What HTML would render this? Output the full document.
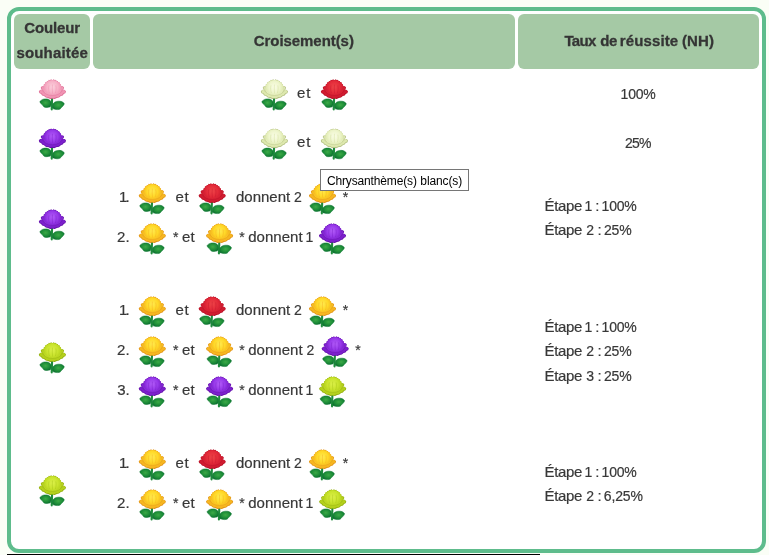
<!DOCTYPE html><html lang="fr"><head><meta charset="utf-8"><title>Chrysanthèmes</title><style>
html,body{margin:0;padding:0}body{width:769px;height:555px;overflow:hidden;position:relative;background:#fafef6;font-family:"Liberation Sans",sans-serif;color:#383838}
.tb{position:absolute;left:7px;top:7px;width:751px;height:538px;border:4px solid #5ebc8c;border-radius:12px;background:#fff}
.th{position:absolute;background:#a5c9a5;border-radius:6px}
.fl{position:absolute}
.t{position:absolute;white-space:pre;font-size:15px;line-height:20px;height:20px;-webkit-text-stroke:0.2px #383838}
.h{font-weight:bold;color:#353535;-webkit-text-stroke:0.3px #353535}
.tt{color:#000;-webkit-text-stroke:0}
.tip{position:absolute;left:320px;top:169px;width:147px;height:20px;border:1px solid #767676;background:#fff}
.bl{position:absolute;left:7px;top:554px;width:533px;height:1px;background:#000}
</style></head><body>
<div class="tb"></div>
<div class="th" style="left:14px;top:14px;width:76px;height:54.7px"></div>
<div class="th" style="left:93px;top:14px;width:422px;height:54.7px"></div>
<div class="th" style="left:518px;top:14px;width:241px;height:54.7px"></div>
<svg class="fl" style="left:36px;top:79px;" width="33" height="33" viewBox="0 0 33 33"><defs><radialGradient id="h1" cx="16.1" cy="8" r="9.2" gradientUnits="userSpaceOnUse"><stop offset="0" stop-color="#fbd1dd"/><stop offset="0.6" stop-color="#f7b3c8"/><stop offset="1" stop-color="#f094b3"/></radialGradient><radialGradient id="l1" cx="0.5" cy="0.45" r="0.6"><stop offset="0" stop-color="#3caa46"/><stop offset="0.6" stop-color="#1d8c38"/><stop offset="1" stop-color="#0c6c2e"/></radialGradient></defs><g transform="translate(0.3 0)"><g transform="translate(-0.1 0)"><path d="M15.9 18.5C15.8 23 15.6 27 15.5 30.4" fill="none" stroke="#1f8c3c" stroke-width="2.1" stroke-linecap="round"/><path d="M14.7 22.6C14.3 21.5 13.1 20.8 12.2 20.3C11.3 19.9 10.5 19.9 9.5 19.9C8.5 19.9 7.4 20.0 6.4 20.4C5.5 20.8 4.1 21.7 3.8 22.4C3.5 23.1 4.3 24.0 4.7 24.6C5.1 25.2 5.9 25.6 6.4 26.1C6.9 26.6 7.1 27.4 7.6 27.8C8.1 28.2 8.8 28.4 9.6 28.5C10.4 28.6 11.4 28.4 12.2 28.2C13.0 28.0 14.1 28.1 14.5 27.2C14.9 26.3 15.1 23.8 14.7 22.6Z" fill="url(#l1)" stroke="#0f7a34" stroke-width="0.5"/><path d="M16.6 25.2C17.0 24.2 17.9 23.5 18.8 23.0C19.7 22.5 20.9 22.3 22.0 22.2C23.1 22.1 24.5 22.2 25.5 22.6C26.5 23.0 27.8 23.9 28.0 24.6C28.2 25.3 27.4 26.2 27.0 26.8C26.6 27.4 26.0 27.8 25.5 28.3C25.0 28.8 24.7 29.5 24.0 29.9C23.3 30.3 22.4 30.6 21.5 30.6C20.6 30.7 19.5 30.4 18.6 30.2C17.8 30.0 16.7 30.0 16.4 29.2C16.1 28.4 16.2 26.2 16.6 25.2Z" fill="url(#l1)" stroke="#0f7a34" stroke-width="0.5"/></g><path d="M16.1 1.1C16.5 1.1 17.0 0.2 17.4 0.2C17.8 0.2 18.2 1.0 18.6 1.1C19.0 1.2 19.3 0.7 19.6 0.8C19.9 0.9 19.9 1.6 20.2 1.9C20.5 2.1 21.3 1.8 21.6 2.0C21.8 2.3 21.6 3.0 21.9 3.2C22.1 3.5 22.9 3.2 23.2 3.5C23.5 3.8 23.2 4.7 23.5 5.0C23.7 5.3 24.5 5.2 24.7 5.5C24.9 5.9 24.5 6.5 24.7 6.8C24.8 7.2 25.0 7.4 25.4 7.5C25.8 7.6 26.4 7.2 26.8 7.4C27.2 7.6 27.6 8.2 27.7 8.6C27.8 9.0 27.4 9.5 27.2 9.9C27.0 10.3 26.4 10.7 26.5 10.9C26.6 11.1 27.6 10.7 28.1 10.9C28.6 11.1 29.3 11.5 29.5 11.9C29.7 12.3 29.6 12.7 29.5 13.1C29.4 13.5 29.3 13.9 29.0 14.2C28.6 14.5 27.9 14.6 27.5 14.9C27.0 15.3 26.8 16.0 26.4 16.4C25.9 16.8 25.1 16.7 24.5 17.1C23.9 17.5 23.4 18.2 22.7 18.6C22.0 18.9 21.3 18.7 20.6 18.9C19.8 19.1 19.1 19.8 18.5 19.9C17.8 20.1 17.4 19.8 16.9 19.8C16.4 19.7 15.8 19.7 15.3 19.8C14.8 19.8 14.4 20.1 13.8 19.9C13.1 19.8 12.4 19.1 11.7 18.9C10.9 18.7 10.2 18.9 9.5 18.6C8.8 18.2 8.3 17.5 7.7 17.1C7.1 16.7 6.3 16.8 5.9 16.4C5.4 16.0 5.2 15.3 4.8 14.9C4.3 14.6 3.6 14.5 3.3 14.2C2.9 13.9 2.8 13.5 2.7 13.1C2.6 12.7 2.5 12.3 2.7 11.9C2.9 11.5 3.6 11.1 4.1 10.9C4.6 10.7 5.6 11.1 5.7 10.9C5.9 10.7 5.2 10.3 5.0 9.9C4.8 9.5 4.4 9.0 4.5 8.6C4.6 8.2 5.0 7.6 5.4 7.4C5.8 7.2 6.4 7.6 6.8 7.5C7.2 7.4 7.4 7.2 7.6 6.8C7.7 6.5 7.3 5.9 7.5 5.5C7.7 5.2 8.5 5.3 8.8 5.0C9.0 4.7 8.7 3.8 9.0 3.5C9.3 3.2 10.1 3.5 10.4 3.2C10.6 3.0 10.4 2.3 10.7 2.0C10.9 1.8 11.7 2.1 12.0 1.9C12.3 1.6 12.3 0.9 12.6 0.8C12.9 0.7 13.2 1.2 13.6 1.1C14.0 1.0 14.4 0.2 14.8 0.2C15.2 0.2 15.7 1.1 16.1 1.1Z" fill="#de6c94"/><path d="M16.1 2.0C16.5 2.0 16.9 1.0 17.3 1.0C17.7 1.0 18.0 1.9 18.4 2.0C18.7 2.1 19.1 1.5 19.3 1.6C19.5 1.7 19.5 2.4 19.8 2.6C20.1 2.8 20.8 2.5 21.1 2.8C21.3 3.0 21.1 3.6 21.3 3.8C21.6 4.1 22.3 3.9 22.6 4.1C22.8 4.4 22.5 5.2 22.7 5.5C23.0 5.8 23.8 5.7 23.9 5.9C24.1 6.2 23.7 6.8 23.9 7.1C24.0 7.4 24.2 7.6 24.6 7.7C24.9 7.8 25.6 7.4 26.0 7.6C26.4 7.8 26.8 8.3 26.9 8.7C26.9 9.1 26.6 9.6 26.4 9.9C26.1 10.3 25.5 10.7 25.7 10.8C25.8 11.0 26.8 10.7 27.3 10.8C27.8 11.0 28.4 11.4 28.7 11.8C28.9 12.1 28.8 12.5 28.7 12.9C28.6 13.3 28.5 13.7 28.1 13.9C27.8 14.2 27.1 14.3 26.7 14.6C26.3 14.9 26.1 15.6 25.6 15.9C25.2 16.3 24.4 16.2 23.9 16.6C23.3 16.9 22.8 17.6 22.2 17.9C21.6 18.1 20.8 17.9 20.2 18.1C19.5 18.3 18.8 19.0 18.3 19.1C17.7 19.2 17.3 18.9 16.8 18.9C16.3 18.9 15.9 18.9 15.4 18.9C14.9 18.9 14.5 19.2 13.9 19.1C13.4 19.0 12.7 18.3 12.0 18.1C11.4 17.9 10.6 18.1 10.0 17.9C9.4 17.6 8.9 16.9 8.3 16.6C7.8 16.2 7.0 16.3 6.6 15.9C6.1 15.6 5.9 14.9 5.5 14.6C5.1 14.3 4.4 14.2 4.1 13.9C3.7 13.7 3.6 13.3 3.5 12.9C3.4 12.5 3.3 12.1 3.5 11.8C3.8 11.4 4.4 11.0 4.9 10.8C5.4 10.7 6.4 11.0 6.5 10.8C6.7 10.7 6.1 10.3 5.8 9.9C5.6 9.6 5.3 9.1 5.3 8.7C5.4 8.3 5.8 7.8 6.2 7.6C6.6 7.4 7.3 7.8 7.6 7.7C8.0 7.6 8.2 7.4 8.3 7.1C8.5 6.8 8.1 6.2 8.3 5.9C8.4 5.7 9.2 5.8 9.5 5.5C9.7 5.2 9.4 4.4 9.6 4.1C9.9 3.9 10.6 4.1 10.9 3.8C11.1 3.6 10.9 3.0 11.1 2.8C11.4 2.5 12.1 2.8 12.4 2.6C12.7 2.4 12.7 1.7 12.9 1.6C13.1 1.5 13.5 2.1 13.8 2.0C14.2 1.9 14.5 1.0 14.9 1.0C15.3 1.0 15.7 2.0 16.1 2.0Z" fill="#f094b3"/><path d="M5.4 8.6C5.2 12.4 10 16.6 16.1 16.6C22.2 16.6 27 12.4 26.8 8.6C24.8 5 7.4 5 5.4 8.6Z" fill="#f7b3c8" opacity="0.55"/><ellipse cx="16.1" cy="8.3" rx="9.0" ry="7.3" fill="url(#h1)"/><path d="M5.6 10.9C7 14 11 16.4 16.1 16.5C21.2 16.4 25.2 14 26.6 10.9M6.7 7.5C6.1 9.6 6.6 11.6 8 13.3M25.5 7.5C26.1 9.6 25.6 11.6 24.2 13.3" fill="none" stroke="#de6c94" stroke-width="0.7" stroke-linecap="round" opacity="0.6"/><path d="M12.6 6.8C12.1 9 12.3 11.6 13 13.6M16.1 6C15.9 8.5 15.9 11.6 16.2 14.2M19.6 6.8C20.1 9 19.9 11.6 19.2 13.6" fill="none" stroke="#ee8cae" stroke-width="0.9" stroke-linecap="round" opacity="0.5"/></g></svg>
<svg class="fl" style="left:36px;top:128px;" width="33" height="33" viewBox="0 0 33 33"><defs><radialGradient id="h2" cx="16.1" cy="8" r="9.2" gradientUnits="userSpaceOnUse"><stop offset="0" stop-color="#b25cf8"/><stop offset="0.6" stop-color="#983aea"/><stop offset="1" stop-color="#7c20cc"/></radialGradient><radialGradient id="l2" cx="0.5" cy="0.45" r="0.6"><stop offset="0" stop-color="#3caa46"/><stop offset="0.6" stop-color="#1d8c38"/><stop offset="1" stop-color="#0c6c2e"/></radialGradient></defs><g transform="translate(0.3 0.2)"><g transform="translate(-0.1 0)"><path d="M15.9 18.5C15.8 23 15.6 27 15.5 30.4" fill="none" stroke="#1f8c3c" stroke-width="2.1" stroke-linecap="round"/><path d="M14.7 22.6C14.3 21.5 13.1 20.8 12.2 20.3C11.3 19.9 10.5 19.9 9.5 19.9C8.5 19.9 7.4 20.0 6.4 20.4C5.5 20.8 4.1 21.7 3.8 22.4C3.5 23.1 4.3 24.0 4.7 24.6C5.1 25.2 5.9 25.6 6.4 26.1C6.9 26.6 7.1 27.4 7.6 27.8C8.1 28.2 8.8 28.4 9.6 28.5C10.4 28.6 11.4 28.4 12.2 28.2C13.0 28.0 14.1 28.1 14.5 27.2C14.9 26.3 15.1 23.8 14.7 22.6Z" fill="url(#l2)" stroke="#0f7a34" stroke-width="0.5"/><path d="M16.6 25.2C17.0 24.2 17.9 23.5 18.8 23.0C19.7 22.5 20.9 22.3 22.0 22.2C23.1 22.1 24.5 22.2 25.5 22.6C26.5 23.0 27.8 23.9 28.0 24.6C28.2 25.3 27.4 26.2 27.0 26.8C26.6 27.4 26.0 27.8 25.5 28.3C25.0 28.8 24.7 29.5 24.0 29.9C23.3 30.3 22.4 30.6 21.5 30.6C20.6 30.7 19.5 30.4 18.6 30.2C17.8 30.0 16.7 30.0 16.4 29.2C16.1 28.4 16.2 26.2 16.6 25.2Z" fill="url(#l2)" stroke="#0f7a34" stroke-width="0.5"/></g><path d="M16.1 1.1C16.5 1.1 17.0 0.2 17.4 0.2C17.8 0.2 18.2 1.0 18.6 1.1C19.0 1.2 19.3 0.7 19.6 0.8C19.9 0.9 19.9 1.6 20.2 1.9C20.5 2.1 21.3 1.8 21.6 2.0C21.8 2.3 21.6 3.0 21.9 3.2C22.1 3.5 22.9 3.2 23.2 3.5C23.5 3.8 23.2 4.7 23.5 5.0C23.7 5.3 24.5 5.2 24.7 5.5C24.9 5.9 24.5 6.5 24.7 6.8C24.8 7.2 25.0 7.4 25.4 7.5C25.8 7.6 26.4 7.2 26.8 7.4C27.2 7.6 27.6 8.2 27.7 8.6C27.8 9.0 27.4 9.5 27.2 9.9C27.0 10.3 26.4 10.7 26.5 10.9C26.6 11.1 27.6 10.7 28.1 10.9C28.6 11.1 29.3 11.5 29.5 11.9C29.7 12.3 29.6 12.7 29.5 13.1C29.4 13.5 29.3 13.9 29.0 14.2C28.6 14.5 27.9 14.6 27.5 14.9C27.0 15.3 26.8 16.0 26.4 16.4C25.9 16.8 25.1 16.7 24.5 17.1C23.9 17.5 23.4 18.2 22.7 18.6C22.0 18.9 21.3 18.7 20.6 18.9C19.8 19.1 19.1 19.8 18.5 19.9C17.8 20.1 17.4 19.8 16.9 19.8C16.4 19.7 15.8 19.7 15.3 19.8C14.8 19.8 14.4 20.1 13.8 19.9C13.1 19.8 12.4 19.1 11.7 18.9C10.9 18.7 10.2 18.9 9.5 18.6C8.8 18.2 8.3 17.5 7.7 17.1C7.1 16.7 6.3 16.8 5.9 16.4C5.4 16.0 5.2 15.3 4.8 14.9C4.3 14.6 3.6 14.5 3.3 14.2C2.9 13.9 2.8 13.5 2.7 13.1C2.6 12.7 2.5 12.3 2.7 11.9C2.9 11.5 3.6 11.1 4.1 10.9C4.6 10.7 5.6 11.1 5.7 10.9C5.9 10.7 5.2 10.3 5.0 9.9C4.8 9.5 4.4 9.0 4.5 8.6C4.6 8.2 5.0 7.6 5.4 7.4C5.8 7.2 6.4 7.6 6.8 7.5C7.2 7.4 7.4 7.2 7.6 6.8C7.7 6.5 7.3 5.9 7.5 5.5C7.7 5.2 8.5 5.3 8.8 5.0C9.0 4.7 8.7 3.8 9.0 3.5C9.3 3.2 10.1 3.5 10.4 3.2C10.6 3.0 10.4 2.3 10.7 2.0C10.9 1.8 11.7 2.1 12.0 1.9C12.3 1.6 12.3 0.9 12.6 0.8C12.9 0.7 13.2 1.2 13.6 1.1C14.0 1.0 14.4 0.2 14.8 0.2C15.2 0.2 15.7 1.1 16.1 1.1Z" fill="#6410aa"/><path d="M16.1 2.0C16.5 2.0 16.9 1.0 17.3 1.0C17.7 1.0 18.0 1.9 18.4 2.0C18.7 2.1 19.1 1.5 19.3 1.6C19.5 1.7 19.5 2.4 19.8 2.6C20.1 2.8 20.8 2.5 21.1 2.8C21.3 3.0 21.1 3.6 21.3 3.8C21.6 4.1 22.3 3.9 22.6 4.1C22.8 4.4 22.5 5.2 22.7 5.5C23.0 5.8 23.8 5.7 23.9 5.9C24.1 6.2 23.7 6.8 23.9 7.1C24.0 7.4 24.2 7.6 24.6 7.7C24.9 7.8 25.6 7.4 26.0 7.6C26.4 7.8 26.8 8.3 26.9 8.7C26.9 9.1 26.6 9.6 26.4 9.9C26.1 10.3 25.5 10.7 25.7 10.8C25.8 11.0 26.8 10.7 27.3 10.8C27.8 11.0 28.4 11.4 28.7 11.8C28.9 12.1 28.8 12.5 28.7 12.9C28.6 13.3 28.5 13.7 28.1 13.9C27.8 14.2 27.1 14.3 26.7 14.6C26.3 14.9 26.1 15.6 25.6 15.9C25.2 16.3 24.4 16.2 23.9 16.6C23.3 16.9 22.8 17.6 22.2 17.9C21.6 18.1 20.8 17.9 20.2 18.1C19.5 18.3 18.8 19.0 18.3 19.1C17.7 19.2 17.3 18.9 16.8 18.9C16.3 18.9 15.9 18.9 15.4 18.9C14.9 18.9 14.5 19.2 13.9 19.1C13.4 19.0 12.7 18.3 12.0 18.1C11.4 17.9 10.6 18.1 10.0 17.9C9.4 17.6 8.9 16.9 8.3 16.6C7.8 16.2 7.0 16.3 6.6 15.9C6.1 15.6 5.9 14.9 5.5 14.6C5.1 14.3 4.4 14.2 4.1 13.9C3.7 13.7 3.6 13.3 3.5 12.9C3.4 12.5 3.3 12.1 3.5 11.8C3.8 11.4 4.4 11.0 4.9 10.8C5.4 10.7 6.4 11.0 6.5 10.8C6.7 10.7 6.1 10.3 5.8 9.9C5.6 9.6 5.3 9.1 5.3 8.7C5.4 8.3 5.8 7.8 6.2 7.6C6.6 7.4 7.3 7.8 7.6 7.7C8.0 7.6 8.2 7.4 8.3 7.1C8.5 6.8 8.1 6.2 8.3 5.9C8.4 5.7 9.2 5.8 9.5 5.5C9.7 5.2 9.4 4.4 9.6 4.1C9.9 3.9 10.6 4.1 10.9 3.8C11.1 3.6 10.9 3.0 11.1 2.8C11.4 2.5 12.1 2.8 12.4 2.6C12.7 2.4 12.7 1.7 12.9 1.6C13.1 1.5 13.5 2.1 13.8 2.0C14.2 1.9 14.5 1.0 14.9 1.0C15.3 1.0 15.7 2.0 16.1 2.0Z" fill="#7c20cc"/><path d="M5.4 8.6C5.2 12.4 10 16.6 16.1 16.6C22.2 16.6 27 12.4 26.8 8.6C24.8 5 7.4 5 5.4 8.6Z" fill="#983aea" opacity="0.55"/><ellipse cx="16.1" cy="8.3" rx="9.0" ry="7.3" fill="url(#h2)"/><path d="M5.6 10.9C7 14 11 16.4 16.1 16.5C21.2 16.4 25.2 14 26.6 10.9M6.7 7.5C6.1 9.6 6.6 11.6 8 13.3M25.5 7.5C26.1 9.6 25.6 11.6 24.2 13.3" fill="none" stroke="#6410aa" stroke-width="0.7" stroke-linecap="round" opacity="0.6"/><path d="M12.6 6.8C12.1 9 12.3 11.6 13 13.6M16.1 6C15.9 8.5 15.9 11.6 16.2 14.2M19.6 6.8C20.1 9 19.9 11.6 19.2 13.6" fill="none" stroke="#7a20c8" stroke-width="0.9" stroke-linecap="round" opacity="0.5"/></g></svg>
<svg class="fl" style="left:36px;top:209px;" width="33" height="33" viewBox="0 0 33 33"><defs><radialGradient id="h3" cx="16.1" cy="8" r="9.2" gradientUnits="userSpaceOnUse"><stop offset="0" stop-color="#b25cf8"/><stop offset="0.6" stop-color="#983aea"/><stop offset="1" stop-color="#7c20cc"/></radialGradient><radialGradient id="l3" cx="0.5" cy="0.45" r="0.6"><stop offset="0" stop-color="#3caa46"/><stop offset="0.6" stop-color="#1d8c38"/><stop offset="1" stop-color="#0c6c2e"/></radialGradient></defs><g transform="translate(0.3 0)"><g transform="translate(-0.1 0)"><path d="M15.9 18.5C15.8 23 15.6 27 15.5 30.4" fill="none" stroke="#1f8c3c" stroke-width="2.1" stroke-linecap="round"/><path d="M14.7 22.6C14.3 21.5 13.1 20.8 12.2 20.3C11.3 19.9 10.5 19.9 9.5 19.9C8.5 19.9 7.4 20.0 6.4 20.4C5.5 20.8 4.1 21.7 3.8 22.4C3.5 23.1 4.3 24.0 4.7 24.6C5.1 25.2 5.9 25.6 6.4 26.1C6.9 26.6 7.1 27.4 7.6 27.8C8.1 28.2 8.8 28.4 9.6 28.5C10.4 28.6 11.4 28.4 12.2 28.2C13.0 28.0 14.1 28.1 14.5 27.2C14.9 26.3 15.1 23.8 14.7 22.6Z" fill="url(#l3)" stroke="#0f7a34" stroke-width="0.5"/><path d="M16.6 25.2C17.0 24.2 17.9 23.5 18.8 23.0C19.7 22.5 20.9 22.3 22.0 22.2C23.1 22.1 24.5 22.2 25.5 22.6C26.5 23.0 27.8 23.9 28.0 24.6C28.2 25.3 27.4 26.2 27.0 26.8C26.6 27.4 26.0 27.8 25.5 28.3C25.0 28.8 24.7 29.5 24.0 29.9C23.3 30.3 22.4 30.6 21.5 30.6C20.6 30.7 19.5 30.4 18.6 30.2C17.8 30.0 16.7 30.0 16.4 29.2C16.1 28.4 16.2 26.2 16.6 25.2Z" fill="url(#l3)" stroke="#0f7a34" stroke-width="0.5"/></g><path d="M16.1 1.1C16.5 1.1 17.0 0.2 17.4 0.2C17.8 0.2 18.2 1.0 18.6 1.1C19.0 1.2 19.3 0.7 19.6 0.8C19.9 0.9 19.9 1.6 20.2 1.9C20.5 2.1 21.3 1.8 21.6 2.0C21.8 2.3 21.6 3.0 21.9 3.2C22.1 3.5 22.9 3.2 23.2 3.5C23.5 3.8 23.2 4.7 23.5 5.0C23.7 5.3 24.5 5.2 24.7 5.5C24.9 5.9 24.5 6.5 24.7 6.8C24.8 7.2 25.0 7.4 25.4 7.5C25.8 7.6 26.4 7.2 26.8 7.4C27.2 7.6 27.6 8.2 27.7 8.6C27.8 9.0 27.4 9.5 27.2 9.9C27.0 10.3 26.4 10.7 26.5 10.9C26.6 11.1 27.6 10.7 28.1 10.9C28.6 11.1 29.3 11.5 29.5 11.9C29.7 12.3 29.6 12.7 29.5 13.1C29.4 13.5 29.3 13.9 29.0 14.2C28.6 14.5 27.9 14.6 27.5 14.9C27.0 15.3 26.8 16.0 26.4 16.4C25.9 16.8 25.1 16.7 24.5 17.1C23.9 17.5 23.4 18.2 22.7 18.6C22.0 18.9 21.3 18.7 20.6 18.9C19.8 19.1 19.1 19.8 18.5 19.9C17.8 20.1 17.4 19.8 16.9 19.8C16.4 19.7 15.8 19.7 15.3 19.8C14.8 19.8 14.4 20.1 13.8 19.9C13.1 19.8 12.4 19.1 11.7 18.9C10.9 18.7 10.2 18.9 9.5 18.6C8.8 18.2 8.3 17.5 7.7 17.1C7.1 16.7 6.3 16.8 5.9 16.4C5.4 16.0 5.2 15.3 4.8 14.9C4.3 14.6 3.6 14.5 3.3 14.2C2.9 13.9 2.8 13.5 2.7 13.1C2.6 12.7 2.5 12.3 2.7 11.9C2.9 11.5 3.6 11.1 4.1 10.9C4.6 10.7 5.6 11.1 5.7 10.9C5.9 10.7 5.2 10.3 5.0 9.9C4.8 9.5 4.4 9.0 4.5 8.6C4.6 8.2 5.0 7.6 5.4 7.4C5.8 7.2 6.4 7.6 6.8 7.5C7.2 7.4 7.4 7.2 7.6 6.8C7.7 6.5 7.3 5.9 7.5 5.5C7.7 5.2 8.5 5.3 8.8 5.0C9.0 4.7 8.7 3.8 9.0 3.5C9.3 3.2 10.1 3.5 10.4 3.2C10.6 3.0 10.4 2.3 10.7 2.0C10.9 1.8 11.7 2.1 12.0 1.9C12.3 1.6 12.3 0.9 12.6 0.8C12.9 0.7 13.2 1.2 13.6 1.1C14.0 1.0 14.4 0.2 14.8 0.2C15.2 0.2 15.7 1.1 16.1 1.1Z" fill="#6410aa"/><path d="M16.1 2.0C16.5 2.0 16.9 1.0 17.3 1.0C17.7 1.0 18.0 1.9 18.4 2.0C18.7 2.1 19.1 1.5 19.3 1.6C19.5 1.7 19.5 2.4 19.8 2.6C20.1 2.8 20.8 2.5 21.1 2.8C21.3 3.0 21.1 3.6 21.3 3.8C21.6 4.1 22.3 3.9 22.6 4.1C22.8 4.4 22.5 5.2 22.7 5.5C23.0 5.8 23.8 5.7 23.9 5.9C24.1 6.2 23.7 6.8 23.9 7.1C24.0 7.4 24.2 7.6 24.6 7.7C24.9 7.8 25.6 7.4 26.0 7.6C26.4 7.8 26.8 8.3 26.9 8.7C26.9 9.1 26.6 9.6 26.4 9.9C26.1 10.3 25.5 10.7 25.7 10.8C25.8 11.0 26.8 10.7 27.3 10.8C27.8 11.0 28.4 11.4 28.7 11.8C28.9 12.1 28.8 12.5 28.7 12.9C28.6 13.3 28.5 13.7 28.1 13.9C27.8 14.2 27.1 14.3 26.7 14.6C26.3 14.9 26.1 15.6 25.6 15.9C25.2 16.3 24.4 16.2 23.9 16.6C23.3 16.9 22.8 17.6 22.2 17.9C21.6 18.1 20.8 17.9 20.2 18.1C19.5 18.3 18.8 19.0 18.3 19.1C17.7 19.2 17.3 18.9 16.8 18.9C16.3 18.9 15.9 18.9 15.4 18.9C14.9 18.9 14.5 19.2 13.9 19.1C13.4 19.0 12.7 18.3 12.0 18.1C11.4 17.9 10.6 18.1 10.0 17.9C9.4 17.6 8.9 16.9 8.3 16.6C7.8 16.2 7.0 16.3 6.6 15.9C6.1 15.6 5.9 14.9 5.5 14.6C5.1 14.3 4.4 14.2 4.1 13.9C3.7 13.7 3.6 13.3 3.5 12.9C3.4 12.5 3.3 12.1 3.5 11.8C3.8 11.4 4.4 11.0 4.9 10.8C5.4 10.7 6.4 11.0 6.5 10.8C6.7 10.7 6.1 10.3 5.8 9.9C5.6 9.6 5.3 9.1 5.3 8.7C5.4 8.3 5.8 7.8 6.2 7.6C6.6 7.4 7.3 7.8 7.6 7.7C8.0 7.6 8.2 7.4 8.3 7.1C8.5 6.8 8.1 6.2 8.3 5.9C8.4 5.7 9.2 5.8 9.5 5.5C9.7 5.2 9.4 4.4 9.6 4.1C9.9 3.9 10.6 4.1 10.9 3.8C11.1 3.6 10.9 3.0 11.1 2.8C11.4 2.5 12.1 2.8 12.4 2.6C12.7 2.4 12.7 1.7 12.9 1.6C13.1 1.5 13.5 2.1 13.8 2.0C14.2 1.9 14.5 1.0 14.9 1.0C15.3 1.0 15.7 2.0 16.1 2.0Z" fill="#7c20cc"/><path d="M5.4 8.6C5.2 12.4 10 16.6 16.1 16.6C22.2 16.6 27 12.4 26.8 8.6C24.8 5 7.4 5 5.4 8.6Z" fill="#983aea" opacity="0.55"/><ellipse cx="16.1" cy="8.3" rx="9.0" ry="7.3" fill="url(#h3)"/><path d="M5.6 10.9C7 14 11 16.4 16.1 16.5C21.2 16.4 25.2 14 26.6 10.9M6.7 7.5C6.1 9.6 6.6 11.6 8 13.3M25.5 7.5C26.1 9.6 25.6 11.6 24.2 13.3" fill="none" stroke="#6410aa" stroke-width="0.7" stroke-linecap="round" opacity="0.6"/><path d="M12.6 6.8C12.1 9 12.3 11.6 13 13.6M16.1 6C15.9 8.5 15.9 11.6 16.2 14.2M19.6 6.8C20.1 9 19.9 11.6 19.2 13.6" fill="none" stroke="#7a20c8" stroke-width="0.9" stroke-linecap="round" opacity="0.5"/></g></svg>
<svg class="fl" style="left:36px;top:342px;" width="33" height="33" viewBox="0 0 33 33"><defs><radialGradient id="h4" cx="16.1" cy="8" r="9.2" gradientUnits="userSpaceOnUse"><stop offset="0" stop-color="#dcf04a"/><stop offset="0.6" stop-color="#cae42e"/><stop offset="1" stop-color="#b4d01c"/></radialGradient><radialGradient id="l4" cx="0.5" cy="0.45" r="0.6"><stop offset="0" stop-color="#3caa46"/><stop offset="0.6" stop-color="#1d8c38"/><stop offset="1" stop-color="#0c6c2e"/></radialGradient></defs><g transform="translate(0.3 0)"><g transform="translate(-0.1 0)"><path d="M15.9 18.5C15.8 23 15.6 27 15.5 30.4" fill="none" stroke="#1f8c3c" stroke-width="2.1" stroke-linecap="round"/><path d="M14.7 22.6C14.3 21.5 13.1 20.8 12.2 20.3C11.3 19.9 10.5 19.9 9.5 19.9C8.5 19.9 7.4 20.0 6.4 20.4C5.5 20.8 4.1 21.7 3.8 22.4C3.5 23.1 4.3 24.0 4.7 24.6C5.1 25.2 5.9 25.6 6.4 26.1C6.9 26.6 7.1 27.4 7.6 27.8C8.1 28.2 8.8 28.4 9.6 28.5C10.4 28.6 11.4 28.4 12.2 28.2C13.0 28.0 14.1 28.1 14.5 27.2C14.9 26.3 15.1 23.8 14.7 22.6Z" fill="url(#l4)" stroke="#0f7a34" stroke-width="0.5"/><path d="M16.6 25.2C17.0 24.2 17.9 23.5 18.8 23.0C19.7 22.5 20.9 22.3 22.0 22.2C23.1 22.1 24.5 22.2 25.5 22.6C26.5 23.0 27.8 23.9 28.0 24.6C28.2 25.3 27.4 26.2 27.0 26.8C26.6 27.4 26.0 27.8 25.5 28.3C25.0 28.8 24.7 29.5 24.0 29.9C23.3 30.3 22.4 30.6 21.5 30.6C20.6 30.7 19.5 30.4 18.6 30.2C17.8 30.0 16.7 30.0 16.4 29.2C16.1 28.4 16.2 26.2 16.6 25.2Z" fill="url(#l4)" stroke="#0f7a34" stroke-width="0.5"/></g><path d="M16.1 1.1C16.5 1.1 17.0 0.2 17.4 0.2C17.8 0.2 18.2 1.0 18.6 1.1C19.0 1.2 19.3 0.7 19.6 0.8C19.9 0.9 19.9 1.6 20.2 1.9C20.5 2.1 21.3 1.8 21.6 2.0C21.8 2.3 21.6 3.0 21.9 3.2C22.1 3.5 22.9 3.2 23.2 3.5C23.5 3.8 23.2 4.7 23.5 5.0C23.7 5.3 24.5 5.2 24.7 5.5C24.9 5.9 24.5 6.5 24.7 6.8C24.8 7.2 25.0 7.4 25.4 7.5C25.8 7.6 26.4 7.2 26.8 7.4C27.2 7.6 27.6 8.2 27.7 8.6C27.8 9.0 27.4 9.5 27.2 9.9C27.0 10.3 26.4 10.7 26.5 10.9C26.6 11.1 27.6 10.7 28.1 10.9C28.6 11.1 29.3 11.5 29.5 11.9C29.7 12.3 29.6 12.7 29.5 13.1C29.4 13.5 29.3 13.9 29.0 14.2C28.6 14.5 27.9 14.6 27.5 14.9C27.0 15.3 26.8 16.0 26.4 16.4C25.9 16.8 25.1 16.7 24.5 17.1C23.9 17.5 23.4 18.2 22.7 18.6C22.0 18.9 21.3 18.7 20.6 18.9C19.8 19.1 19.1 19.8 18.5 19.9C17.8 20.1 17.4 19.8 16.9 19.8C16.4 19.7 15.8 19.7 15.3 19.8C14.8 19.8 14.4 20.1 13.8 19.9C13.1 19.8 12.4 19.1 11.7 18.9C10.9 18.7 10.2 18.9 9.5 18.6C8.8 18.2 8.3 17.5 7.7 17.1C7.1 16.7 6.3 16.8 5.9 16.4C5.4 16.0 5.2 15.3 4.8 14.9C4.3 14.6 3.6 14.5 3.3 14.2C2.9 13.9 2.8 13.5 2.7 13.1C2.6 12.7 2.5 12.3 2.7 11.9C2.9 11.5 3.6 11.1 4.1 10.9C4.6 10.7 5.6 11.1 5.7 10.9C5.9 10.7 5.2 10.3 5.0 9.9C4.8 9.5 4.4 9.0 4.5 8.6C4.6 8.2 5.0 7.6 5.4 7.4C5.8 7.2 6.4 7.6 6.8 7.5C7.2 7.4 7.4 7.2 7.6 6.8C7.7 6.5 7.3 5.9 7.5 5.5C7.7 5.2 8.5 5.3 8.8 5.0C9.0 4.7 8.7 3.8 9.0 3.5C9.3 3.2 10.1 3.5 10.4 3.2C10.6 3.0 10.4 2.3 10.7 2.0C10.9 1.8 11.7 2.1 12.0 1.9C12.3 1.6 12.3 0.9 12.6 0.8C12.9 0.7 13.2 1.2 13.6 1.1C14.0 1.0 14.4 0.2 14.8 0.2C15.2 0.2 15.7 1.1 16.1 1.1Z" fill="#93ae0e"/><path d="M16.1 2.0C16.5 2.0 16.9 1.0 17.3 1.0C17.7 1.0 18.0 1.9 18.4 2.0C18.7 2.1 19.1 1.5 19.3 1.6C19.5 1.7 19.5 2.4 19.8 2.6C20.1 2.8 20.8 2.5 21.1 2.8C21.3 3.0 21.1 3.6 21.3 3.8C21.6 4.1 22.3 3.9 22.6 4.1C22.8 4.4 22.5 5.2 22.7 5.5C23.0 5.8 23.8 5.7 23.9 5.9C24.1 6.2 23.7 6.8 23.9 7.1C24.0 7.4 24.2 7.6 24.6 7.7C24.9 7.8 25.6 7.4 26.0 7.6C26.4 7.8 26.8 8.3 26.9 8.7C26.9 9.1 26.6 9.6 26.4 9.9C26.1 10.3 25.5 10.7 25.7 10.8C25.8 11.0 26.8 10.7 27.3 10.8C27.8 11.0 28.4 11.4 28.7 11.8C28.9 12.1 28.8 12.5 28.7 12.9C28.6 13.3 28.5 13.7 28.1 13.9C27.8 14.2 27.1 14.3 26.7 14.6C26.3 14.9 26.1 15.6 25.6 15.9C25.2 16.3 24.4 16.2 23.9 16.6C23.3 16.9 22.8 17.6 22.2 17.9C21.6 18.1 20.8 17.9 20.2 18.1C19.5 18.3 18.8 19.0 18.3 19.1C17.7 19.2 17.3 18.9 16.8 18.9C16.3 18.9 15.9 18.9 15.4 18.9C14.9 18.9 14.5 19.2 13.9 19.1C13.4 19.0 12.7 18.3 12.0 18.1C11.4 17.9 10.6 18.1 10.0 17.9C9.4 17.6 8.9 16.9 8.3 16.6C7.8 16.2 7.0 16.3 6.6 15.9C6.1 15.6 5.9 14.9 5.5 14.6C5.1 14.3 4.4 14.2 4.1 13.9C3.7 13.7 3.6 13.3 3.5 12.9C3.4 12.5 3.3 12.1 3.5 11.8C3.8 11.4 4.4 11.0 4.9 10.8C5.4 10.7 6.4 11.0 6.5 10.8C6.7 10.7 6.1 10.3 5.8 9.9C5.6 9.6 5.3 9.1 5.3 8.7C5.4 8.3 5.8 7.8 6.2 7.6C6.6 7.4 7.3 7.8 7.6 7.7C8.0 7.6 8.2 7.4 8.3 7.1C8.5 6.8 8.1 6.2 8.3 5.9C8.4 5.7 9.2 5.8 9.5 5.5C9.7 5.2 9.4 4.4 9.6 4.1C9.9 3.9 10.6 4.1 10.9 3.8C11.1 3.6 10.9 3.0 11.1 2.8C11.4 2.5 12.1 2.8 12.4 2.6C12.7 2.4 12.7 1.7 12.9 1.6C13.1 1.5 13.5 2.1 13.8 2.0C14.2 1.9 14.5 1.0 14.9 1.0C15.3 1.0 15.7 2.0 16.1 2.0Z" fill="#b4d01c"/><path d="M5.4 8.6C5.2 12.4 10 16.6 16.1 16.6C22.2 16.6 27 12.4 26.8 8.6C24.8 5 7.4 5 5.4 8.6Z" fill="#cae42e" opacity="0.55"/><ellipse cx="16.1" cy="8.3" rx="9.0" ry="7.3" fill="url(#h4)"/><path d="M5.6 10.9C7 14 11 16.4 16.1 16.5C21.2 16.4 25.2 14 26.6 10.9M6.7 7.5C6.1 9.6 6.6 11.6 8 13.3M25.5 7.5C26.1 9.6 25.6 11.6 24.2 13.3" fill="none" stroke="#93ae0e" stroke-width="0.7" stroke-linecap="round" opacity="0.6"/><path d="M12.6 6.8C12.1 9 12.3 11.6 13 13.6M16.1 6C15.9 8.5 15.9 11.6 16.2 14.2M19.6 6.8C20.1 9 19.9 11.6 19.2 13.6" fill="none" stroke="#a6c416" stroke-width="0.9" stroke-linecap="round" opacity="0.5"/></g></svg>
<svg class="fl" style="left:36px;top:475px;" width="33" height="33" viewBox="0 0 33 33"><defs><radialGradient id="h5" cx="16.1" cy="8" r="9.2" gradientUnits="userSpaceOnUse"><stop offset="0" stop-color="#dcf04a"/><stop offset="0.6" stop-color="#cae42e"/><stop offset="1" stop-color="#b4d01c"/></radialGradient><radialGradient id="l5" cx="0.5" cy="0.45" r="0.6"><stop offset="0" stop-color="#3caa46"/><stop offset="0.6" stop-color="#1d8c38"/><stop offset="1" stop-color="#0c6c2e"/></radialGradient></defs><g transform="translate(0.3 0)"><g transform="translate(-0.1 0)"><path d="M15.9 18.5C15.8 23 15.6 27 15.5 30.4" fill="none" stroke="#1f8c3c" stroke-width="2.1" stroke-linecap="round"/><path d="M14.7 22.6C14.3 21.5 13.1 20.8 12.2 20.3C11.3 19.9 10.5 19.9 9.5 19.9C8.5 19.9 7.4 20.0 6.4 20.4C5.5 20.8 4.1 21.7 3.8 22.4C3.5 23.1 4.3 24.0 4.7 24.6C5.1 25.2 5.9 25.6 6.4 26.1C6.9 26.6 7.1 27.4 7.6 27.8C8.1 28.2 8.8 28.4 9.6 28.5C10.4 28.6 11.4 28.4 12.2 28.2C13.0 28.0 14.1 28.1 14.5 27.2C14.9 26.3 15.1 23.8 14.7 22.6Z" fill="url(#l5)" stroke="#0f7a34" stroke-width="0.5"/><path d="M16.6 25.2C17.0 24.2 17.9 23.5 18.8 23.0C19.7 22.5 20.9 22.3 22.0 22.2C23.1 22.1 24.5 22.2 25.5 22.6C26.5 23.0 27.8 23.9 28.0 24.6C28.2 25.3 27.4 26.2 27.0 26.8C26.6 27.4 26.0 27.8 25.5 28.3C25.0 28.8 24.7 29.5 24.0 29.9C23.3 30.3 22.4 30.6 21.5 30.6C20.6 30.7 19.5 30.4 18.6 30.2C17.8 30.0 16.7 30.0 16.4 29.2C16.1 28.4 16.2 26.2 16.6 25.2Z" fill="url(#l5)" stroke="#0f7a34" stroke-width="0.5"/></g><path d="M16.1 1.1C16.5 1.1 17.0 0.2 17.4 0.2C17.8 0.2 18.2 1.0 18.6 1.1C19.0 1.2 19.3 0.7 19.6 0.8C19.9 0.9 19.9 1.6 20.2 1.9C20.5 2.1 21.3 1.8 21.6 2.0C21.8 2.3 21.6 3.0 21.9 3.2C22.1 3.5 22.9 3.2 23.2 3.5C23.5 3.8 23.2 4.7 23.5 5.0C23.7 5.3 24.5 5.2 24.7 5.5C24.9 5.9 24.5 6.5 24.7 6.8C24.8 7.2 25.0 7.4 25.4 7.5C25.8 7.6 26.4 7.2 26.8 7.4C27.2 7.6 27.6 8.2 27.7 8.6C27.8 9.0 27.4 9.5 27.2 9.9C27.0 10.3 26.4 10.7 26.5 10.9C26.6 11.1 27.6 10.7 28.1 10.9C28.6 11.1 29.3 11.5 29.5 11.9C29.7 12.3 29.6 12.7 29.5 13.1C29.4 13.5 29.3 13.9 29.0 14.2C28.6 14.5 27.9 14.6 27.5 14.9C27.0 15.3 26.8 16.0 26.4 16.4C25.9 16.8 25.1 16.7 24.5 17.1C23.9 17.5 23.4 18.2 22.7 18.6C22.0 18.9 21.3 18.7 20.6 18.9C19.8 19.1 19.1 19.8 18.5 19.9C17.8 20.1 17.4 19.8 16.9 19.8C16.4 19.7 15.8 19.7 15.3 19.8C14.8 19.8 14.4 20.1 13.8 19.9C13.1 19.8 12.4 19.1 11.7 18.9C10.9 18.7 10.2 18.9 9.5 18.6C8.8 18.2 8.3 17.5 7.7 17.1C7.1 16.7 6.3 16.8 5.9 16.4C5.4 16.0 5.2 15.3 4.8 14.9C4.3 14.6 3.6 14.5 3.3 14.2C2.9 13.9 2.8 13.5 2.7 13.1C2.6 12.7 2.5 12.3 2.7 11.9C2.9 11.5 3.6 11.1 4.1 10.9C4.6 10.7 5.6 11.1 5.7 10.9C5.9 10.7 5.2 10.3 5.0 9.9C4.8 9.5 4.4 9.0 4.5 8.6C4.6 8.2 5.0 7.6 5.4 7.4C5.8 7.2 6.4 7.6 6.8 7.5C7.2 7.4 7.4 7.2 7.6 6.8C7.7 6.5 7.3 5.9 7.5 5.5C7.7 5.2 8.5 5.3 8.8 5.0C9.0 4.7 8.7 3.8 9.0 3.5C9.3 3.2 10.1 3.5 10.4 3.2C10.6 3.0 10.4 2.3 10.7 2.0C10.9 1.8 11.7 2.1 12.0 1.9C12.3 1.6 12.3 0.9 12.6 0.8C12.9 0.7 13.2 1.2 13.6 1.1C14.0 1.0 14.4 0.2 14.8 0.2C15.2 0.2 15.7 1.1 16.1 1.1Z" fill="#93ae0e"/><path d="M16.1 2.0C16.5 2.0 16.9 1.0 17.3 1.0C17.7 1.0 18.0 1.9 18.4 2.0C18.7 2.1 19.1 1.5 19.3 1.6C19.5 1.7 19.5 2.4 19.8 2.6C20.1 2.8 20.8 2.5 21.1 2.8C21.3 3.0 21.1 3.6 21.3 3.8C21.6 4.1 22.3 3.9 22.6 4.1C22.8 4.4 22.5 5.2 22.7 5.5C23.0 5.8 23.8 5.7 23.9 5.9C24.1 6.2 23.7 6.8 23.9 7.1C24.0 7.4 24.2 7.6 24.6 7.7C24.9 7.8 25.6 7.4 26.0 7.6C26.4 7.8 26.8 8.3 26.9 8.7C26.9 9.1 26.6 9.6 26.4 9.9C26.1 10.3 25.5 10.7 25.7 10.8C25.8 11.0 26.8 10.7 27.3 10.8C27.8 11.0 28.4 11.4 28.7 11.8C28.9 12.1 28.8 12.5 28.7 12.9C28.6 13.3 28.5 13.7 28.1 13.9C27.8 14.2 27.1 14.3 26.7 14.6C26.3 14.9 26.1 15.6 25.6 15.9C25.2 16.3 24.4 16.2 23.9 16.6C23.3 16.9 22.8 17.6 22.2 17.9C21.6 18.1 20.8 17.9 20.2 18.1C19.5 18.3 18.8 19.0 18.3 19.1C17.7 19.2 17.3 18.9 16.8 18.9C16.3 18.9 15.9 18.9 15.4 18.9C14.9 18.9 14.5 19.2 13.9 19.1C13.4 19.0 12.7 18.3 12.0 18.1C11.4 17.9 10.6 18.1 10.0 17.9C9.4 17.6 8.9 16.9 8.3 16.6C7.8 16.2 7.0 16.3 6.6 15.9C6.1 15.6 5.9 14.9 5.5 14.6C5.1 14.3 4.4 14.2 4.1 13.9C3.7 13.7 3.6 13.3 3.5 12.9C3.4 12.5 3.3 12.1 3.5 11.8C3.8 11.4 4.4 11.0 4.9 10.8C5.4 10.7 6.4 11.0 6.5 10.8C6.7 10.7 6.1 10.3 5.8 9.9C5.6 9.6 5.3 9.1 5.3 8.7C5.4 8.3 5.8 7.8 6.2 7.6C6.6 7.4 7.3 7.8 7.6 7.7C8.0 7.6 8.2 7.4 8.3 7.1C8.5 6.8 8.1 6.2 8.3 5.9C8.4 5.7 9.2 5.8 9.5 5.5C9.7 5.2 9.4 4.4 9.6 4.1C9.9 3.9 10.6 4.1 10.9 3.8C11.1 3.6 10.9 3.0 11.1 2.8C11.4 2.5 12.1 2.8 12.4 2.6C12.7 2.4 12.7 1.7 12.9 1.6C13.1 1.5 13.5 2.1 13.8 2.0C14.2 1.9 14.5 1.0 14.9 1.0C15.3 1.0 15.7 2.0 16.1 2.0Z" fill="#b4d01c"/><path d="M5.4 8.6C5.2 12.4 10 16.6 16.1 16.6C22.2 16.6 27 12.4 26.8 8.6C24.8 5 7.4 5 5.4 8.6Z" fill="#cae42e" opacity="0.55"/><ellipse cx="16.1" cy="8.3" rx="9.0" ry="7.3" fill="url(#h5)"/><path d="M5.6 10.9C7 14 11 16.4 16.1 16.5C21.2 16.4 25.2 14 26.6 10.9M6.7 7.5C6.1 9.6 6.6 11.6 8 13.3M25.5 7.5C26.1 9.6 25.6 11.6 24.2 13.3" fill="none" stroke="#93ae0e" stroke-width="0.7" stroke-linecap="round" opacity="0.6"/><path d="M12.6 6.8C12.1 9 12.3 11.6 13 13.6M16.1 6C15.9 8.5 15.9 11.6 16.2 14.2M19.6 6.8C20.1 9 19.9 11.6 19.2 13.6" fill="none" stroke="#a6c416" stroke-width="0.9" stroke-linecap="round" opacity="0.5"/></g></svg>
<svg class="fl" style="left:258px;top:79px;" width="33" height="33" viewBox="0 0 33 33"><defs><radialGradient id="h6" cx="16.1" cy="8" r="9.2" gradientUnits="userSpaceOnUse"><stop offset="0" stop-color="#fafde6"/><stop offset="0.6" stop-color="#eef5cc"/><stop offset="1" stop-color="#dde8ae"/></radialGradient><radialGradient id="l6" cx="0.5" cy="0.45" r="0.6"><stop offset="0" stop-color="#3caa46"/><stop offset="0.6" stop-color="#1d8c38"/><stop offset="1" stop-color="#0c6c2e"/></radialGradient></defs><g transform="translate(0.3 0)"><g transform="translate(-0.1 0)"><path d="M15.9 18.5C15.8 23 15.6 27 15.5 30.4" fill="none" stroke="#1f8c3c" stroke-width="2.1" stroke-linecap="round"/><path d="M14.7 22.6C14.3 21.5 13.1 20.8 12.2 20.3C11.3 19.9 10.5 19.9 9.5 19.9C8.5 19.9 7.4 20.0 6.4 20.4C5.5 20.8 4.1 21.7 3.8 22.4C3.5 23.1 4.3 24.0 4.7 24.6C5.1 25.2 5.9 25.6 6.4 26.1C6.9 26.6 7.1 27.4 7.6 27.8C8.1 28.2 8.8 28.4 9.6 28.5C10.4 28.6 11.4 28.4 12.2 28.2C13.0 28.0 14.1 28.1 14.5 27.2C14.9 26.3 15.1 23.8 14.7 22.6Z" fill="url(#l6)" stroke="#0f7a34" stroke-width="0.5"/><path d="M16.6 25.2C17.0 24.2 17.9 23.5 18.8 23.0C19.7 22.5 20.9 22.3 22.0 22.2C23.1 22.1 24.5 22.2 25.5 22.6C26.5 23.0 27.8 23.9 28.0 24.6C28.2 25.3 27.4 26.2 27.0 26.8C26.6 27.4 26.0 27.8 25.5 28.3C25.0 28.8 24.7 29.5 24.0 29.9C23.3 30.3 22.4 30.6 21.5 30.6C20.6 30.7 19.5 30.4 18.6 30.2C17.8 30.0 16.7 30.0 16.4 29.2C16.1 28.4 16.2 26.2 16.6 25.2Z" fill="url(#l6)" stroke="#0f7a34" stroke-width="0.5"/></g><path d="M16.1 1.1C16.5 1.1 17.0 0.2 17.4 0.2C17.8 0.2 18.2 1.0 18.6 1.1C19.0 1.2 19.3 0.7 19.6 0.8C19.9 0.9 19.9 1.6 20.2 1.9C20.5 2.1 21.3 1.8 21.6 2.0C21.8 2.3 21.6 3.0 21.9 3.2C22.1 3.5 22.9 3.2 23.2 3.5C23.5 3.8 23.2 4.7 23.5 5.0C23.7 5.3 24.5 5.2 24.7 5.5C24.9 5.9 24.5 6.5 24.7 6.8C24.8 7.2 25.0 7.4 25.4 7.5C25.8 7.6 26.4 7.2 26.8 7.4C27.2 7.6 27.6 8.2 27.7 8.6C27.8 9.0 27.4 9.5 27.2 9.9C27.0 10.3 26.4 10.7 26.5 10.9C26.6 11.1 27.6 10.7 28.1 10.9C28.6 11.1 29.3 11.5 29.5 11.9C29.7 12.3 29.6 12.7 29.5 13.1C29.4 13.5 29.3 13.9 29.0 14.2C28.6 14.5 27.9 14.6 27.5 14.9C27.0 15.3 26.8 16.0 26.4 16.4C25.9 16.8 25.1 16.7 24.5 17.1C23.9 17.5 23.4 18.2 22.7 18.6C22.0 18.9 21.3 18.7 20.6 18.9C19.8 19.1 19.1 19.8 18.5 19.9C17.8 20.1 17.4 19.8 16.9 19.8C16.4 19.7 15.8 19.7 15.3 19.8C14.8 19.8 14.4 20.1 13.8 19.9C13.1 19.8 12.4 19.1 11.7 18.9C10.9 18.7 10.2 18.9 9.5 18.6C8.8 18.2 8.3 17.5 7.7 17.1C7.1 16.7 6.3 16.8 5.9 16.4C5.4 16.0 5.2 15.3 4.8 14.9C4.3 14.6 3.6 14.5 3.3 14.2C2.9 13.9 2.8 13.5 2.7 13.1C2.6 12.7 2.5 12.3 2.7 11.9C2.9 11.5 3.6 11.1 4.1 10.9C4.6 10.7 5.6 11.1 5.7 10.9C5.9 10.7 5.2 10.3 5.0 9.9C4.8 9.5 4.4 9.0 4.5 8.6C4.6 8.2 5.0 7.6 5.4 7.4C5.8 7.2 6.4 7.6 6.8 7.5C7.2 7.4 7.4 7.2 7.6 6.8C7.7 6.5 7.3 5.9 7.5 5.5C7.7 5.2 8.5 5.3 8.8 5.0C9.0 4.7 8.7 3.8 9.0 3.5C9.3 3.2 10.1 3.5 10.4 3.2C10.6 3.0 10.4 2.3 10.7 2.0C10.9 1.8 11.7 2.1 12.0 1.9C12.3 1.6 12.3 0.9 12.6 0.8C12.9 0.7 13.2 1.2 13.6 1.1C14.0 1.0 14.4 0.2 14.8 0.2C15.2 0.2 15.7 1.1 16.1 1.1Z" fill="#b3bf80"/><path d="M16.1 2.0C16.5 2.0 16.9 1.0 17.3 1.0C17.7 1.0 18.0 1.9 18.4 2.0C18.7 2.1 19.1 1.5 19.3 1.6C19.5 1.7 19.5 2.4 19.8 2.6C20.1 2.8 20.8 2.5 21.1 2.8C21.3 3.0 21.1 3.6 21.3 3.8C21.6 4.1 22.3 3.9 22.6 4.1C22.8 4.4 22.5 5.2 22.7 5.5C23.0 5.8 23.8 5.7 23.9 5.9C24.1 6.2 23.7 6.8 23.9 7.1C24.0 7.4 24.2 7.6 24.6 7.7C24.9 7.8 25.6 7.4 26.0 7.6C26.4 7.8 26.8 8.3 26.9 8.7C26.9 9.1 26.6 9.6 26.4 9.9C26.1 10.3 25.5 10.7 25.7 10.8C25.8 11.0 26.8 10.7 27.3 10.8C27.8 11.0 28.4 11.4 28.7 11.8C28.9 12.1 28.8 12.5 28.7 12.9C28.6 13.3 28.5 13.7 28.1 13.9C27.8 14.2 27.1 14.3 26.7 14.6C26.3 14.9 26.1 15.6 25.6 15.9C25.2 16.3 24.4 16.2 23.9 16.6C23.3 16.9 22.8 17.6 22.2 17.9C21.6 18.1 20.8 17.9 20.2 18.1C19.5 18.3 18.8 19.0 18.3 19.1C17.7 19.2 17.3 18.9 16.8 18.9C16.3 18.9 15.9 18.9 15.4 18.9C14.9 18.9 14.5 19.2 13.9 19.1C13.4 19.0 12.7 18.3 12.0 18.1C11.4 17.9 10.6 18.1 10.0 17.9C9.4 17.6 8.9 16.9 8.3 16.6C7.8 16.2 7.0 16.3 6.6 15.9C6.1 15.6 5.9 14.9 5.5 14.6C5.1 14.3 4.4 14.2 4.1 13.9C3.7 13.7 3.6 13.3 3.5 12.9C3.4 12.5 3.3 12.1 3.5 11.8C3.8 11.4 4.4 11.0 4.9 10.8C5.4 10.7 6.4 11.0 6.5 10.8C6.7 10.7 6.1 10.3 5.8 9.9C5.6 9.6 5.3 9.1 5.3 8.7C5.4 8.3 5.8 7.8 6.2 7.6C6.6 7.4 7.3 7.8 7.6 7.7C8.0 7.6 8.2 7.4 8.3 7.1C8.5 6.8 8.1 6.2 8.3 5.9C8.4 5.7 9.2 5.8 9.5 5.5C9.7 5.2 9.4 4.4 9.6 4.1C9.9 3.9 10.6 4.1 10.9 3.8C11.1 3.6 10.9 3.0 11.1 2.8C11.4 2.5 12.1 2.8 12.4 2.6C12.7 2.4 12.7 1.7 12.9 1.6C13.1 1.5 13.5 2.1 13.8 2.0C14.2 1.9 14.5 1.0 14.9 1.0C15.3 1.0 15.7 2.0 16.1 2.0Z" fill="#dde8ae"/><path d="M5.4 8.6C5.2 12.4 10 16.6 16.1 16.6C22.2 16.6 27 12.4 26.8 8.6C24.8 5 7.4 5 5.4 8.6Z" fill="#eef5cc" opacity="0.55"/><ellipse cx="16.1" cy="8.3" rx="9.0" ry="7.3" fill="url(#h6)"/><path d="M5.6 10.9C7 14 11 16.4 16.1 16.5C21.2 16.4 25.2 14 26.6 10.9M6.7 7.5C6.1 9.6 6.6 11.6 8 13.3M25.5 7.5C26.1 9.6 25.6 11.6 24.2 13.3" fill="none" stroke="#b3bf80" stroke-width="0.7" stroke-linecap="round" opacity="0.6"/><path d="M12.6 6.8C12.1 9 12.3 11.6 13 13.6M16.1 6C15.9 8.5 15.9 11.6 16.2 14.2M19.6 6.8C20.1 9 19.9 11.6 19.2 13.6" fill="none" stroke="#cfdb9a" stroke-width="0.9" stroke-linecap="round" opacity="0.5"/></g></svg>
<svg class="fl" style="left:318px;top:79px;" width="33" height="33" viewBox="0 0 33 33"><defs><radialGradient id="h7" cx="16.1" cy="8" r="9.2" gradientUnits="userSpaceOnUse"><stop offset="0" stop-color="#ee4448"/><stop offset="0.6" stop-color="#e42c3a"/><stop offset="1" stop-color="#d01c30"/></radialGradient><radialGradient id="l7" cx="0.5" cy="0.45" r="0.6"><stop offset="0" stop-color="#3caa46"/><stop offset="0.6" stop-color="#1d8c38"/><stop offset="1" stop-color="#0c6c2e"/></radialGradient></defs><g transform="translate(0.3 0)"><g transform="translate(-0.1 0)"><path d="M15.9 18.5C15.8 23 15.6 27 15.5 30.4" fill="none" stroke="#1f8c3c" stroke-width="2.1" stroke-linecap="round"/><path d="M14.7 22.6C14.3 21.5 13.1 20.8 12.2 20.3C11.3 19.9 10.5 19.9 9.5 19.9C8.5 19.9 7.4 20.0 6.4 20.4C5.5 20.8 4.1 21.7 3.8 22.4C3.5 23.1 4.3 24.0 4.7 24.6C5.1 25.2 5.9 25.6 6.4 26.1C6.9 26.6 7.1 27.4 7.6 27.8C8.1 28.2 8.8 28.4 9.6 28.5C10.4 28.6 11.4 28.4 12.2 28.2C13.0 28.0 14.1 28.1 14.5 27.2C14.9 26.3 15.1 23.8 14.7 22.6Z" fill="url(#l7)" stroke="#0f7a34" stroke-width="0.5"/><path d="M16.6 25.2C17.0 24.2 17.9 23.5 18.8 23.0C19.7 22.5 20.9 22.3 22.0 22.2C23.1 22.1 24.5 22.2 25.5 22.6C26.5 23.0 27.8 23.9 28.0 24.6C28.2 25.3 27.4 26.2 27.0 26.8C26.6 27.4 26.0 27.8 25.5 28.3C25.0 28.8 24.7 29.5 24.0 29.9C23.3 30.3 22.4 30.6 21.5 30.6C20.6 30.7 19.5 30.4 18.6 30.2C17.8 30.0 16.7 30.0 16.4 29.2C16.1 28.4 16.2 26.2 16.6 25.2Z" fill="url(#l7)" stroke="#0f7a34" stroke-width="0.5"/></g><path d="M16.1 1.1C16.5 1.1 17.0 0.2 17.4 0.2C17.8 0.2 18.2 1.0 18.6 1.1C19.0 1.2 19.3 0.7 19.6 0.8C19.9 0.9 19.9 1.6 20.2 1.9C20.5 2.1 21.3 1.8 21.6 2.0C21.8 2.3 21.6 3.0 21.9 3.2C22.1 3.5 22.9 3.2 23.2 3.5C23.5 3.8 23.2 4.7 23.5 5.0C23.7 5.3 24.5 5.2 24.7 5.5C24.9 5.9 24.5 6.5 24.7 6.8C24.8 7.2 25.0 7.4 25.4 7.5C25.8 7.6 26.4 7.2 26.8 7.4C27.2 7.6 27.6 8.2 27.7 8.6C27.8 9.0 27.4 9.5 27.2 9.9C27.0 10.3 26.4 10.7 26.5 10.9C26.6 11.1 27.6 10.7 28.1 10.9C28.6 11.1 29.3 11.5 29.5 11.9C29.7 12.3 29.6 12.7 29.5 13.1C29.4 13.5 29.3 13.9 29.0 14.2C28.6 14.5 27.9 14.6 27.5 14.9C27.0 15.3 26.8 16.0 26.4 16.4C25.9 16.8 25.1 16.7 24.5 17.1C23.9 17.5 23.4 18.2 22.7 18.6C22.0 18.9 21.3 18.7 20.6 18.9C19.8 19.1 19.1 19.8 18.5 19.9C17.8 20.1 17.4 19.8 16.9 19.8C16.4 19.7 15.8 19.7 15.3 19.8C14.8 19.8 14.4 20.1 13.8 19.9C13.1 19.8 12.4 19.1 11.7 18.9C10.9 18.7 10.2 18.9 9.5 18.6C8.8 18.2 8.3 17.5 7.7 17.1C7.1 16.7 6.3 16.8 5.9 16.4C5.4 16.0 5.2 15.3 4.8 14.9C4.3 14.6 3.6 14.5 3.3 14.2C2.9 13.9 2.8 13.5 2.7 13.1C2.6 12.7 2.5 12.3 2.7 11.9C2.9 11.5 3.6 11.1 4.1 10.9C4.6 10.7 5.6 11.1 5.7 10.9C5.9 10.7 5.2 10.3 5.0 9.9C4.8 9.5 4.4 9.0 4.5 8.6C4.6 8.2 5.0 7.6 5.4 7.4C5.8 7.2 6.4 7.6 6.8 7.5C7.2 7.4 7.4 7.2 7.6 6.8C7.7 6.5 7.3 5.9 7.5 5.5C7.7 5.2 8.5 5.3 8.8 5.0C9.0 4.7 8.7 3.8 9.0 3.5C9.3 3.2 10.1 3.5 10.4 3.2C10.6 3.0 10.4 2.3 10.7 2.0C10.9 1.8 11.7 2.1 12.0 1.9C12.3 1.6 12.3 0.9 12.6 0.8C12.9 0.7 13.2 1.2 13.6 1.1C14.0 1.0 14.4 0.2 14.8 0.2C15.2 0.2 15.7 1.1 16.1 1.1Z" fill="#b80f26"/><path d="M16.1 2.0C16.5 2.0 16.9 1.0 17.3 1.0C17.7 1.0 18.0 1.9 18.4 2.0C18.7 2.1 19.1 1.5 19.3 1.6C19.5 1.7 19.5 2.4 19.8 2.6C20.1 2.8 20.8 2.5 21.1 2.8C21.3 3.0 21.1 3.6 21.3 3.8C21.6 4.1 22.3 3.9 22.6 4.1C22.8 4.4 22.5 5.2 22.7 5.5C23.0 5.8 23.8 5.7 23.9 5.9C24.1 6.2 23.7 6.8 23.9 7.1C24.0 7.4 24.2 7.6 24.6 7.7C24.9 7.8 25.6 7.4 26.0 7.6C26.4 7.8 26.8 8.3 26.9 8.7C26.9 9.1 26.6 9.6 26.4 9.9C26.1 10.3 25.5 10.7 25.7 10.8C25.8 11.0 26.8 10.7 27.3 10.8C27.8 11.0 28.4 11.4 28.7 11.8C28.9 12.1 28.8 12.5 28.7 12.9C28.6 13.3 28.5 13.7 28.1 13.9C27.8 14.2 27.1 14.3 26.7 14.6C26.3 14.9 26.1 15.6 25.6 15.9C25.2 16.3 24.4 16.2 23.9 16.6C23.3 16.9 22.8 17.6 22.2 17.9C21.6 18.1 20.8 17.9 20.2 18.1C19.5 18.3 18.8 19.0 18.3 19.1C17.7 19.2 17.3 18.9 16.8 18.9C16.3 18.9 15.9 18.9 15.4 18.9C14.9 18.9 14.5 19.2 13.9 19.1C13.4 19.0 12.7 18.3 12.0 18.1C11.4 17.9 10.6 18.1 10.0 17.9C9.4 17.6 8.9 16.9 8.3 16.6C7.8 16.2 7.0 16.3 6.6 15.9C6.1 15.6 5.9 14.9 5.5 14.6C5.1 14.3 4.4 14.2 4.1 13.9C3.7 13.7 3.6 13.3 3.5 12.9C3.4 12.5 3.3 12.1 3.5 11.8C3.8 11.4 4.4 11.0 4.9 10.8C5.4 10.7 6.4 11.0 6.5 10.8C6.7 10.7 6.1 10.3 5.8 9.9C5.6 9.6 5.3 9.1 5.3 8.7C5.4 8.3 5.8 7.8 6.2 7.6C6.6 7.4 7.3 7.8 7.6 7.7C8.0 7.6 8.2 7.4 8.3 7.1C8.5 6.8 8.1 6.2 8.3 5.9C8.4 5.7 9.2 5.8 9.5 5.5C9.7 5.2 9.4 4.4 9.6 4.1C9.9 3.9 10.6 4.1 10.9 3.8C11.1 3.6 10.9 3.0 11.1 2.8C11.4 2.5 12.1 2.8 12.4 2.6C12.7 2.4 12.7 1.7 12.9 1.6C13.1 1.5 13.5 2.1 13.8 2.0C14.2 1.9 14.5 1.0 14.9 1.0C15.3 1.0 15.7 2.0 16.1 2.0Z" fill="#d01c30"/><path d="M5.4 8.6C5.2 12.4 10 16.6 16.1 16.6C22.2 16.6 27 12.4 26.8 8.6C24.8 5 7.4 5 5.4 8.6Z" fill="#e42c3a" opacity="0.55"/><ellipse cx="16.1" cy="8.3" rx="9.0" ry="7.3" fill="url(#h7)"/><path d="M5.6 10.9C7 14 11 16.4 16.1 16.5C21.2 16.4 25.2 14 26.6 10.9M6.7 7.5C6.1 9.6 6.6 11.6 8 13.3M25.5 7.5C26.1 9.6 25.6 11.6 24.2 13.3" fill="none" stroke="#b80f26" stroke-width="0.7" stroke-linecap="round" opacity="0.6"/><path d="M12.6 6.8C12.1 9 12.3 11.6 13 13.6M16.1 6C15.9 8.5 15.9 11.6 16.2 14.2M19.6 6.8C20.1 9 19.9 11.6 19.2 13.6" fill="none" stroke="#c6162c" stroke-width="0.9" stroke-linecap="round" opacity="0.5"/></g></svg>
<svg class="fl" style="left:258px;top:128px;" width="33" height="33" viewBox="0 0 33 33"><defs><radialGradient id="h8" cx="16.1" cy="8" r="9.2" gradientUnits="userSpaceOnUse"><stop offset="0" stop-color="#fafde6"/><stop offset="0.6" stop-color="#eef5cc"/><stop offset="1" stop-color="#dde8ae"/></radialGradient><radialGradient id="l8" cx="0.5" cy="0.45" r="0.6"><stop offset="0" stop-color="#3caa46"/><stop offset="0.6" stop-color="#1d8c38"/><stop offset="1" stop-color="#0c6c2e"/></radialGradient></defs><g transform="translate(0.3 0.2)"><g transform="translate(-0.1 0)"><path d="M15.9 18.5C15.8 23 15.6 27 15.5 30.4" fill="none" stroke="#1f8c3c" stroke-width="2.1" stroke-linecap="round"/><path d="M14.7 22.6C14.3 21.5 13.1 20.8 12.2 20.3C11.3 19.9 10.5 19.9 9.5 19.9C8.5 19.9 7.4 20.0 6.4 20.4C5.5 20.8 4.1 21.7 3.8 22.4C3.5 23.1 4.3 24.0 4.7 24.6C5.1 25.2 5.9 25.6 6.4 26.1C6.9 26.6 7.1 27.4 7.6 27.8C8.1 28.2 8.8 28.4 9.6 28.5C10.4 28.6 11.4 28.4 12.2 28.2C13.0 28.0 14.1 28.1 14.5 27.2C14.9 26.3 15.1 23.8 14.7 22.6Z" fill="url(#l8)" stroke="#0f7a34" stroke-width="0.5"/><path d="M16.6 25.2C17.0 24.2 17.9 23.5 18.8 23.0C19.7 22.5 20.9 22.3 22.0 22.2C23.1 22.1 24.5 22.2 25.5 22.6C26.5 23.0 27.8 23.9 28.0 24.6C28.2 25.3 27.4 26.2 27.0 26.8C26.6 27.4 26.0 27.8 25.5 28.3C25.0 28.8 24.7 29.5 24.0 29.9C23.3 30.3 22.4 30.6 21.5 30.6C20.6 30.7 19.5 30.4 18.6 30.2C17.8 30.0 16.7 30.0 16.4 29.2C16.1 28.4 16.2 26.2 16.6 25.2Z" fill="url(#l8)" stroke="#0f7a34" stroke-width="0.5"/></g><path d="M16.1 1.1C16.5 1.1 17.0 0.2 17.4 0.2C17.8 0.2 18.2 1.0 18.6 1.1C19.0 1.2 19.3 0.7 19.6 0.8C19.9 0.9 19.9 1.6 20.2 1.9C20.5 2.1 21.3 1.8 21.6 2.0C21.8 2.3 21.6 3.0 21.9 3.2C22.1 3.5 22.9 3.2 23.2 3.5C23.5 3.8 23.2 4.7 23.5 5.0C23.7 5.3 24.5 5.2 24.7 5.5C24.9 5.9 24.5 6.5 24.7 6.8C24.8 7.2 25.0 7.4 25.4 7.5C25.8 7.6 26.4 7.2 26.8 7.4C27.2 7.6 27.6 8.2 27.7 8.6C27.8 9.0 27.4 9.5 27.2 9.9C27.0 10.3 26.4 10.7 26.5 10.9C26.6 11.1 27.6 10.7 28.1 10.9C28.6 11.1 29.3 11.5 29.5 11.9C29.7 12.3 29.6 12.7 29.5 13.1C29.4 13.5 29.3 13.9 29.0 14.2C28.6 14.5 27.9 14.6 27.5 14.9C27.0 15.3 26.8 16.0 26.4 16.4C25.9 16.8 25.1 16.7 24.5 17.1C23.9 17.5 23.4 18.2 22.7 18.6C22.0 18.9 21.3 18.7 20.6 18.9C19.8 19.1 19.1 19.8 18.5 19.9C17.8 20.1 17.4 19.8 16.9 19.8C16.4 19.7 15.8 19.7 15.3 19.8C14.8 19.8 14.4 20.1 13.8 19.9C13.1 19.8 12.4 19.1 11.7 18.9C10.9 18.7 10.2 18.9 9.5 18.6C8.8 18.2 8.3 17.5 7.7 17.1C7.1 16.7 6.3 16.8 5.9 16.4C5.4 16.0 5.2 15.3 4.8 14.9C4.3 14.6 3.6 14.5 3.3 14.2C2.9 13.9 2.8 13.5 2.7 13.1C2.6 12.7 2.5 12.3 2.7 11.9C2.9 11.5 3.6 11.1 4.1 10.9C4.6 10.7 5.6 11.1 5.7 10.9C5.9 10.7 5.2 10.3 5.0 9.9C4.8 9.5 4.4 9.0 4.5 8.6C4.6 8.2 5.0 7.6 5.4 7.4C5.8 7.2 6.4 7.6 6.8 7.5C7.2 7.4 7.4 7.2 7.6 6.8C7.7 6.5 7.3 5.9 7.5 5.5C7.7 5.2 8.5 5.3 8.8 5.0C9.0 4.7 8.7 3.8 9.0 3.5C9.3 3.2 10.1 3.5 10.4 3.2C10.6 3.0 10.4 2.3 10.7 2.0C10.9 1.8 11.7 2.1 12.0 1.9C12.3 1.6 12.3 0.9 12.6 0.8C12.9 0.7 13.2 1.2 13.6 1.1C14.0 1.0 14.4 0.2 14.8 0.2C15.2 0.2 15.7 1.1 16.1 1.1Z" fill="#b3bf80"/><path d="M16.1 2.0C16.5 2.0 16.9 1.0 17.3 1.0C17.7 1.0 18.0 1.9 18.4 2.0C18.7 2.1 19.1 1.5 19.3 1.6C19.5 1.7 19.5 2.4 19.8 2.6C20.1 2.8 20.8 2.5 21.1 2.8C21.3 3.0 21.1 3.6 21.3 3.8C21.6 4.1 22.3 3.9 22.6 4.1C22.8 4.4 22.5 5.2 22.7 5.5C23.0 5.8 23.8 5.7 23.9 5.9C24.1 6.2 23.7 6.8 23.9 7.1C24.0 7.4 24.2 7.6 24.6 7.7C24.9 7.8 25.6 7.4 26.0 7.6C26.4 7.8 26.8 8.3 26.9 8.7C26.9 9.1 26.6 9.6 26.4 9.9C26.1 10.3 25.5 10.7 25.7 10.8C25.8 11.0 26.8 10.7 27.3 10.8C27.8 11.0 28.4 11.4 28.7 11.8C28.9 12.1 28.8 12.5 28.7 12.9C28.6 13.3 28.5 13.7 28.1 13.9C27.8 14.2 27.1 14.3 26.7 14.6C26.3 14.9 26.1 15.6 25.6 15.9C25.2 16.3 24.4 16.2 23.9 16.6C23.3 16.9 22.8 17.6 22.2 17.9C21.6 18.1 20.8 17.9 20.2 18.1C19.5 18.3 18.8 19.0 18.3 19.1C17.7 19.2 17.3 18.9 16.8 18.9C16.3 18.9 15.9 18.9 15.4 18.9C14.9 18.9 14.5 19.2 13.9 19.1C13.4 19.0 12.7 18.3 12.0 18.1C11.4 17.9 10.6 18.1 10.0 17.9C9.4 17.6 8.9 16.9 8.3 16.6C7.8 16.2 7.0 16.3 6.6 15.9C6.1 15.6 5.9 14.9 5.5 14.6C5.1 14.3 4.4 14.2 4.1 13.9C3.7 13.7 3.6 13.3 3.5 12.9C3.4 12.5 3.3 12.1 3.5 11.8C3.8 11.4 4.4 11.0 4.9 10.8C5.4 10.7 6.4 11.0 6.5 10.8C6.7 10.7 6.1 10.3 5.8 9.9C5.6 9.6 5.3 9.1 5.3 8.7C5.4 8.3 5.8 7.8 6.2 7.6C6.6 7.4 7.3 7.8 7.6 7.7C8.0 7.6 8.2 7.4 8.3 7.1C8.5 6.8 8.1 6.2 8.3 5.9C8.4 5.7 9.2 5.8 9.5 5.5C9.7 5.2 9.4 4.4 9.6 4.1C9.9 3.9 10.6 4.1 10.9 3.8C11.1 3.6 10.9 3.0 11.1 2.8C11.4 2.5 12.1 2.8 12.4 2.6C12.7 2.4 12.7 1.7 12.9 1.6C13.1 1.5 13.5 2.1 13.8 2.0C14.2 1.9 14.5 1.0 14.9 1.0C15.3 1.0 15.7 2.0 16.1 2.0Z" fill="#dde8ae"/><path d="M5.4 8.6C5.2 12.4 10 16.6 16.1 16.6C22.2 16.6 27 12.4 26.8 8.6C24.8 5 7.4 5 5.4 8.6Z" fill="#eef5cc" opacity="0.55"/><ellipse cx="16.1" cy="8.3" rx="9.0" ry="7.3" fill="url(#h8)"/><path d="M5.6 10.9C7 14 11 16.4 16.1 16.5C21.2 16.4 25.2 14 26.6 10.9M6.7 7.5C6.1 9.6 6.6 11.6 8 13.3M25.5 7.5C26.1 9.6 25.6 11.6 24.2 13.3" fill="none" stroke="#b3bf80" stroke-width="0.7" stroke-linecap="round" opacity="0.6"/><path d="M12.6 6.8C12.1 9 12.3 11.6 13 13.6M16.1 6C15.9 8.5 15.9 11.6 16.2 14.2M19.6 6.8C20.1 9 19.9 11.6 19.2 13.6" fill="none" stroke="#cfdb9a" stroke-width="0.9" stroke-linecap="round" opacity="0.5"/></g></svg>
<svg class="fl" style="left:318px;top:128px;" width="33" height="33" viewBox="0 0 33 33"><defs><radialGradient id="h9" cx="16.1" cy="8" r="9.2" gradientUnits="userSpaceOnUse"><stop offset="0" stop-color="#fafde6"/><stop offset="0.6" stop-color="#eef5cc"/><stop offset="1" stop-color="#dde8ae"/></radialGradient><radialGradient id="l9" cx="0.5" cy="0.45" r="0.6"><stop offset="0" stop-color="#3caa46"/><stop offset="0.6" stop-color="#1d8c38"/><stop offset="1" stop-color="#0c6c2e"/></radialGradient></defs><g transform="translate(0.3 0.2)"><g transform="translate(-0.1 0)"><path d="M15.9 18.5C15.8 23 15.6 27 15.5 30.4" fill="none" stroke="#1f8c3c" stroke-width="2.1" stroke-linecap="round"/><path d="M14.7 22.6C14.3 21.5 13.1 20.8 12.2 20.3C11.3 19.9 10.5 19.9 9.5 19.9C8.5 19.9 7.4 20.0 6.4 20.4C5.5 20.8 4.1 21.7 3.8 22.4C3.5 23.1 4.3 24.0 4.7 24.6C5.1 25.2 5.9 25.6 6.4 26.1C6.9 26.6 7.1 27.4 7.6 27.8C8.1 28.2 8.8 28.4 9.6 28.5C10.4 28.6 11.4 28.4 12.2 28.2C13.0 28.0 14.1 28.1 14.5 27.2C14.9 26.3 15.1 23.8 14.7 22.6Z" fill="url(#l9)" stroke="#0f7a34" stroke-width="0.5"/><path d="M16.6 25.2C17.0 24.2 17.9 23.5 18.8 23.0C19.7 22.5 20.9 22.3 22.0 22.2C23.1 22.1 24.5 22.2 25.5 22.6C26.5 23.0 27.8 23.9 28.0 24.6C28.2 25.3 27.4 26.2 27.0 26.8C26.6 27.4 26.0 27.8 25.5 28.3C25.0 28.8 24.7 29.5 24.0 29.9C23.3 30.3 22.4 30.6 21.5 30.6C20.6 30.7 19.5 30.4 18.6 30.2C17.8 30.0 16.7 30.0 16.4 29.2C16.1 28.4 16.2 26.2 16.6 25.2Z" fill="url(#l9)" stroke="#0f7a34" stroke-width="0.5"/></g><path d="M16.1 1.1C16.5 1.1 17.0 0.2 17.4 0.2C17.8 0.2 18.2 1.0 18.6 1.1C19.0 1.2 19.3 0.7 19.6 0.8C19.9 0.9 19.9 1.6 20.2 1.9C20.5 2.1 21.3 1.8 21.6 2.0C21.8 2.3 21.6 3.0 21.9 3.2C22.1 3.5 22.9 3.2 23.2 3.5C23.5 3.8 23.2 4.7 23.5 5.0C23.7 5.3 24.5 5.2 24.7 5.5C24.9 5.9 24.5 6.5 24.7 6.8C24.8 7.2 25.0 7.4 25.4 7.5C25.8 7.6 26.4 7.2 26.8 7.4C27.2 7.6 27.6 8.2 27.7 8.6C27.8 9.0 27.4 9.5 27.2 9.9C27.0 10.3 26.4 10.7 26.5 10.9C26.6 11.1 27.6 10.7 28.1 10.9C28.6 11.1 29.3 11.5 29.5 11.9C29.7 12.3 29.6 12.7 29.5 13.1C29.4 13.5 29.3 13.9 29.0 14.2C28.6 14.5 27.9 14.6 27.5 14.9C27.0 15.3 26.8 16.0 26.4 16.4C25.9 16.8 25.1 16.7 24.5 17.1C23.9 17.5 23.4 18.2 22.7 18.6C22.0 18.9 21.3 18.7 20.6 18.9C19.8 19.1 19.1 19.8 18.5 19.9C17.8 20.1 17.4 19.8 16.9 19.8C16.4 19.7 15.8 19.7 15.3 19.8C14.8 19.8 14.4 20.1 13.8 19.9C13.1 19.8 12.4 19.1 11.7 18.9C10.9 18.7 10.2 18.9 9.5 18.6C8.8 18.2 8.3 17.5 7.7 17.1C7.1 16.7 6.3 16.8 5.9 16.4C5.4 16.0 5.2 15.3 4.8 14.9C4.3 14.6 3.6 14.5 3.3 14.2C2.9 13.9 2.8 13.5 2.7 13.1C2.6 12.7 2.5 12.3 2.7 11.9C2.9 11.5 3.6 11.1 4.1 10.9C4.6 10.7 5.6 11.1 5.7 10.9C5.9 10.7 5.2 10.3 5.0 9.9C4.8 9.5 4.4 9.0 4.5 8.6C4.6 8.2 5.0 7.6 5.4 7.4C5.8 7.2 6.4 7.6 6.8 7.5C7.2 7.4 7.4 7.2 7.6 6.8C7.7 6.5 7.3 5.9 7.5 5.5C7.7 5.2 8.5 5.3 8.8 5.0C9.0 4.7 8.7 3.8 9.0 3.5C9.3 3.2 10.1 3.5 10.4 3.2C10.6 3.0 10.4 2.3 10.7 2.0C10.9 1.8 11.7 2.1 12.0 1.9C12.3 1.6 12.3 0.9 12.6 0.8C12.9 0.7 13.2 1.2 13.6 1.1C14.0 1.0 14.4 0.2 14.8 0.2C15.2 0.2 15.7 1.1 16.1 1.1Z" fill="#b3bf80"/><path d="M16.1 2.0C16.5 2.0 16.9 1.0 17.3 1.0C17.7 1.0 18.0 1.9 18.4 2.0C18.7 2.1 19.1 1.5 19.3 1.6C19.5 1.7 19.5 2.4 19.8 2.6C20.1 2.8 20.8 2.5 21.1 2.8C21.3 3.0 21.1 3.6 21.3 3.8C21.6 4.1 22.3 3.9 22.6 4.1C22.8 4.4 22.5 5.2 22.7 5.5C23.0 5.8 23.8 5.7 23.9 5.9C24.1 6.2 23.7 6.8 23.9 7.1C24.0 7.4 24.2 7.6 24.6 7.7C24.9 7.8 25.6 7.4 26.0 7.6C26.4 7.8 26.8 8.3 26.9 8.7C26.9 9.1 26.6 9.6 26.4 9.9C26.1 10.3 25.5 10.7 25.7 10.8C25.8 11.0 26.8 10.7 27.3 10.8C27.8 11.0 28.4 11.4 28.7 11.8C28.9 12.1 28.8 12.5 28.7 12.9C28.6 13.3 28.5 13.7 28.1 13.9C27.8 14.2 27.1 14.3 26.7 14.6C26.3 14.9 26.1 15.6 25.6 15.9C25.2 16.3 24.4 16.2 23.9 16.6C23.3 16.9 22.8 17.6 22.2 17.9C21.6 18.1 20.8 17.9 20.2 18.1C19.5 18.3 18.8 19.0 18.3 19.1C17.7 19.2 17.3 18.9 16.8 18.9C16.3 18.9 15.9 18.9 15.4 18.9C14.9 18.9 14.5 19.2 13.9 19.1C13.4 19.0 12.7 18.3 12.0 18.1C11.4 17.9 10.6 18.1 10.0 17.9C9.4 17.6 8.9 16.9 8.3 16.6C7.8 16.2 7.0 16.3 6.6 15.9C6.1 15.6 5.9 14.9 5.5 14.6C5.1 14.3 4.4 14.2 4.1 13.9C3.7 13.7 3.6 13.3 3.5 12.9C3.4 12.5 3.3 12.1 3.5 11.8C3.8 11.4 4.4 11.0 4.9 10.8C5.4 10.7 6.4 11.0 6.5 10.8C6.7 10.7 6.1 10.3 5.8 9.9C5.6 9.6 5.3 9.1 5.3 8.7C5.4 8.3 5.8 7.8 6.2 7.6C6.6 7.4 7.3 7.8 7.6 7.7C8.0 7.6 8.2 7.4 8.3 7.1C8.5 6.8 8.1 6.2 8.3 5.9C8.4 5.7 9.2 5.8 9.5 5.5C9.7 5.2 9.4 4.4 9.6 4.1C9.9 3.9 10.6 4.1 10.9 3.8C11.1 3.6 10.9 3.0 11.1 2.8C11.4 2.5 12.1 2.8 12.4 2.6C12.7 2.4 12.7 1.7 12.9 1.6C13.1 1.5 13.5 2.1 13.8 2.0C14.2 1.9 14.5 1.0 14.9 1.0C15.3 1.0 15.7 2.0 16.1 2.0Z" fill="#dde8ae"/><path d="M5.4 8.6C5.2 12.4 10 16.6 16.1 16.6C22.2 16.6 27 12.4 26.8 8.6C24.8 5 7.4 5 5.4 8.6Z" fill="#eef5cc" opacity="0.55"/><ellipse cx="16.1" cy="8.3" rx="9.0" ry="7.3" fill="url(#h9)"/><path d="M5.6 10.9C7 14 11 16.4 16.1 16.5C21.2 16.4 25.2 14 26.6 10.9M6.7 7.5C6.1 9.6 6.6 11.6 8 13.3M25.5 7.5C26.1 9.6 25.6 11.6 24.2 13.3" fill="none" stroke="#b3bf80" stroke-width="0.7" stroke-linecap="round" opacity="0.6"/><path d="M12.6 6.8C12.1 9 12.3 11.6 13 13.6M16.1 6C15.9 8.5 15.9 11.6 16.2 14.2M19.6 6.8C20.1 9 19.9 11.6 19.2 13.6" fill="none" stroke="#cfdb9a" stroke-width="0.9" stroke-linecap="round" opacity="0.5"/></g></svg>
<svg class="fl" style="left:136px;top:183px;" width="33" height="33" viewBox="0 0 33 33"><defs><radialGradient id="h10" cx="16.1" cy="8" r="9.2" gradientUnits="userSpaceOnUse"><stop offset="0" stop-color="#ffea50"/><stop offset="0.6" stop-color="#ffd928"/><stop offset="1" stop-color="#f6b620"/></radialGradient><radialGradient id="l10" cx="0.5" cy="0.45" r="0.6"><stop offset="0" stop-color="#3caa46"/><stop offset="0.6" stop-color="#1d8c38"/><stop offset="1" stop-color="#0c6c2e"/></radialGradient></defs><g transform="translate(0.2 0)"><g transform="translate(-0.1 0)"><path d="M15.9 18.5C15.8 23 15.6 27 15.5 30.4" fill="none" stroke="#1f8c3c" stroke-width="2.1" stroke-linecap="round"/><path d="M14.7 22.6C14.3 21.5 13.1 20.8 12.2 20.3C11.3 19.9 10.5 19.9 9.5 19.9C8.5 19.9 7.4 20.0 6.4 20.4C5.5 20.8 4.1 21.7 3.8 22.4C3.5 23.1 4.3 24.0 4.7 24.6C5.1 25.2 5.9 25.6 6.4 26.1C6.9 26.6 7.1 27.4 7.6 27.8C8.1 28.2 8.8 28.4 9.6 28.5C10.4 28.6 11.4 28.4 12.2 28.2C13.0 28.0 14.1 28.1 14.5 27.2C14.9 26.3 15.1 23.8 14.7 22.6Z" fill="url(#l10)" stroke="#0f7a34" stroke-width="0.5"/><path d="M16.6 25.2C17.0 24.2 17.9 23.5 18.8 23.0C19.7 22.5 20.9 22.3 22.0 22.2C23.1 22.1 24.5 22.2 25.5 22.6C26.5 23.0 27.8 23.9 28.0 24.6C28.2 25.3 27.4 26.2 27.0 26.8C26.6 27.4 26.0 27.8 25.5 28.3C25.0 28.8 24.7 29.5 24.0 29.9C23.3 30.3 22.4 30.6 21.5 30.6C20.6 30.7 19.5 30.4 18.6 30.2C17.8 30.0 16.7 30.0 16.4 29.2C16.1 28.4 16.2 26.2 16.6 25.2Z" fill="url(#l10)" stroke="#0f7a34" stroke-width="0.5"/></g><path d="M16.1 1.1C16.5 1.1 17.0 0.2 17.4 0.2C17.8 0.2 18.2 1.0 18.6 1.1C19.0 1.2 19.3 0.7 19.6 0.8C19.9 0.9 19.9 1.6 20.2 1.9C20.5 2.1 21.3 1.8 21.6 2.0C21.8 2.3 21.6 3.0 21.9 3.2C22.1 3.5 22.9 3.2 23.2 3.5C23.5 3.8 23.2 4.7 23.5 5.0C23.7 5.3 24.5 5.2 24.7 5.5C24.9 5.9 24.5 6.5 24.7 6.8C24.8 7.2 25.0 7.4 25.4 7.5C25.8 7.6 26.4 7.2 26.8 7.4C27.2 7.6 27.6 8.2 27.7 8.6C27.8 9.0 27.4 9.5 27.2 9.9C27.0 10.3 26.4 10.7 26.5 10.9C26.6 11.1 27.6 10.7 28.1 10.9C28.6 11.1 29.3 11.5 29.5 11.9C29.7 12.3 29.6 12.7 29.5 13.1C29.4 13.5 29.3 13.9 29.0 14.2C28.6 14.5 27.9 14.6 27.5 14.9C27.0 15.3 26.8 16.0 26.4 16.4C25.9 16.8 25.1 16.7 24.5 17.1C23.9 17.5 23.4 18.2 22.7 18.6C22.0 18.9 21.3 18.7 20.6 18.9C19.8 19.1 19.1 19.8 18.5 19.9C17.8 20.1 17.4 19.8 16.9 19.8C16.4 19.7 15.8 19.7 15.3 19.8C14.8 19.8 14.4 20.1 13.8 19.9C13.1 19.8 12.4 19.1 11.7 18.9C10.9 18.7 10.2 18.9 9.5 18.6C8.8 18.2 8.3 17.5 7.7 17.1C7.1 16.7 6.3 16.8 5.9 16.4C5.4 16.0 5.2 15.3 4.8 14.9C4.3 14.6 3.6 14.5 3.3 14.2C2.9 13.9 2.8 13.5 2.7 13.1C2.6 12.7 2.5 12.3 2.7 11.9C2.9 11.5 3.6 11.1 4.1 10.9C4.6 10.7 5.6 11.1 5.7 10.9C5.9 10.7 5.2 10.3 5.0 9.9C4.8 9.5 4.4 9.0 4.5 8.6C4.6 8.2 5.0 7.6 5.4 7.4C5.8 7.2 6.4 7.6 6.8 7.5C7.2 7.4 7.4 7.2 7.6 6.8C7.7 6.5 7.3 5.9 7.5 5.5C7.7 5.2 8.5 5.3 8.8 5.0C9.0 4.7 8.7 3.8 9.0 3.5C9.3 3.2 10.1 3.5 10.4 3.2C10.6 3.0 10.4 2.3 10.7 2.0C10.9 1.8 11.7 2.1 12.0 1.9C12.3 1.6 12.3 0.9 12.6 0.8C12.9 0.7 13.2 1.2 13.6 1.1C14.0 1.0 14.4 0.2 14.8 0.2C15.2 0.2 15.7 1.1 16.1 1.1Z" fill="#e29418"/><path d="M16.1 2.0C16.5 2.0 16.9 1.0 17.3 1.0C17.7 1.0 18.0 1.9 18.4 2.0C18.7 2.1 19.1 1.5 19.3 1.6C19.5 1.7 19.5 2.4 19.8 2.6C20.1 2.8 20.8 2.5 21.1 2.8C21.3 3.0 21.1 3.6 21.3 3.8C21.6 4.1 22.3 3.9 22.6 4.1C22.8 4.4 22.5 5.2 22.7 5.5C23.0 5.8 23.8 5.7 23.9 5.9C24.1 6.2 23.7 6.8 23.9 7.1C24.0 7.4 24.2 7.6 24.6 7.7C24.9 7.8 25.6 7.4 26.0 7.6C26.4 7.8 26.8 8.3 26.9 8.7C26.9 9.1 26.6 9.6 26.4 9.9C26.1 10.3 25.5 10.7 25.7 10.8C25.8 11.0 26.8 10.7 27.3 10.8C27.8 11.0 28.4 11.4 28.7 11.8C28.9 12.1 28.8 12.5 28.7 12.9C28.6 13.3 28.5 13.7 28.1 13.9C27.8 14.2 27.1 14.3 26.7 14.6C26.3 14.9 26.1 15.6 25.6 15.9C25.2 16.3 24.4 16.2 23.9 16.6C23.3 16.9 22.8 17.6 22.2 17.9C21.6 18.1 20.8 17.9 20.2 18.1C19.5 18.3 18.8 19.0 18.3 19.1C17.7 19.2 17.3 18.9 16.8 18.9C16.3 18.9 15.9 18.9 15.4 18.9C14.9 18.9 14.5 19.2 13.9 19.1C13.4 19.0 12.7 18.3 12.0 18.1C11.4 17.9 10.6 18.1 10.0 17.9C9.4 17.6 8.9 16.9 8.3 16.6C7.8 16.2 7.0 16.3 6.6 15.9C6.1 15.6 5.9 14.9 5.5 14.6C5.1 14.3 4.4 14.2 4.1 13.9C3.7 13.7 3.6 13.3 3.5 12.9C3.4 12.5 3.3 12.1 3.5 11.8C3.8 11.4 4.4 11.0 4.9 10.8C5.4 10.7 6.4 11.0 6.5 10.8C6.7 10.7 6.1 10.3 5.8 9.9C5.6 9.6 5.3 9.1 5.3 8.7C5.4 8.3 5.8 7.8 6.2 7.6C6.6 7.4 7.3 7.8 7.6 7.7C8.0 7.6 8.2 7.4 8.3 7.1C8.5 6.8 8.1 6.2 8.3 5.9C8.4 5.7 9.2 5.8 9.5 5.5C9.7 5.2 9.4 4.4 9.6 4.1C9.9 3.9 10.6 4.1 10.9 3.8C11.1 3.6 10.9 3.0 11.1 2.8C11.4 2.5 12.1 2.8 12.4 2.6C12.7 2.4 12.7 1.7 12.9 1.6C13.1 1.5 13.5 2.1 13.8 2.0C14.2 1.9 14.5 1.0 14.9 1.0C15.3 1.0 15.7 2.0 16.1 2.0Z" fill="#f6b620"/><path d="M5.4 8.6C5.2 12.4 10 16.6 16.1 16.6C22.2 16.6 27 12.4 26.8 8.6C24.8 5 7.4 5 5.4 8.6Z" fill="#ffd928" opacity="0.55"/><ellipse cx="16.1" cy="8.3" rx="9.0" ry="7.3" fill="url(#h10)"/><path d="M5.6 10.9C7 14 11 16.4 16.1 16.5C21.2 16.4 25.2 14 26.6 10.9M6.7 7.5C6.1 9.6 6.6 11.6 8 13.3M25.5 7.5C26.1 9.6 25.6 11.6 24.2 13.3" fill="none" stroke="#e29418" stroke-width="0.7" stroke-linecap="round" opacity="0.6"/><path d="M12.6 6.8C12.1 9 12.3 11.6 13 13.6M16.1 6C15.9 8.5 15.9 11.6 16.2 14.2M19.6 6.8C20.1 9 19.9 11.6 19.2 13.6" fill="none" stroke="#f4b01e" stroke-width="0.9" stroke-linecap="round" opacity="0.5"/></g></svg>
<svg class="fl" style="left:196px;top:183px;" width="33" height="33" viewBox="0 0 33 33"><defs><radialGradient id="h11" cx="16.1" cy="8" r="9.2" gradientUnits="userSpaceOnUse"><stop offset="0" stop-color="#ee4448"/><stop offset="0.6" stop-color="#e42c3a"/><stop offset="1" stop-color="#d01c30"/></radialGradient><radialGradient id="l11" cx="0.5" cy="0.45" r="0.6"><stop offset="0" stop-color="#3caa46"/><stop offset="0.6" stop-color="#1d8c38"/><stop offset="1" stop-color="#0c6c2e"/></radialGradient></defs><g transform="translate(0.1 0)"><g transform="translate(-0.1 0)"><path d="M15.9 18.5C15.8 23 15.6 27 15.5 30.4" fill="none" stroke="#1f8c3c" stroke-width="2.1" stroke-linecap="round"/><path d="M14.7 22.6C14.3 21.5 13.1 20.8 12.2 20.3C11.3 19.9 10.5 19.9 9.5 19.9C8.5 19.9 7.4 20.0 6.4 20.4C5.5 20.8 4.1 21.7 3.8 22.4C3.5 23.1 4.3 24.0 4.7 24.6C5.1 25.2 5.9 25.6 6.4 26.1C6.9 26.6 7.1 27.4 7.6 27.8C8.1 28.2 8.8 28.4 9.6 28.5C10.4 28.6 11.4 28.4 12.2 28.2C13.0 28.0 14.1 28.1 14.5 27.2C14.9 26.3 15.1 23.8 14.7 22.6Z" fill="url(#l11)" stroke="#0f7a34" stroke-width="0.5"/><path d="M16.6 25.2C17.0 24.2 17.9 23.5 18.8 23.0C19.7 22.5 20.9 22.3 22.0 22.2C23.1 22.1 24.5 22.2 25.5 22.6C26.5 23.0 27.8 23.9 28.0 24.6C28.2 25.3 27.4 26.2 27.0 26.8C26.6 27.4 26.0 27.8 25.5 28.3C25.0 28.8 24.7 29.5 24.0 29.9C23.3 30.3 22.4 30.6 21.5 30.6C20.6 30.7 19.5 30.4 18.6 30.2C17.8 30.0 16.7 30.0 16.4 29.2C16.1 28.4 16.2 26.2 16.6 25.2Z" fill="url(#l11)" stroke="#0f7a34" stroke-width="0.5"/></g><path d="M16.1 1.1C16.5 1.1 17.0 0.2 17.4 0.2C17.8 0.2 18.2 1.0 18.6 1.1C19.0 1.2 19.3 0.7 19.6 0.8C19.9 0.9 19.9 1.6 20.2 1.9C20.5 2.1 21.3 1.8 21.6 2.0C21.8 2.3 21.6 3.0 21.9 3.2C22.1 3.5 22.9 3.2 23.2 3.5C23.5 3.8 23.2 4.7 23.5 5.0C23.7 5.3 24.5 5.2 24.7 5.5C24.9 5.9 24.5 6.5 24.7 6.8C24.8 7.2 25.0 7.4 25.4 7.5C25.8 7.6 26.4 7.2 26.8 7.4C27.2 7.6 27.6 8.2 27.7 8.6C27.8 9.0 27.4 9.5 27.2 9.9C27.0 10.3 26.4 10.7 26.5 10.9C26.6 11.1 27.6 10.7 28.1 10.9C28.6 11.1 29.3 11.5 29.5 11.9C29.7 12.3 29.6 12.7 29.5 13.1C29.4 13.5 29.3 13.9 29.0 14.2C28.6 14.5 27.9 14.6 27.5 14.9C27.0 15.3 26.8 16.0 26.4 16.4C25.9 16.8 25.1 16.7 24.5 17.1C23.9 17.5 23.4 18.2 22.7 18.6C22.0 18.9 21.3 18.7 20.6 18.9C19.8 19.1 19.1 19.8 18.5 19.9C17.8 20.1 17.4 19.8 16.9 19.8C16.4 19.7 15.8 19.7 15.3 19.8C14.8 19.8 14.4 20.1 13.8 19.9C13.1 19.8 12.4 19.1 11.7 18.9C10.9 18.7 10.2 18.9 9.5 18.6C8.8 18.2 8.3 17.5 7.7 17.1C7.1 16.7 6.3 16.8 5.9 16.4C5.4 16.0 5.2 15.3 4.8 14.9C4.3 14.6 3.6 14.5 3.3 14.2C2.9 13.9 2.8 13.5 2.7 13.1C2.6 12.7 2.5 12.3 2.7 11.9C2.9 11.5 3.6 11.1 4.1 10.9C4.6 10.7 5.6 11.1 5.7 10.9C5.9 10.7 5.2 10.3 5.0 9.9C4.8 9.5 4.4 9.0 4.5 8.6C4.6 8.2 5.0 7.6 5.4 7.4C5.8 7.2 6.4 7.6 6.8 7.5C7.2 7.4 7.4 7.2 7.6 6.8C7.7 6.5 7.3 5.9 7.5 5.5C7.7 5.2 8.5 5.3 8.8 5.0C9.0 4.7 8.7 3.8 9.0 3.5C9.3 3.2 10.1 3.5 10.4 3.2C10.6 3.0 10.4 2.3 10.7 2.0C10.9 1.8 11.7 2.1 12.0 1.9C12.3 1.6 12.3 0.9 12.6 0.8C12.9 0.7 13.2 1.2 13.6 1.1C14.0 1.0 14.4 0.2 14.8 0.2C15.2 0.2 15.7 1.1 16.1 1.1Z" fill="#b80f26"/><path d="M16.1 2.0C16.5 2.0 16.9 1.0 17.3 1.0C17.7 1.0 18.0 1.9 18.4 2.0C18.7 2.1 19.1 1.5 19.3 1.6C19.5 1.7 19.5 2.4 19.8 2.6C20.1 2.8 20.8 2.5 21.1 2.8C21.3 3.0 21.1 3.6 21.3 3.8C21.6 4.1 22.3 3.9 22.6 4.1C22.8 4.4 22.5 5.2 22.7 5.5C23.0 5.8 23.8 5.7 23.9 5.9C24.1 6.2 23.7 6.8 23.9 7.1C24.0 7.4 24.2 7.6 24.6 7.7C24.9 7.8 25.6 7.4 26.0 7.6C26.4 7.8 26.8 8.3 26.9 8.7C26.9 9.1 26.6 9.6 26.4 9.9C26.1 10.3 25.5 10.7 25.7 10.8C25.8 11.0 26.8 10.7 27.3 10.8C27.8 11.0 28.4 11.4 28.7 11.8C28.9 12.1 28.8 12.5 28.7 12.9C28.6 13.3 28.5 13.7 28.1 13.9C27.8 14.2 27.1 14.3 26.7 14.6C26.3 14.9 26.1 15.6 25.6 15.9C25.2 16.3 24.4 16.2 23.9 16.6C23.3 16.9 22.8 17.6 22.2 17.9C21.6 18.1 20.8 17.9 20.2 18.1C19.5 18.3 18.8 19.0 18.3 19.1C17.7 19.2 17.3 18.9 16.8 18.9C16.3 18.9 15.9 18.9 15.4 18.9C14.9 18.9 14.5 19.2 13.9 19.1C13.4 19.0 12.7 18.3 12.0 18.1C11.4 17.9 10.6 18.1 10.0 17.9C9.4 17.6 8.9 16.9 8.3 16.6C7.8 16.2 7.0 16.3 6.6 15.9C6.1 15.6 5.9 14.9 5.5 14.6C5.1 14.3 4.4 14.2 4.1 13.9C3.7 13.7 3.6 13.3 3.5 12.9C3.4 12.5 3.3 12.1 3.5 11.8C3.8 11.4 4.4 11.0 4.9 10.8C5.4 10.7 6.4 11.0 6.5 10.8C6.7 10.7 6.1 10.3 5.8 9.9C5.6 9.6 5.3 9.1 5.3 8.7C5.4 8.3 5.8 7.8 6.2 7.6C6.6 7.4 7.3 7.8 7.6 7.7C8.0 7.6 8.2 7.4 8.3 7.1C8.5 6.8 8.1 6.2 8.3 5.9C8.4 5.7 9.2 5.8 9.5 5.5C9.7 5.2 9.4 4.4 9.6 4.1C9.9 3.9 10.6 4.1 10.9 3.8C11.1 3.6 10.9 3.0 11.1 2.8C11.4 2.5 12.1 2.8 12.4 2.6C12.7 2.4 12.7 1.7 12.9 1.6C13.1 1.5 13.5 2.1 13.8 2.0C14.2 1.9 14.5 1.0 14.9 1.0C15.3 1.0 15.7 2.0 16.1 2.0Z" fill="#d01c30"/><path d="M5.4 8.6C5.2 12.4 10 16.6 16.1 16.6C22.2 16.6 27 12.4 26.8 8.6C24.8 5 7.4 5 5.4 8.6Z" fill="#e42c3a" opacity="0.55"/><ellipse cx="16.1" cy="8.3" rx="9.0" ry="7.3" fill="url(#h11)"/><path d="M5.6 10.9C7 14 11 16.4 16.1 16.5C21.2 16.4 25.2 14 26.6 10.9M6.7 7.5C6.1 9.6 6.6 11.6 8 13.3M25.5 7.5C26.1 9.6 25.6 11.6 24.2 13.3" fill="none" stroke="#b80f26" stroke-width="0.7" stroke-linecap="round" opacity="0.6"/><path d="M12.6 6.8C12.1 9 12.3 11.6 13 13.6M16.1 6C15.9 8.5 15.9 11.6 16.2 14.2M19.6 6.8C20.1 9 19.9 11.6 19.2 13.6" fill="none" stroke="#c6162c" stroke-width="0.9" stroke-linecap="round" opacity="0.5"/></g></svg>
<svg class="fl" style="left:306px;top:183px;" width="33" height="33" viewBox="0 0 33 33"><defs><radialGradient id="h12" cx="16.1" cy="8" r="9.2" gradientUnits="userSpaceOnUse"><stop offset="0" stop-color="#ffea50"/><stop offset="0.6" stop-color="#ffd928"/><stop offset="1" stop-color="#f6b620"/></radialGradient><radialGradient id="l12" cx="0.5" cy="0.45" r="0.6"><stop offset="0" stop-color="#3caa46"/><stop offset="0.6" stop-color="#1d8c38"/><stop offset="1" stop-color="#0c6c2e"/></radialGradient></defs><g transform="translate(0.4 0)"><g transform="translate(-0.1 0)"><path d="M15.9 18.5C15.8 23 15.6 27 15.5 30.4" fill="none" stroke="#1f8c3c" stroke-width="2.1" stroke-linecap="round"/><path d="M14.7 22.6C14.3 21.5 13.1 20.8 12.2 20.3C11.3 19.9 10.5 19.9 9.5 19.9C8.5 19.9 7.4 20.0 6.4 20.4C5.5 20.8 4.1 21.7 3.8 22.4C3.5 23.1 4.3 24.0 4.7 24.6C5.1 25.2 5.9 25.6 6.4 26.1C6.9 26.6 7.1 27.4 7.6 27.8C8.1 28.2 8.8 28.4 9.6 28.5C10.4 28.6 11.4 28.4 12.2 28.2C13.0 28.0 14.1 28.1 14.5 27.2C14.9 26.3 15.1 23.8 14.7 22.6Z" fill="url(#l12)" stroke="#0f7a34" stroke-width="0.5"/><path d="M16.6 25.2C17.0 24.2 17.9 23.5 18.8 23.0C19.7 22.5 20.9 22.3 22.0 22.2C23.1 22.1 24.5 22.2 25.5 22.6C26.5 23.0 27.8 23.9 28.0 24.6C28.2 25.3 27.4 26.2 27.0 26.8C26.6 27.4 26.0 27.8 25.5 28.3C25.0 28.8 24.7 29.5 24.0 29.9C23.3 30.3 22.4 30.6 21.5 30.6C20.6 30.7 19.5 30.4 18.6 30.2C17.8 30.0 16.7 30.0 16.4 29.2C16.1 28.4 16.2 26.2 16.6 25.2Z" fill="url(#l12)" stroke="#0f7a34" stroke-width="0.5"/></g><path d="M16.1 1.1C16.5 1.1 17.0 0.2 17.4 0.2C17.8 0.2 18.2 1.0 18.6 1.1C19.0 1.2 19.3 0.7 19.6 0.8C19.9 0.9 19.9 1.6 20.2 1.9C20.5 2.1 21.3 1.8 21.6 2.0C21.8 2.3 21.6 3.0 21.9 3.2C22.1 3.5 22.9 3.2 23.2 3.5C23.5 3.8 23.2 4.7 23.5 5.0C23.7 5.3 24.5 5.2 24.7 5.5C24.9 5.9 24.5 6.5 24.7 6.8C24.8 7.2 25.0 7.4 25.4 7.5C25.8 7.6 26.4 7.2 26.8 7.4C27.2 7.6 27.6 8.2 27.7 8.6C27.8 9.0 27.4 9.5 27.2 9.9C27.0 10.3 26.4 10.7 26.5 10.9C26.6 11.1 27.6 10.7 28.1 10.9C28.6 11.1 29.3 11.5 29.5 11.9C29.7 12.3 29.6 12.7 29.5 13.1C29.4 13.5 29.3 13.9 29.0 14.2C28.6 14.5 27.9 14.6 27.5 14.9C27.0 15.3 26.8 16.0 26.4 16.4C25.9 16.8 25.1 16.7 24.5 17.1C23.9 17.5 23.4 18.2 22.7 18.6C22.0 18.9 21.3 18.7 20.6 18.9C19.8 19.1 19.1 19.8 18.5 19.9C17.8 20.1 17.4 19.8 16.9 19.8C16.4 19.7 15.8 19.7 15.3 19.8C14.8 19.8 14.4 20.1 13.8 19.9C13.1 19.8 12.4 19.1 11.7 18.9C10.9 18.7 10.2 18.9 9.5 18.6C8.8 18.2 8.3 17.5 7.7 17.1C7.1 16.7 6.3 16.8 5.9 16.4C5.4 16.0 5.2 15.3 4.8 14.9C4.3 14.6 3.6 14.5 3.3 14.2C2.9 13.9 2.8 13.5 2.7 13.1C2.6 12.7 2.5 12.3 2.7 11.9C2.9 11.5 3.6 11.1 4.1 10.9C4.6 10.7 5.6 11.1 5.7 10.9C5.9 10.7 5.2 10.3 5.0 9.9C4.8 9.5 4.4 9.0 4.5 8.6C4.6 8.2 5.0 7.6 5.4 7.4C5.8 7.2 6.4 7.6 6.8 7.5C7.2 7.4 7.4 7.2 7.6 6.8C7.7 6.5 7.3 5.9 7.5 5.5C7.7 5.2 8.5 5.3 8.8 5.0C9.0 4.7 8.7 3.8 9.0 3.5C9.3 3.2 10.1 3.5 10.4 3.2C10.6 3.0 10.4 2.3 10.7 2.0C10.9 1.8 11.7 2.1 12.0 1.9C12.3 1.6 12.3 0.9 12.6 0.8C12.9 0.7 13.2 1.2 13.6 1.1C14.0 1.0 14.4 0.2 14.8 0.2C15.2 0.2 15.7 1.1 16.1 1.1Z" fill="#e29418"/><path d="M16.1 2.0C16.5 2.0 16.9 1.0 17.3 1.0C17.7 1.0 18.0 1.9 18.4 2.0C18.7 2.1 19.1 1.5 19.3 1.6C19.5 1.7 19.5 2.4 19.8 2.6C20.1 2.8 20.8 2.5 21.1 2.8C21.3 3.0 21.1 3.6 21.3 3.8C21.6 4.1 22.3 3.9 22.6 4.1C22.8 4.4 22.5 5.2 22.7 5.5C23.0 5.8 23.8 5.7 23.9 5.9C24.1 6.2 23.7 6.8 23.9 7.1C24.0 7.4 24.2 7.6 24.6 7.7C24.9 7.8 25.6 7.4 26.0 7.6C26.4 7.8 26.8 8.3 26.9 8.7C26.9 9.1 26.6 9.6 26.4 9.9C26.1 10.3 25.5 10.7 25.7 10.8C25.8 11.0 26.8 10.7 27.3 10.8C27.8 11.0 28.4 11.4 28.7 11.8C28.9 12.1 28.8 12.5 28.7 12.9C28.6 13.3 28.5 13.7 28.1 13.9C27.8 14.2 27.1 14.3 26.7 14.6C26.3 14.9 26.1 15.6 25.6 15.9C25.2 16.3 24.4 16.2 23.9 16.6C23.3 16.9 22.8 17.6 22.2 17.9C21.6 18.1 20.8 17.9 20.2 18.1C19.5 18.3 18.8 19.0 18.3 19.1C17.7 19.2 17.3 18.9 16.8 18.9C16.3 18.9 15.9 18.9 15.4 18.9C14.9 18.9 14.5 19.2 13.9 19.1C13.4 19.0 12.7 18.3 12.0 18.1C11.4 17.9 10.6 18.1 10.0 17.9C9.4 17.6 8.9 16.9 8.3 16.6C7.8 16.2 7.0 16.3 6.6 15.9C6.1 15.6 5.9 14.9 5.5 14.6C5.1 14.3 4.4 14.2 4.1 13.9C3.7 13.7 3.6 13.3 3.5 12.9C3.4 12.5 3.3 12.1 3.5 11.8C3.8 11.4 4.4 11.0 4.9 10.8C5.4 10.7 6.4 11.0 6.5 10.8C6.7 10.7 6.1 10.3 5.8 9.9C5.6 9.6 5.3 9.1 5.3 8.7C5.4 8.3 5.8 7.8 6.2 7.6C6.6 7.4 7.3 7.8 7.6 7.7C8.0 7.6 8.2 7.4 8.3 7.1C8.5 6.8 8.1 6.2 8.3 5.9C8.4 5.7 9.2 5.8 9.5 5.5C9.7 5.2 9.4 4.4 9.6 4.1C9.9 3.9 10.6 4.1 10.9 3.8C11.1 3.6 10.9 3.0 11.1 2.8C11.4 2.5 12.1 2.8 12.4 2.6C12.7 2.4 12.7 1.7 12.9 1.6C13.1 1.5 13.5 2.1 13.8 2.0C14.2 1.9 14.5 1.0 14.9 1.0C15.3 1.0 15.7 2.0 16.1 2.0Z" fill="#f6b620"/><path d="M5.4 8.6C5.2 12.4 10 16.6 16.1 16.6C22.2 16.6 27 12.4 26.8 8.6C24.8 5 7.4 5 5.4 8.6Z" fill="#ffd928" opacity="0.55"/><ellipse cx="16.1" cy="8.3" rx="9.0" ry="7.3" fill="url(#h12)"/><path d="M5.6 10.9C7 14 11 16.4 16.1 16.5C21.2 16.4 25.2 14 26.6 10.9M6.7 7.5C6.1 9.6 6.6 11.6 8 13.3M25.5 7.5C26.1 9.6 25.6 11.6 24.2 13.3" fill="none" stroke="#e29418" stroke-width="0.7" stroke-linecap="round" opacity="0.6"/><path d="M12.6 6.8C12.1 9 12.3 11.6 13 13.6M16.1 6C15.9 8.5 15.9 11.6 16.2 14.2M19.6 6.8C20.1 9 19.9 11.6 19.2 13.6" fill="none" stroke="#f4b01e" stroke-width="0.9" stroke-linecap="round" opacity="0.5"/></g></svg>
<svg class="fl" style="left:136px;top:223px;" width="33" height="33" viewBox="0 0 33 33"><defs><radialGradient id="h13" cx="16.1" cy="8" r="9.2" gradientUnits="userSpaceOnUse"><stop offset="0" stop-color="#ffea50"/><stop offset="0.6" stop-color="#ffd928"/><stop offset="1" stop-color="#f6b620"/></radialGradient><radialGradient id="l13" cx="0.5" cy="0.45" r="0.6"><stop offset="0" stop-color="#3caa46"/><stop offset="0.6" stop-color="#1d8c38"/><stop offset="1" stop-color="#0c6c2e"/></radialGradient></defs><g transform="translate(0.2 0)"><g transform="translate(-0.1 0)"><path d="M15.9 18.5C15.8 23 15.6 27 15.5 30.4" fill="none" stroke="#1f8c3c" stroke-width="2.1" stroke-linecap="round"/><path d="M14.7 22.6C14.3 21.5 13.1 20.8 12.2 20.3C11.3 19.9 10.5 19.9 9.5 19.9C8.5 19.9 7.4 20.0 6.4 20.4C5.5 20.8 4.1 21.7 3.8 22.4C3.5 23.1 4.3 24.0 4.7 24.6C5.1 25.2 5.9 25.6 6.4 26.1C6.9 26.6 7.1 27.4 7.6 27.8C8.1 28.2 8.8 28.4 9.6 28.5C10.4 28.6 11.4 28.4 12.2 28.2C13.0 28.0 14.1 28.1 14.5 27.2C14.9 26.3 15.1 23.8 14.7 22.6Z" fill="url(#l13)" stroke="#0f7a34" stroke-width="0.5"/><path d="M16.6 25.2C17.0 24.2 17.9 23.5 18.8 23.0C19.7 22.5 20.9 22.3 22.0 22.2C23.1 22.1 24.5 22.2 25.5 22.6C26.5 23.0 27.8 23.9 28.0 24.6C28.2 25.3 27.4 26.2 27.0 26.8C26.6 27.4 26.0 27.8 25.5 28.3C25.0 28.8 24.7 29.5 24.0 29.9C23.3 30.3 22.4 30.6 21.5 30.6C20.6 30.7 19.5 30.4 18.6 30.2C17.8 30.0 16.7 30.0 16.4 29.2C16.1 28.4 16.2 26.2 16.6 25.2Z" fill="url(#l13)" stroke="#0f7a34" stroke-width="0.5"/></g><path d="M16.1 1.1C16.5 1.1 17.0 0.2 17.4 0.2C17.8 0.2 18.2 1.0 18.6 1.1C19.0 1.2 19.3 0.7 19.6 0.8C19.9 0.9 19.9 1.6 20.2 1.9C20.5 2.1 21.3 1.8 21.6 2.0C21.8 2.3 21.6 3.0 21.9 3.2C22.1 3.5 22.9 3.2 23.2 3.5C23.5 3.8 23.2 4.7 23.5 5.0C23.7 5.3 24.5 5.2 24.7 5.5C24.9 5.9 24.5 6.5 24.7 6.8C24.8 7.2 25.0 7.4 25.4 7.5C25.8 7.6 26.4 7.2 26.8 7.4C27.2 7.6 27.6 8.2 27.7 8.6C27.8 9.0 27.4 9.5 27.2 9.9C27.0 10.3 26.4 10.7 26.5 10.9C26.6 11.1 27.6 10.7 28.1 10.9C28.6 11.1 29.3 11.5 29.5 11.9C29.7 12.3 29.6 12.7 29.5 13.1C29.4 13.5 29.3 13.9 29.0 14.2C28.6 14.5 27.9 14.6 27.5 14.9C27.0 15.3 26.8 16.0 26.4 16.4C25.9 16.8 25.1 16.7 24.5 17.1C23.9 17.5 23.4 18.2 22.7 18.6C22.0 18.9 21.3 18.7 20.6 18.9C19.8 19.1 19.1 19.8 18.5 19.9C17.8 20.1 17.4 19.8 16.9 19.8C16.4 19.7 15.8 19.7 15.3 19.8C14.8 19.8 14.4 20.1 13.8 19.9C13.1 19.8 12.4 19.1 11.7 18.9C10.9 18.7 10.2 18.9 9.5 18.6C8.8 18.2 8.3 17.5 7.7 17.1C7.1 16.7 6.3 16.8 5.9 16.4C5.4 16.0 5.2 15.3 4.8 14.9C4.3 14.6 3.6 14.5 3.3 14.2C2.9 13.9 2.8 13.5 2.7 13.1C2.6 12.7 2.5 12.3 2.7 11.9C2.9 11.5 3.6 11.1 4.1 10.9C4.6 10.7 5.6 11.1 5.7 10.9C5.9 10.7 5.2 10.3 5.0 9.9C4.8 9.5 4.4 9.0 4.5 8.6C4.6 8.2 5.0 7.6 5.4 7.4C5.8 7.2 6.4 7.6 6.8 7.5C7.2 7.4 7.4 7.2 7.6 6.8C7.7 6.5 7.3 5.9 7.5 5.5C7.7 5.2 8.5 5.3 8.8 5.0C9.0 4.7 8.7 3.8 9.0 3.5C9.3 3.2 10.1 3.5 10.4 3.2C10.6 3.0 10.4 2.3 10.7 2.0C10.9 1.8 11.7 2.1 12.0 1.9C12.3 1.6 12.3 0.9 12.6 0.8C12.9 0.7 13.2 1.2 13.6 1.1C14.0 1.0 14.4 0.2 14.8 0.2C15.2 0.2 15.7 1.1 16.1 1.1Z" fill="#e29418"/><path d="M16.1 2.0C16.5 2.0 16.9 1.0 17.3 1.0C17.7 1.0 18.0 1.9 18.4 2.0C18.7 2.1 19.1 1.5 19.3 1.6C19.5 1.7 19.5 2.4 19.8 2.6C20.1 2.8 20.8 2.5 21.1 2.8C21.3 3.0 21.1 3.6 21.3 3.8C21.6 4.1 22.3 3.9 22.6 4.1C22.8 4.4 22.5 5.2 22.7 5.5C23.0 5.8 23.8 5.7 23.9 5.9C24.1 6.2 23.7 6.8 23.9 7.1C24.0 7.4 24.2 7.6 24.6 7.7C24.9 7.8 25.6 7.4 26.0 7.6C26.4 7.8 26.8 8.3 26.9 8.7C26.9 9.1 26.6 9.6 26.4 9.9C26.1 10.3 25.5 10.7 25.7 10.8C25.8 11.0 26.8 10.7 27.3 10.8C27.8 11.0 28.4 11.4 28.7 11.8C28.9 12.1 28.8 12.5 28.7 12.9C28.6 13.3 28.5 13.7 28.1 13.9C27.8 14.2 27.1 14.3 26.7 14.6C26.3 14.9 26.1 15.6 25.6 15.9C25.2 16.3 24.4 16.2 23.9 16.6C23.3 16.9 22.8 17.6 22.2 17.9C21.6 18.1 20.8 17.9 20.2 18.1C19.5 18.3 18.8 19.0 18.3 19.1C17.7 19.2 17.3 18.9 16.8 18.9C16.3 18.9 15.9 18.9 15.4 18.9C14.9 18.9 14.5 19.2 13.9 19.1C13.4 19.0 12.7 18.3 12.0 18.1C11.4 17.9 10.6 18.1 10.0 17.9C9.4 17.6 8.9 16.9 8.3 16.6C7.8 16.2 7.0 16.3 6.6 15.9C6.1 15.6 5.9 14.9 5.5 14.6C5.1 14.3 4.4 14.2 4.1 13.9C3.7 13.7 3.6 13.3 3.5 12.9C3.4 12.5 3.3 12.1 3.5 11.8C3.8 11.4 4.4 11.0 4.9 10.8C5.4 10.7 6.4 11.0 6.5 10.8C6.7 10.7 6.1 10.3 5.8 9.9C5.6 9.6 5.3 9.1 5.3 8.7C5.4 8.3 5.8 7.8 6.2 7.6C6.6 7.4 7.3 7.8 7.6 7.7C8.0 7.6 8.2 7.4 8.3 7.1C8.5 6.8 8.1 6.2 8.3 5.9C8.4 5.7 9.2 5.8 9.5 5.5C9.7 5.2 9.4 4.4 9.6 4.1C9.9 3.9 10.6 4.1 10.9 3.8C11.1 3.6 10.9 3.0 11.1 2.8C11.4 2.5 12.1 2.8 12.4 2.6C12.7 2.4 12.7 1.7 12.9 1.6C13.1 1.5 13.5 2.1 13.8 2.0C14.2 1.9 14.5 1.0 14.9 1.0C15.3 1.0 15.7 2.0 16.1 2.0Z" fill="#f6b620"/><path d="M5.4 8.6C5.2 12.4 10 16.6 16.1 16.6C22.2 16.6 27 12.4 26.8 8.6C24.8 5 7.4 5 5.4 8.6Z" fill="#ffd928" opacity="0.55"/><ellipse cx="16.1" cy="8.3" rx="9.0" ry="7.3" fill="url(#h13)"/><path d="M5.6 10.9C7 14 11 16.4 16.1 16.5C21.2 16.4 25.2 14 26.6 10.9M6.7 7.5C6.1 9.6 6.6 11.6 8 13.3M25.5 7.5C26.1 9.6 25.6 11.6 24.2 13.3" fill="none" stroke="#e29418" stroke-width="0.7" stroke-linecap="round" opacity="0.6"/><path d="M12.6 6.8C12.1 9 12.3 11.6 13 13.6M16.1 6C15.9 8.5 15.9 11.6 16.2 14.2M19.6 6.8C20.1 9 19.9 11.6 19.2 13.6" fill="none" stroke="#f4b01e" stroke-width="0.9" stroke-linecap="round" opacity="0.5"/></g></svg>
<svg class="fl" style="left:203px;top:223px;" width="33" height="33" viewBox="0 0 33 33"><defs><radialGradient id="h14" cx="16.1" cy="8" r="9.2" gradientUnits="userSpaceOnUse"><stop offset="0" stop-color="#ffea50"/><stop offset="0.6" stop-color="#ffd928"/><stop offset="1" stop-color="#f6b620"/></radialGradient><radialGradient id="l14" cx="0.5" cy="0.45" r="0.6"><stop offset="0" stop-color="#3caa46"/><stop offset="0.6" stop-color="#1d8c38"/><stop offset="1" stop-color="#0c6c2e"/></radialGradient></defs><g transform="translate(0.5 0)"><g transform="translate(-0.1 0)"><path d="M15.9 18.5C15.8 23 15.6 27 15.5 30.4" fill="none" stroke="#1f8c3c" stroke-width="2.1" stroke-linecap="round"/><path d="M14.7 22.6C14.3 21.5 13.1 20.8 12.2 20.3C11.3 19.9 10.5 19.9 9.5 19.9C8.5 19.9 7.4 20.0 6.4 20.4C5.5 20.8 4.1 21.7 3.8 22.4C3.5 23.1 4.3 24.0 4.7 24.6C5.1 25.2 5.9 25.6 6.4 26.1C6.9 26.6 7.1 27.4 7.6 27.8C8.1 28.2 8.8 28.4 9.6 28.5C10.4 28.6 11.4 28.4 12.2 28.2C13.0 28.0 14.1 28.1 14.5 27.2C14.9 26.3 15.1 23.8 14.7 22.6Z" fill="url(#l14)" stroke="#0f7a34" stroke-width="0.5"/><path d="M16.6 25.2C17.0 24.2 17.9 23.5 18.8 23.0C19.7 22.5 20.9 22.3 22.0 22.2C23.1 22.1 24.5 22.2 25.5 22.6C26.5 23.0 27.8 23.9 28.0 24.6C28.2 25.3 27.4 26.2 27.0 26.8C26.6 27.4 26.0 27.8 25.5 28.3C25.0 28.8 24.7 29.5 24.0 29.9C23.3 30.3 22.4 30.6 21.5 30.6C20.6 30.7 19.5 30.4 18.6 30.2C17.8 30.0 16.7 30.0 16.4 29.2C16.1 28.4 16.2 26.2 16.6 25.2Z" fill="url(#l14)" stroke="#0f7a34" stroke-width="0.5"/></g><path d="M16.1 1.1C16.5 1.1 17.0 0.2 17.4 0.2C17.8 0.2 18.2 1.0 18.6 1.1C19.0 1.2 19.3 0.7 19.6 0.8C19.9 0.9 19.9 1.6 20.2 1.9C20.5 2.1 21.3 1.8 21.6 2.0C21.8 2.3 21.6 3.0 21.9 3.2C22.1 3.5 22.9 3.2 23.2 3.5C23.5 3.8 23.2 4.7 23.5 5.0C23.7 5.3 24.5 5.2 24.7 5.5C24.9 5.9 24.5 6.5 24.7 6.8C24.8 7.2 25.0 7.4 25.4 7.5C25.8 7.6 26.4 7.2 26.8 7.4C27.2 7.6 27.6 8.2 27.7 8.6C27.8 9.0 27.4 9.5 27.2 9.9C27.0 10.3 26.4 10.7 26.5 10.9C26.6 11.1 27.6 10.7 28.1 10.9C28.6 11.1 29.3 11.5 29.5 11.9C29.7 12.3 29.6 12.7 29.5 13.1C29.4 13.5 29.3 13.9 29.0 14.2C28.6 14.5 27.9 14.6 27.5 14.9C27.0 15.3 26.8 16.0 26.4 16.4C25.9 16.8 25.1 16.7 24.5 17.1C23.9 17.5 23.4 18.2 22.7 18.6C22.0 18.9 21.3 18.7 20.6 18.9C19.8 19.1 19.1 19.8 18.5 19.9C17.8 20.1 17.4 19.8 16.9 19.8C16.4 19.7 15.8 19.7 15.3 19.8C14.8 19.8 14.4 20.1 13.8 19.9C13.1 19.8 12.4 19.1 11.7 18.9C10.9 18.7 10.2 18.9 9.5 18.6C8.8 18.2 8.3 17.5 7.7 17.1C7.1 16.7 6.3 16.8 5.9 16.4C5.4 16.0 5.2 15.3 4.8 14.9C4.3 14.6 3.6 14.5 3.3 14.2C2.9 13.9 2.8 13.5 2.7 13.1C2.6 12.7 2.5 12.3 2.7 11.9C2.9 11.5 3.6 11.1 4.1 10.9C4.6 10.7 5.6 11.1 5.7 10.9C5.9 10.7 5.2 10.3 5.0 9.9C4.8 9.5 4.4 9.0 4.5 8.6C4.6 8.2 5.0 7.6 5.4 7.4C5.8 7.2 6.4 7.6 6.8 7.5C7.2 7.4 7.4 7.2 7.6 6.8C7.7 6.5 7.3 5.9 7.5 5.5C7.7 5.2 8.5 5.3 8.8 5.0C9.0 4.7 8.7 3.8 9.0 3.5C9.3 3.2 10.1 3.5 10.4 3.2C10.6 3.0 10.4 2.3 10.7 2.0C10.9 1.8 11.7 2.1 12.0 1.9C12.3 1.6 12.3 0.9 12.6 0.8C12.9 0.7 13.2 1.2 13.6 1.1C14.0 1.0 14.4 0.2 14.8 0.2C15.2 0.2 15.7 1.1 16.1 1.1Z" fill="#e29418"/><path d="M16.1 2.0C16.5 2.0 16.9 1.0 17.3 1.0C17.7 1.0 18.0 1.9 18.4 2.0C18.7 2.1 19.1 1.5 19.3 1.6C19.5 1.7 19.5 2.4 19.8 2.6C20.1 2.8 20.8 2.5 21.1 2.8C21.3 3.0 21.1 3.6 21.3 3.8C21.6 4.1 22.3 3.9 22.6 4.1C22.8 4.4 22.5 5.2 22.7 5.5C23.0 5.8 23.8 5.7 23.9 5.9C24.1 6.2 23.7 6.8 23.9 7.1C24.0 7.4 24.2 7.6 24.6 7.7C24.9 7.8 25.6 7.4 26.0 7.6C26.4 7.8 26.8 8.3 26.9 8.7C26.9 9.1 26.6 9.6 26.4 9.9C26.1 10.3 25.5 10.7 25.7 10.8C25.8 11.0 26.8 10.7 27.3 10.8C27.8 11.0 28.4 11.4 28.7 11.8C28.9 12.1 28.8 12.5 28.7 12.9C28.6 13.3 28.5 13.7 28.1 13.9C27.8 14.2 27.1 14.3 26.7 14.6C26.3 14.9 26.1 15.6 25.6 15.9C25.2 16.3 24.4 16.2 23.9 16.6C23.3 16.9 22.8 17.6 22.2 17.9C21.6 18.1 20.8 17.9 20.2 18.1C19.5 18.3 18.8 19.0 18.3 19.1C17.7 19.2 17.3 18.9 16.8 18.9C16.3 18.9 15.9 18.9 15.4 18.9C14.9 18.9 14.5 19.2 13.9 19.1C13.4 19.0 12.7 18.3 12.0 18.1C11.4 17.9 10.6 18.1 10.0 17.9C9.4 17.6 8.9 16.9 8.3 16.6C7.8 16.2 7.0 16.3 6.6 15.9C6.1 15.6 5.9 14.9 5.5 14.6C5.1 14.3 4.4 14.2 4.1 13.9C3.7 13.7 3.6 13.3 3.5 12.9C3.4 12.5 3.3 12.1 3.5 11.8C3.8 11.4 4.4 11.0 4.9 10.8C5.4 10.7 6.4 11.0 6.5 10.8C6.7 10.7 6.1 10.3 5.8 9.9C5.6 9.6 5.3 9.1 5.3 8.7C5.4 8.3 5.8 7.8 6.2 7.6C6.6 7.4 7.3 7.8 7.6 7.7C8.0 7.6 8.2 7.4 8.3 7.1C8.5 6.8 8.1 6.2 8.3 5.9C8.4 5.7 9.2 5.8 9.5 5.5C9.7 5.2 9.4 4.4 9.6 4.1C9.9 3.9 10.6 4.1 10.9 3.8C11.1 3.6 10.9 3.0 11.1 2.8C11.4 2.5 12.1 2.8 12.4 2.6C12.7 2.4 12.7 1.7 12.9 1.6C13.1 1.5 13.5 2.1 13.8 2.0C14.2 1.9 14.5 1.0 14.9 1.0C15.3 1.0 15.7 2.0 16.1 2.0Z" fill="#f6b620"/><path d="M5.4 8.6C5.2 12.4 10 16.6 16.1 16.6C22.2 16.6 27 12.4 26.8 8.6C24.8 5 7.4 5 5.4 8.6Z" fill="#ffd928" opacity="0.55"/><ellipse cx="16.1" cy="8.3" rx="9.0" ry="7.3" fill="url(#h14)"/><path d="M5.6 10.9C7 14 11 16.4 16.1 16.5C21.2 16.4 25.2 14 26.6 10.9M6.7 7.5C6.1 9.6 6.6 11.6 8 13.3M25.5 7.5C26.1 9.6 25.6 11.6 24.2 13.3" fill="none" stroke="#e29418" stroke-width="0.7" stroke-linecap="round" opacity="0.6"/><path d="M12.6 6.8C12.1 9 12.3 11.6 13 13.6M16.1 6C15.9 8.5 15.9 11.6 16.2 14.2M19.6 6.8C20.1 9 19.9 11.6 19.2 13.6" fill="none" stroke="#f4b01e" stroke-width="0.9" stroke-linecap="round" opacity="0.5"/></g></svg>
<svg class="fl" style="left:316px;top:223px;" width="33" height="33" viewBox="0 0 33 33"><defs><radialGradient id="h15" cx="16.1" cy="8" r="9.2" gradientUnits="userSpaceOnUse"><stop offset="0" stop-color="#b25cf8"/><stop offset="0.6" stop-color="#983aea"/><stop offset="1" stop-color="#7c20cc"/></radialGradient><radialGradient id="l15" cx="0.5" cy="0.45" r="0.6"><stop offset="0" stop-color="#3caa46"/><stop offset="0.6" stop-color="#1d8c38"/><stop offset="1" stop-color="#0c6c2e"/></radialGradient></defs><g transform="translate(0.4 0)"><g transform="translate(-0.1 0)"><path d="M15.9 18.5C15.8 23 15.6 27 15.5 30.4" fill="none" stroke="#1f8c3c" stroke-width="2.1" stroke-linecap="round"/><path d="M14.7 22.6C14.3 21.5 13.1 20.8 12.2 20.3C11.3 19.9 10.5 19.9 9.5 19.9C8.5 19.9 7.4 20.0 6.4 20.4C5.5 20.8 4.1 21.7 3.8 22.4C3.5 23.1 4.3 24.0 4.7 24.6C5.1 25.2 5.9 25.6 6.4 26.1C6.9 26.6 7.1 27.4 7.6 27.8C8.1 28.2 8.8 28.4 9.6 28.5C10.4 28.6 11.4 28.4 12.2 28.2C13.0 28.0 14.1 28.1 14.5 27.2C14.9 26.3 15.1 23.8 14.7 22.6Z" fill="url(#l15)" stroke="#0f7a34" stroke-width="0.5"/><path d="M16.6 25.2C17.0 24.2 17.9 23.5 18.8 23.0C19.7 22.5 20.9 22.3 22.0 22.2C23.1 22.1 24.5 22.2 25.5 22.6C26.5 23.0 27.8 23.9 28.0 24.6C28.2 25.3 27.4 26.2 27.0 26.8C26.6 27.4 26.0 27.8 25.5 28.3C25.0 28.8 24.7 29.5 24.0 29.9C23.3 30.3 22.4 30.6 21.5 30.6C20.6 30.7 19.5 30.4 18.6 30.2C17.8 30.0 16.7 30.0 16.4 29.2C16.1 28.4 16.2 26.2 16.6 25.2Z" fill="url(#l15)" stroke="#0f7a34" stroke-width="0.5"/></g><path d="M16.1 1.1C16.5 1.1 17.0 0.2 17.4 0.2C17.8 0.2 18.2 1.0 18.6 1.1C19.0 1.2 19.3 0.7 19.6 0.8C19.9 0.9 19.9 1.6 20.2 1.9C20.5 2.1 21.3 1.8 21.6 2.0C21.8 2.3 21.6 3.0 21.9 3.2C22.1 3.5 22.9 3.2 23.2 3.5C23.5 3.8 23.2 4.7 23.5 5.0C23.7 5.3 24.5 5.2 24.7 5.5C24.9 5.9 24.5 6.5 24.7 6.8C24.8 7.2 25.0 7.4 25.4 7.5C25.8 7.6 26.4 7.2 26.8 7.4C27.2 7.6 27.6 8.2 27.7 8.6C27.8 9.0 27.4 9.5 27.2 9.9C27.0 10.3 26.4 10.7 26.5 10.9C26.6 11.1 27.6 10.7 28.1 10.9C28.6 11.1 29.3 11.5 29.5 11.9C29.7 12.3 29.6 12.7 29.5 13.1C29.4 13.5 29.3 13.9 29.0 14.2C28.6 14.5 27.9 14.6 27.5 14.9C27.0 15.3 26.8 16.0 26.4 16.4C25.9 16.8 25.1 16.7 24.5 17.1C23.9 17.5 23.4 18.2 22.7 18.6C22.0 18.9 21.3 18.7 20.6 18.9C19.8 19.1 19.1 19.8 18.5 19.9C17.8 20.1 17.4 19.8 16.9 19.8C16.4 19.7 15.8 19.7 15.3 19.8C14.8 19.8 14.4 20.1 13.8 19.9C13.1 19.8 12.4 19.1 11.7 18.9C10.9 18.7 10.2 18.9 9.5 18.6C8.8 18.2 8.3 17.5 7.7 17.1C7.1 16.7 6.3 16.8 5.9 16.4C5.4 16.0 5.2 15.3 4.8 14.9C4.3 14.6 3.6 14.5 3.3 14.2C2.9 13.9 2.8 13.5 2.7 13.1C2.6 12.7 2.5 12.3 2.7 11.9C2.9 11.5 3.6 11.1 4.1 10.9C4.6 10.7 5.6 11.1 5.7 10.9C5.9 10.7 5.2 10.3 5.0 9.9C4.8 9.5 4.4 9.0 4.5 8.6C4.6 8.2 5.0 7.6 5.4 7.4C5.8 7.2 6.4 7.6 6.8 7.5C7.2 7.4 7.4 7.2 7.6 6.8C7.7 6.5 7.3 5.9 7.5 5.5C7.7 5.2 8.5 5.3 8.8 5.0C9.0 4.7 8.7 3.8 9.0 3.5C9.3 3.2 10.1 3.5 10.4 3.2C10.6 3.0 10.4 2.3 10.7 2.0C10.9 1.8 11.7 2.1 12.0 1.9C12.3 1.6 12.3 0.9 12.6 0.8C12.9 0.7 13.2 1.2 13.6 1.1C14.0 1.0 14.4 0.2 14.8 0.2C15.2 0.2 15.7 1.1 16.1 1.1Z" fill="#6410aa"/><path d="M16.1 2.0C16.5 2.0 16.9 1.0 17.3 1.0C17.7 1.0 18.0 1.9 18.4 2.0C18.7 2.1 19.1 1.5 19.3 1.6C19.5 1.7 19.5 2.4 19.8 2.6C20.1 2.8 20.8 2.5 21.1 2.8C21.3 3.0 21.1 3.6 21.3 3.8C21.6 4.1 22.3 3.9 22.6 4.1C22.8 4.4 22.5 5.2 22.7 5.5C23.0 5.8 23.8 5.7 23.9 5.9C24.1 6.2 23.7 6.8 23.9 7.1C24.0 7.4 24.2 7.6 24.6 7.7C24.9 7.8 25.6 7.4 26.0 7.6C26.4 7.8 26.8 8.3 26.9 8.7C26.9 9.1 26.6 9.6 26.4 9.9C26.1 10.3 25.5 10.7 25.7 10.8C25.8 11.0 26.8 10.7 27.3 10.8C27.8 11.0 28.4 11.4 28.7 11.8C28.9 12.1 28.8 12.5 28.7 12.9C28.6 13.3 28.5 13.7 28.1 13.9C27.8 14.2 27.1 14.3 26.7 14.6C26.3 14.9 26.1 15.6 25.6 15.9C25.2 16.3 24.4 16.2 23.9 16.6C23.3 16.9 22.8 17.6 22.2 17.9C21.6 18.1 20.8 17.9 20.2 18.1C19.5 18.3 18.8 19.0 18.3 19.1C17.7 19.2 17.3 18.9 16.8 18.9C16.3 18.9 15.9 18.9 15.4 18.9C14.9 18.9 14.5 19.2 13.9 19.1C13.4 19.0 12.7 18.3 12.0 18.1C11.4 17.9 10.6 18.1 10.0 17.9C9.4 17.6 8.9 16.9 8.3 16.6C7.8 16.2 7.0 16.3 6.6 15.9C6.1 15.6 5.9 14.9 5.5 14.6C5.1 14.3 4.4 14.2 4.1 13.9C3.7 13.7 3.6 13.3 3.5 12.9C3.4 12.5 3.3 12.1 3.5 11.8C3.8 11.4 4.4 11.0 4.9 10.8C5.4 10.7 6.4 11.0 6.5 10.8C6.7 10.7 6.1 10.3 5.8 9.9C5.6 9.6 5.3 9.1 5.3 8.7C5.4 8.3 5.8 7.8 6.2 7.6C6.6 7.4 7.3 7.8 7.6 7.7C8.0 7.6 8.2 7.4 8.3 7.1C8.5 6.8 8.1 6.2 8.3 5.9C8.4 5.7 9.2 5.8 9.5 5.5C9.7 5.2 9.4 4.4 9.6 4.1C9.9 3.9 10.6 4.1 10.9 3.8C11.1 3.6 10.9 3.0 11.1 2.8C11.4 2.5 12.1 2.8 12.4 2.6C12.7 2.4 12.7 1.7 12.9 1.6C13.1 1.5 13.5 2.1 13.8 2.0C14.2 1.9 14.5 1.0 14.9 1.0C15.3 1.0 15.7 2.0 16.1 2.0Z" fill="#7c20cc"/><path d="M5.4 8.6C5.2 12.4 10 16.6 16.1 16.6C22.2 16.6 27 12.4 26.8 8.6C24.8 5 7.4 5 5.4 8.6Z" fill="#983aea" opacity="0.55"/><ellipse cx="16.1" cy="8.3" rx="9.0" ry="7.3" fill="url(#h15)"/><path d="M5.6 10.9C7 14 11 16.4 16.1 16.5C21.2 16.4 25.2 14 26.6 10.9M6.7 7.5C6.1 9.6 6.6 11.6 8 13.3M25.5 7.5C26.1 9.6 25.6 11.6 24.2 13.3" fill="none" stroke="#6410aa" stroke-width="0.7" stroke-linecap="round" opacity="0.6"/><path d="M12.6 6.8C12.1 9 12.3 11.6 13 13.6M16.1 6C15.9 8.5 15.9 11.6 16.2 14.2M19.6 6.8C20.1 9 19.9 11.6 19.2 13.6" fill="none" stroke="#7a20c8" stroke-width="0.9" stroke-linecap="round" opacity="0.5"/></g></svg>
<svg class="fl" style="left:136px;top:296px;" width="33" height="33" viewBox="0 0 33 33"><defs><radialGradient id="h16" cx="16.1" cy="8" r="9.2" gradientUnits="userSpaceOnUse"><stop offset="0" stop-color="#ffea50"/><stop offset="0.6" stop-color="#ffd928"/><stop offset="1" stop-color="#f6b620"/></radialGradient><radialGradient id="l16" cx="0.5" cy="0.45" r="0.6"><stop offset="0" stop-color="#3caa46"/><stop offset="0.6" stop-color="#1d8c38"/><stop offset="1" stop-color="#0c6c2e"/></radialGradient></defs><g transform="translate(0.2 0)"><g transform="translate(-0.1 0)"><path d="M15.9 18.5C15.8 23 15.6 27 15.5 30.4" fill="none" stroke="#1f8c3c" stroke-width="2.1" stroke-linecap="round"/><path d="M14.7 22.6C14.3 21.5 13.1 20.8 12.2 20.3C11.3 19.9 10.5 19.9 9.5 19.9C8.5 19.9 7.4 20.0 6.4 20.4C5.5 20.8 4.1 21.7 3.8 22.4C3.5 23.1 4.3 24.0 4.7 24.6C5.1 25.2 5.9 25.6 6.4 26.1C6.9 26.6 7.1 27.4 7.6 27.8C8.1 28.2 8.8 28.4 9.6 28.5C10.4 28.6 11.4 28.4 12.2 28.2C13.0 28.0 14.1 28.1 14.5 27.2C14.9 26.3 15.1 23.8 14.7 22.6Z" fill="url(#l16)" stroke="#0f7a34" stroke-width="0.5"/><path d="M16.6 25.2C17.0 24.2 17.9 23.5 18.8 23.0C19.7 22.5 20.9 22.3 22.0 22.2C23.1 22.1 24.5 22.2 25.5 22.6C26.5 23.0 27.8 23.9 28.0 24.6C28.2 25.3 27.4 26.2 27.0 26.8C26.6 27.4 26.0 27.8 25.5 28.3C25.0 28.8 24.7 29.5 24.0 29.9C23.3 30.3 22.4 30.6 21.5 30.6C20.6 30.7 19.5 30.4 18.6 30.2C17.8 30.0 16.7 30.0 16.4 29.2C16.1 28.4 16.2 26.2 16.6 25.2Z" fill="url(#l16)" stroke="#0f7a34" stroke-width="0.5"/></g><path d="M16.1 1.1C16.5 1.1 17.0 0.2 17.4 0.2C17.8 0.2 18.2 1.0 18.6 1.1C19.0 1.2 19.3 0.7 19.6 0.8C19.9 0.9 19.9 1.6 20.2 1.9C20.5 2.1 21.3 1.8 21.6 2.0C21.8 2.3 21.6 3.0 21.9 3.2C22.1 3.5 22.9 3.2 23.2 3.5C23.5 3.8 23.2 4.7 23.5 5.0C23.7 5.3 24.5 5.2 24.7 5.5C24.9 5.9 24.5 6.5 24.7 6.8C24.8 7.2 25.0 7.4 25.4 7.5C25.8 7.6 26.4 7.2 26.8 7.4C27.2 7.6 27.6 8.2 27.7 8.6C27.8 9.0 27.4 9.5 27.2 9.9C27.0 10.3 26.4 10.7 26.5 10.9C26.6 11.1 27.6 10.7 28.1 10.9C28.6 11.1 29.3 11.5 29.5 11.9C29.7 12.3 29.6 12.7 29.5 13.1C29.4 13.5 29.3 13.9 29.0 14.2C28.6 14.5 27.9 14.6 27.5 14.9C27.0 15.3 26.8 16.0 26.4 16.4C25.9 16.8 25.1 16.7 24.5 17.1C23.9 17.5 23.4 18.2 22.7 18.6C22.0 18.9 21.3 18.7 20.6 18.9C19.8 19.1 19.1 19.8 18.5 19.9C17.8 20.1 17.4 19.8 16.9 19.8C16.4 19.7 15.8 19.7 15.3 19.8C14.8 19.8 14.4 20.1 13.8 19.9C13.1 19.8 12.4 19.1 11.7 18.9C10.9 18.7 10.2 18.9 9.5 18.6C8.8 18.2 8.3 17.5 7.7 17.1C7.1 16.7 6.3 16.8 5.9 16.4C5.4 16.0 5.2 15.3 4.8 14.9C4.3 14.6 3.6 14.5 3.3 14.2C2.9 13.9 2.8 13.5 2.7 13.1C2.6 12.7 2.5 12.3 2.7 11.9C2.9 11.5 3.6 11.1 4.1 10.9C4.6 10.7 5.6 11.1 5.7 10.9C5.9 10.7 5.2 10.3 5.0 9.9C4.8 9.5 4.4 9.0 4.5 8.6C4.6 8.2 5.0 7.6 5.4 7.4C5.8 7.2 6.4 7.6 6.8 7.5C7.2 7.4 7.4 7.2 7.6 6.8C7.7 6.5 7.3 5.9 7.5 5.5C7.7 5.2 8.5 5.3 8.8 5.0C9.0 4.7 8.7 3.8 9.0 3.5C9.3 3.2 10.1 3.5 10.4 3.2C10.6 3.0 10.4 2.3 10.7 2.0C10.9 1.8 11.7 2.1 12.0 1.9C12.3 1.6 12.3 0.9 12.6 0.8C12.9 0.7 13.2 1.2 13.6 1.1C14.0 1.0 14.4 0.2 14.8 0.2C15.2 0.2 15.7 1.1 16.1 1.1Z" fill="#e29418"/><path d="M16.1 2.0C16.5 2.0 16.9 1.0 17.3 1.0C17.7 1.0 18.0 1.9 18.4 2.0C18.7 2.1 19.1 1.5 19.3 1.6C19.5 1.7 19.5 2.4 19.8 2.6C20.1 2.8 20.8 2.5 21.1 2.8C21.3 3.0 21.1 3.6 21.3 3.8C21.6 4.1 22.3 3.9 22.6 4.1C22.8 4.4 22.5 5.2 22.7 5.5C23.0 5.8 23.8 5.7 23.9 5.9C24.1 6.2 23.7 6.8 23.9 7.1C24.0 7.4 24.2 7.6 24.6 7.7C24.9 7.8 25.6 7.4 26.0 7.6C26.4 7.8 26.8 8.3 26.9 8.7C26.9 9.1 26.6 9.6 26.4 9.9C26.1 10.3 25.5 10.7 25.7 10.8C25.8 11.0 26.8 10.7 27.3 10.8C27.8 11.0 28.4 11.4 28.7 11.8C28.9 12.1 28.8 12.5 28.7 12.9C28.6 13.3 28.5 13.7 28.1 13.9C27.8 14.2 27.1 14.3 26.7 14.6C26.3 14.9 26.1 15.6 25.6 15.9C25.2 16.3 24.4 16.2 23.9 16.6C23.3 16.9 22.8 17.6 22.2 17.9C21.6 18.1 20.8 17.9 20.2 18.1C19.5 18.3 18.8 19.0 18.3 19.1C17.7 19.2 17.3 18.9 16.8 18.9C16.3 18.9 15.9 18.9 15.4 18.9C14.9 18.9 14.5 19.2 13.9 19.1C13.4 19.0 12.7 18.3 12.0 18.1C11.4 17.9 10.6 18.1 10.0 17.9C9.4 17.6 8.9 16.9 8.3 16.6C7.8 16.2 7.0 16.3 6.6 15.9C6.1 15.6 5.9 14.9 5.5 14.6C5.1 14.3 4.4 14.2 4.1 13.9C3.7 13.7 3.6 13.3 3.5 12.9C3.4 12.5 3.3 12.1 3.5 11.8C3.8 11.4 4.4 11.0 4.9 10.8C5.4 10.7 6.4 11.0 6.5 10.8C6.7 10.7 6.1 10.3 5.8 9.9C5.6 9.6 5.3 9.1 5.3 8.7C5.4 8.3 5.8 7.8 6.2 7.6C6.6 7.4 7.3 7.8 7.6 7.7C8.0 7.6 8.2 7.4 8.3 7.1C8.5 6.8 8.1 6.2 8.3 5.9C8.4 5.7 9.2 5.8 9.5 5.5C9.7 5.2 9.4 4.4 9.6 4.1C9.9 3.9 10.6 4.1 10.9 3.8C11.1 3.6 10.9 3.0 11.1 2.8C11.4 2.5 12.1 2.8 12.4 2.6C12.7 2.4 12.7 1.7 12.9 1.6C13.1 1.5 13.5 2.1 13.8 2.0C14.2 1.9 14.5 1.0 14.9 1.0C15.3 1.0 15.7 2.0 16.1 2.0Z" fill="#f6b620"/><path d="M5.4 8.6C5.2 12.4 10 16.6 16.1 16.6C22.2 16.6 27 12.4 26.8 8.6C24.8 5 7.4 5 5.4 8.6Z" fill="#ffd928" opacity="0.55"/><ellipse cx="16.1" cy="8.3" rx="9.0" ry="7.3" fill="url(#h16)"/><path d="M5.6 10.9C7 14 11 16.4 16.1 16.5C21.2 16.4 25.2 14 26.6 10.9M6.7 7.5C6.1 9.6 6.6 11.6 8 13.3M25.5 7.5C26.1 9.6 25.6 11.6 24.2 13.3" fill="none" stroke="#e29418" stroke-width="0.7" stroke-linecap="round" opacity="0.6"/><path d="M12.6 6.8C12.1 9 12.3 11.6 13 13.6M16.1 6C15.9 8.5 15.9 11.6 16.2 14.2M19.6 6.8C20.1 9 19.9 11.6 19.2 13.6" fill="none" stroke="#f4b01e" stroke-width="0.9" stroke-linecap="round" opacity="0.5"/></g></svg>
<svg class="fl" style="left:196px;top:296px;" width="33" height="33" viewBox="0 0 33 33"><defs><radialGradient id="h17" cx="16.1" cy="8" r="9.2" gradientUnits="userSpaceOnUse"><stop offset="0" stop-color="#ee4448"/><stop offset="0.6" stop-color="#e42c3a"/><stop offset="1" stop-color="#d01c30"/></radialGradient><radialGradient id="l17" cx="0.5" cy="0.45" r="0.6"><stop offset="0" stop-color="#3caa46"/><stop offset="0.6" stop-color="#1d8c38"/><stop offset="1" stop-color="#0c6c2e"/></radialGradient></defs><g transform="translate(0.1 0)"><g transform="translate(-0.1 0)"><path d="M15.9 18.5C15.8 23 15.6 27 15.5 30.4" fill="none" stroke="#1f8c3c" stroke-width="2.1" stroke-linecap="round"/><path d="M14.7 22.6C14.3 21.5 13.1 20.8 12.2 20.3C11.3 19.9 10.5 19.9 9.5 19.9C8.5 19.9 7.4 20.0 6.4 20.4C5.5 20.8 4.1 21.7 3.8 22.4C3.5 23.1 4.3 24.0 4.7 24.6C5.1 25.2 5.9 25.6 6.4 26.1C6.9 26.6 7.1 27.4 7.6 27.8C8.1 28.2 8.8 28.4 9.6 28.5C10.4 28.6 11.4 28.4 12.2 28.2C13.0 28.0 14.1 28.1 14.5 27.2C14.9 26.3 15.1 23.8 14.7 22.6Z" fill="url(#l17)" stroke="#0f7a34" stroke-width="0.5"/><path d="M16.6 25.2C17.0 24.2 17.9 23.5 18.8 23.0C19.7 22.5 20.9 22.3 22.0 22.2C23.1 22.1 24.5 22.2 25.5 22.6C26.5 23.0 27.8 23.9 28.0 24.6C28.2 25.3 27.4 26.2 27.0 26.8C26.6 27.4 26.0 27.8 25.5 28.3C25.0 28.8 24.7 29.5 24.0 29.9C23.3 30.3 22.4 30.6 21.5 30.6C20.6 30.7 19.5 30.4 18.6 30.2C17.8 30.0 16.7 30.0 16.4 29.2C16.1 28.4 16.2 26.2 16.6 25.2Z" fill="url(#l17)" stroke="#0f7a34" stroke-width="0.5"/></g><path d="M16.1 1.1C16.5 1.1 17.0 0.2 17.4 0.2C17.8 0.2 18.2 1.0 18.6 1.1C19.0 1.2 19.3 0.7 19.6 0.8C19.9 0.9 19.9 1.6 20.2 1.9C20.5 2.1 21.3 1.8 21.6 2.0C21.8 2.3 21.6 3.0 21.9 3.2C22.1 3.5 22.9 3.2 23.2 3.5C23.5 3.8 23.2 4.7 23.5 5.0C23.7 5.3 24.5 5.2 24.7 5.5C24.9 5.9 24.5 6.5 24.7 6.8C24.8 7.2 25.0 7.4 25.4 7.5C25.8 7.6 26.4 7.2 26.8 7.4C27.2 7.6 27.6 8.2 27.7 8.6C27.8 9.0 27.4 9.5 27.2 9.9C27.0 10.3 26.4 10.7 26.5 10.9C26.6 11.1 27.6 10.7 28.1 10.9C28.6 11.1 29.3 11.5 29.5 11.9C29.7 12.3 29.6 12.7 29.5 13.1C29.4 13.5 29.3 13.9 29.0 14.2C28.6 14.5 27.9 14.6 27.5 14.9C27.0 15.3 26.8 16.0 26.4 16.4C25.9 16.8 25.1 16.7 24.5 17.1C23.9 17.5 23.4 18.2 22.7 18.6C22.0 18.9 21.3 18.7 20.6 18.9C19.8 19.1 19.1 19.8 18.5 19.9C17.8 20.1 17.4 19.8 16.9 19.8C16.4 19.7 15.8 19.7 15.3 19.8C14.8 19.8 14.4 20.1 13.8 19.9C13.1 19.8 12.4 19.1 11.7 18.9C10.9 18.7 10.2 18.9 9.5 18.6C8.8 18.2 8.3 17.5 7.7 17.1C7.1 16.7 6.3 16.8 5.9 16.4C5.4 16.0 5.2 15.3 4.8 14.9C4.3 14.6 3.6 14.5 3.3 14.2C2.9 13.9 2.8 13.5 2.7 13.1C2.6 12.7 2.5 12.3 2.7 11.9C2.9 11.5 3.6 11.1 4.1 10.9C4.6 10.7 5.6 11.1 5.7 10.9C5.9 10.7 5.2 10.3 5.0 9.9C4.8 9.5 4.4 9.0 4.5 8.6C4.6 8.2 5.0 7.6 5.4 7.4C5.8 7.2 6.4 7.6 6.8 7.5C7.2 7.4 7.4 7.2 7.6 6.8C7.7 6.5 7.3 5.9 7.5 5.5C7.7 5.2 8.5 5.3 8.8 5.0C9.0 4.7 8.7 3.8 9.0 3.5C9.3 3.2 10.1 3.5 10.4 3.2C10.6 3.0 10.4 2.3 10.7 2.0C10.9 1.8 11.7 2.1 12.0 1.9C12.3 1.6 12.3 0.9 12.6 0.8C12.9 0.7 13.2 1.2 13.6 1.1C14.0 1.0 14.4 0.2 14.8 0.2C15.2 0.2 15.7 1.1 16.1 1.1Z" fill="#b80f26"/><path d="M16.1 2.0C16.5 2.0 16.9 1.0 17.3 1.0C17.7 1.0 18.0 1.9 18.4 2.0C18.7 2.1 19.1 1.5 19.3 1.6C19.5 1.7 19.5 2.4 19.8 2.6C20.1 2.8 20.8 2.5 21.1 2.8C21.3 3.0 21.1 3.6 21.3 3.8C21.6 4.1 22.3 3.9 22.6 4.1C22.8 4.4 22.5 5.2 22.7 5.5C23.0 5.8 23.8 5.7 23.9 5.9C24.1 6.2 23.7 6.8 23.9 7.1C24.0 7.4 24.2 7.6 24.6 7.7C24.9 7.8 25.6 7.4 26.0 7.6C26.4 7.8 26.8 8.3 26.9 8.7C26.9 9.1 26.6 9.6 26.4 9.9C26.1 10.3 25.5 10.7 25.7 10.8C25.8 11.0 26.8 10.7 27.3 10.8C27.8 11.0 28.4 11.4 28.7 11.8C28.9 12.1 28.8 12.5 28.7 12.9C28.6 13.3 28.5 13.7 28.1 13.9C27.8 14.2 27.1 14.3 26.7 14.6C26.3 14.9 26.1 15.6 25.6 15.9C25.2 16.3 24.4 16.2 23.9 16.6C23.3 16.9 22.8 17.6 22.2 17.9C21.6 18.1 20.8 17.9 20.2 18.1C19.5 18.3 18.8 19.0 18.3 19.1C17.7 19.2 17.3 18.9 16.8 18.9C16.3 18.9 15.9 18.9 15.4 18.9C14.9 18.9 14.5 19.2 13.9 19.1C13.4 19.0 12.7 18.3 12.0 18.1C11.4 17.9 10.6 18.1 10.0 17.9C9.4 17.6 8.9 16.9 8.3 16.6C7.8 16.2 7.0 16.3 6.6 15.9C6.1 15.6 5.9 14.9 5.5 14.6C5.1 14.3 4.4 14.2 4.1 13.9C3.7 13.7 3.6 13.3 3.5 12.9C3.4 12.5 3.3 12.1 3.5 11.8C3.8 11.4 4.4 11.0 4.9 10.8C5.4 10.7 6.4 11.0 6.5 10.8C6.7 10.7 6.1 10.3 5.8 9.9C5.6 9.6 5.3 9.1 5.3 8.7C5.4 8.3 5.8 7.8 6.2 7.6C6.6 7.4 7.3 7.8 7.6 7.7C8.0 7.6 8.2 7.4 8.3 7.1C8.5 6.8 8.1 6.2 8.3 5.9C8.4 5.7 9.2 5.8 9.5 5.5C9.7 5.2 9.4 4.4 9.6 4.1C9.9 3.9 10.6 4.1 10.9 3.8C11.1 3.6 10.9 3.0 11.1 2.8C11.4 2.5 12.1 2.8 12.4 2.6C12.7 2.4 12.7 1.7 12.9 1.6C13.1 1.5 13.5 2.1 13.8 2.0C14.2 1.9 14.5 1.0 14.9 1.0C15.3 1.0 15.7 2.0 16.1 2.0Z" fill="#d01c30"/><path d="M5.4 8.6C5.2 12.4 10 16.6 16.1 16.6C22.2 16.6 27 12.4 26.8 8.6C24.8 5 7.4 5 5.4 8.6Z" fill="#e42c3a" opacity="0.55"/><ellipse cx="16.1" cy="8.3" rx="9.0" ry="7.3" fill="url(#h17)"/><path d="M5.6 10.9C7 14 11 16.4 16.1 16.5C21.2 16.4 25.2 14 26.6 10.9M6.7 7.5C6.1 9.6 6.6 11.6 8 13.3M25.5 7.5C26.1 9.6 25.6 11.6 24.2 13.3" fill="none" stroke="#b80f26" stroke-width="0.7" stroke-linecap="round" opacity="0.6"/><path d="M12.6 6.8C12.1 9 12.3 11.6 13 13.6M16.1 6C15.9 8.5 15.9 11.6 16.2 14.2M19.6 6.8C20.1 9 19.9 11.6 19.2 13.6" fill="none" stroke="#c6162c" stroke-width="0.9" stroke-linecap="round" opacity="0.5"/></g></svg>
<svg class="fl" style="left:306px;top:296px;" width="33" height="33" viewBox="0 0 33 33"><defs><radialGradient id="h18" cx="16.1" cy="8" r="9.2" gradientUnits="userSpaceOnUse"><stop offset="0" stop-color="#ffea50"/><stop offset="0.6" stop-color="#ffd928"/><stop offset="1" stop-color="#f6b620"/></radialGradient><radialGradient id="l18" cx="0.5" cy="0.45" r="0.6"><stop offset="0" stop-color="#3caa46"/><stop offset="0.6" stop-color="#1d8c38"/><stop offset="1" stop-color="#0c6c2e"/></radialGradient></defs><g transform="translate(0.4 0)"><g transform="translate(-0.1 0)"><path d="M15.9 18.5C15.8 23 15.6 27 15.5 30.4" fill="none" stroke="#1f8c3c" stroke-width="2.1" stroke-linecap="round"/><path d="M14.7 22.6C14.3 21.5 13.1 20.8 12.2 20.3C11.3 19.9 10.5 19.9 9.5 19.9C8.5 19.9 7.4 20.0 6.4 20.4C5.5 20.8 4.1 21.7 3.8 22.4C3.5 23.1 4.3 24.0 4.7 24.6C5.1 25.2 5.9 25.6 6.4 26.1C6.9 26.6 7.1 27.4 7.6 27.8C8.1 28.2 8.8 28.4 9.6 28.5C10.4 28.6 11.4 28.4 12.2 28.2C13.0 28.0 14.1 28.1 14.5 27.2C14.9 26.3 15.1 23.8 14.7 22.6Z" fill="url(#l18)" stroke="#0f7a34" stroke-width="0.5"/><path d="M16.6 25.2C17.0 24.2 17.9 23.5 18.8 23.0C19.7 22.5 20.9 22.3 22.0 22.2C23.1 22.1 24.5 22.2 25.5 22.6C26.5 23.0 27.8 23.9 28.0 24.6C28.2 25.3 27.4 26.2 27.0 26.8C26.6 27.4 26.0 27.8 25.5 28.3C25.0 28.8 24.7 29.5 24.0 29.9C23.3 30.3 22.4 30.6 21.5 30.6C20.6 30.7 19.5 30.4 18.6 30.2C17.8 30.0 16.7 30.0 16.4 29.2C16.1 28.4 16.2 26.2 16.6 25.2Z" fill="url(#l18)" stroke="#0f7a34" stroke-width="0.5"/></g><path d="M16.1 1.1C16.5 1.1 17.0 0.2 17.4 0.2C17.8 0.2 18.2 1.0 18.6 1.1C19.0 1.2 19.3 0.7 19.6 0.8C19.9 0.9 19.9 1.6 20.2 1.9C20.5 2.1 21.3 1.8 21.6 2.0C21.8 2.3 21.6 3.0 21.9 3.2C22.1 3.5 22.9 3.2 23.2 3.5C23.5 3.8 23.2 4.7 23.5 5.0C23.7 5.3 24.5 5.2 24.7 5.5C24.9 5.9 24.5 6.5 24.7 6.8C24.8 7.2 25.0 7.4 25.4 7.5C25.8 7.6 26.4 7.2 26.8 7.4C27.2 7.6 27.6 8.2 27.7 8.6C27.8 9.0 27.4 9.5 27.2 9.9C27.0 10.3 26.4 10.7 26.5 10.9C26.6 11.1 27.6 10.7 28.1 10.9C28.6 11.1 29.3 11.5 29.5 11.9C29.7 12.3 29.6 12.7 29.5 13.1C29.4 13.5 29.3 13.9 29.0 14.2C28.6 14.5 27.9 14.6 27.5 14.9C27.0 15.3 26.8 16.0 26.4 16.4C25.9 16.8 25.1 16.7 24.5 17.1C23.9 17.5 23.4 18.2 22.7 18.6C22.0 18.9 21.3 18.7 20.6 18.9C19.8 19.1 19.1 19.8 18.5 19.9C17.8 20.1 17.4 19.8 16.9 19.8C16.4 19.7 15.8 19.7 15.3 19.8C14.8 19.8 14.4 20.1 13.8 19.9C13.1 19.8 12.4 19.1 11.7 18.9C10.9 18.7 10.2 18.9 9.5 18.6C8.8 18.2 8.3 17.5 7.7 17.1C7.1 16.7 6.3 16.8 5.9 16.4C5.4 16.0 5.2 15.3 4.8 14.9C4.3 14.6 3.6 14.5 3.3 14.2C2.9 13.9 2.8 13.5 2.7 13.1C2.6 12.7 2.5 12.3 2.7 11.9C2.9 11.5 3.6 11.1 4.1 10.9C4.6 10.7 5.6 11.1 5.7 10.9C5.9 10.7 5.2 10.3 5.0 9.9C4.8 9.5 4.4 9.0 4.5 8.6C4.6 8.2 5.0 7.6 5.4 7.4C5.8 7.2 6.4 7.6 6.8 7.5C7.2 7.4 7.4 7.2 7.6 6.8C7.7 6.5 7.3 5.9 7.5 5.5C7.7 5.2 8.5 5.3 8.8 5.0C9.0 4.7 8.7 3.8 9.0 3.5C9.3 3.2 10.1 3.5 10.4 3.2C10.6 3.0 10.4 2.3 10.7 2.0C10.9 1.8 11.7 2.1 12.0 1.9C12.3 1.6 12.3 0.9 12.6 0.8C12.9 0.7 13.2 1.2 13.6 1.1C14.0 1.0 14.4 0.2 14.8 0.2C15.2 0.2 15.7 1.1 16.1 1.1Z" fill="#e29418"/><path d="M16.1 2.0C16.5 2.0 16.9 1.0 17.3 1.0C17.7 1.0 18.0 1.9 18.4 2.0C18.7 2.1 19.1 1.5 19.3 1.6C19.5 1.7 19.5 2.4 19.8 2.6C20.1 2.8 20.8 2.5 21.1 2.8C21.3 3.0 21.1 3.6 21.3 3.8C21.6 4.1 22.3 3.9 22.6 4.1C22.8 4.4 22.5 5.2 22.7 5.5C23.0 5.8 23.8 5.7 23.9 5.9C24.1 6.2 23.7 6.8 23.9 7.1C24.0 7.4 24.2 7.6 24.6 7.7C24.9 7.8 25.6 7.4 26.0 7.6C26.4 7.8 26.8 8.3 26.9 8.7C26.9 9.1 26.6 9.6 26.4 9.9C26.1 10.3 25.5 10.7 25.7 10.8C25.8 11.0 26.8 10.7 27.3 10.8C27.8 11.0 28.4 11.4 28.7 11.8C28.9 12.1 28.8 12.5 28.7 12.9C28.6 13.3 28.5 13.7 28.1 13.9C27.8 14.2 27.1 14.3 26.7 14.6C26.3 14.9 26.1 15.6 25.6 15.9C25.2 16.3 24.4 16.2 23.9 16.6C23.3 16.9 22.8 17.6 22.2 17.9C21.6 18.1 20.8 17.9 20.2 18.1C19.5 18.3 18.8 19.0 18.3 19.1C17.7 19.2 17.3 18.9 16.8 18.9C16.3 18.9 15.9 18.9 15.4 18.9C14.9 18.9 14.5 19.2 13.9 19.1C13.4 19.0 12.7 18.3 12.0 18.1C11.4 17.9 10.6 18.1 10.0 17.9C9.4 17.6 8.9 16.9 8.3 16.6C7.8 16.2 7.0 16.3 6.6 15.9C6.1 15.6 5.9 14.9 5.5 14.6C5.1 14.3 4.4 14.2 4.1 13.9C3.7 13.7 3.6 13.3 3.5 12.9C3.4 12.5 3.3 12.1 3.5 11.8C3.8 11.4 4.4 11.0 4.9 10.8C5.4 10.7 6.4 11.0 6.5 10.8C6.7 10.7 6.1 10.3 5.8 9.9C5.6 9.6 5.3 9.1 5.3 8.7C5.4 8.3 5.8 7.8 6.2 7.6C6.6 7.4 7.3 7.8 7.6 7.7C8.0 7.6 8.2 7.4 8.3 7.1C8.5 6.8 8.1 6.2 8.3 5.9C8.4 5.7 9.2 5.8 9.5 5.5C9.7 5.2 9.4 4.4 9.6 4.1C9.9 3.9 10.6 4.1 10.9 3.8C11.1 3.6 10.9 3.0 11.1 2.8C11.4 2.5 12.1 2.8 12.4 2.6C12.7 2.4 12.7 1.7 12.9 1.6C13.1 1.5 13.5 2.1 13.8 2.0C14.2 1.9 14.5 1.0 14.9 1.0C15.3 1.0 15.7 2.0 16.1 2.0Z" fill="#f6b620"/><path d="M5.4 8.6C5.2 12.4 10 16.6 16.1 16.6C22.2 16.6 27 12.4 26.8 8.6C24.8 5 7.4 5 5.4 8.6Z" fill="#ffd928" opacity="0.55"/><ellipse cx="16.1" cy="8.3" rx="9.0" ry="7.3" fill="url(#h18)"/><path d="M5.6 10.9C7 14 11 16.4 16.1 16.5C21.2 16.4 25.2 14 26.6 10.9M6.7 7.5C6.1 9.6 6.6 11.6 8 13.3M25.5 7.5C26.1 9.6 25.6 11.6 24.2 13.3" fill="none" stroke="#e29418" stroke-width="0.7" stroke-linecap="round" opacity="0.6"/><path d="M12.6 6.8C12.1 9 12.3 11.6 13 13.6M16.1 6C15.9 8.5 15.9 11.6 16.2 14.2M19.6 6.8C20.1 9 19.9 11.6 19.2 13.6" fill="none" stroke="#f4b01e" stroke-width="0.9" stroke-linecap="round" opacity="0.5"/></g></svg>
<svg class="fl" style="left:136px;top:336px;" width="33" height="33" viewBox="0 0 33 33"><defs><radialGradient id="h19" cx="16.1" cy="8" r="9.2" gradientUnits="userSpaceOnUse"><stop offset="0" stop-color="#ffea50"/><stop offset="0.6" stop-color="#ffd928"/><stop offset="1" stop-color="#f6b620"/></radialGradient><radialGradient id="l19" cx="0.5" cy="0.45" r="0.6"><stop offset="0" stop-color="#3caa46"/><stop offset="0.6" stop-color="#1d8c38"/><stop offset="1" stop-color="#0c6c2e"/></radialGradient></defs><g transform="translate(0.2 0)"><g transform="translate(-0.1 0)"><path d="M15.9 18.5C15.8 23 15.6 27 15.5 30.4" fill="none" stroke="#1f8c3c" stroke-width="2.1" stroke-linecap="round"/><path d="M14.7 22.6C14.3 21.5 13.1 20.8 12.2 20.3C11.3 19.9 10.5 19.9 9.5 19.9C8.5 19.9 7.4 20.0 6.4 20.4C5.5 20.8 4.1 21.7 3.8 22.4C3.5 23.1 4.3 24.0 4.7 24.6C5.1 25.2 5.9 25.6 6.4 26.1C6.9 26.6 7.1 27.4 7.6 27.8C8.1 28.2 8.8 28.4 9.6 28.5C10.4 28.6 11.4 28.4 12.2 28.2C13.0 28.0 14.1 28.1 14.5 27.2C14.9 26.3 15.1 23.8 14.7 22.6Z" fill="url(#l19)" stroke="#0f7a34" stroke-width="0.5"/><path d="M16.6 25.2C17.0 24.2 17.9 23.5 18.8 23.0C19.7 22.5 20.9 22.3 22.0 22.2C23.1 22.1 24.5 22.2 25.5 22.6C26.5 23.0 27.8 23.9 28.0 24.6C28.2 25.3 27.4 26.2 27.0 26.8C26.6 27.4 26.0 27.8 25.5 28.3C25.0 28.8 24.7 29.5 24.0 29.9C23.3 30.3 22.4 30.6 21.5 30.6C20.6 30.7 19.5 30.4 18.6 30.2C17.8 30.0 16.7 30.0 16.4 29.2C16.1 28.4 16.2 26.2 16.6 25.2Z" fill="url(#l19)" stroke="#0f7a34" stroke-width="0.5"/></g><path d="M16.1 1.1C16.5 1.1 17.0 0.2 17.4 0.2C17.8 0.2 18.2 1.0 18.6 1.1C19.0 1.2 19.3 0.7 19.6 0.8C19.9 0.9 19.9 1.6 20.2 1.9C20.5 2.1 21.3 1.8 21.6 2.0C21.8 2.3 21.6 3.0 21.9 3.2C22.1 3.5 22.9 3.2 23.2 3.5C23.5 3.8 23.2 4.7 23.5 5.0C23.7 5.3 24.5 5.2 24.7 5.5C24.9 5.9 24.5 6.5 24.7 6.8C24.8 7.2 25.0 7.4 25.4 7.5C25.8 7.6 26.4 7.2 26.8 7.4C27.2 7.6 27.6 8.2 27.7 8.6C27.8 9.0 27.4 9.5 27.2 9.9C27.0 10.3 26.4 10.7 26.5 10.9C26.6 11.1 27.6 10.7 28.1 10.9C28.6 11.1 29.3 11.5 29.5 11.9C29.7 12.3 29.6 12.7 29.5 13.1C29.4 13.5 29.3 13.9 29.0 14.2C28.6 14.5 27.9 14.6 27.5 14.9C27.0 15.3 26.8 16.0 26.4 16.4C25.9 16.8 25.1 16.7 24.5 17.1C23.9 17.5 23.4 18.2 22.7 18.6C22.0 18.9 21.3 18.7 20.6 18.9C19.8 19.1 19.1 19.8 18.5 19.9C17.8 20.1 17.4 19.8 16.9 19.8C16.4 19.7 15.8 19.7 15.3 19.8C14.8 19.8 14.4 20.1 13.8 19.9C13.1 19.8 12.4 19.1 11.7 18.9C10.9 18.7 10.2 18.9 9.5 18.6C8.8 18.2 8.3 17.5 7.7 17.1C7.1 16.7 6.3 16.8 5.9 16.4C5.4 16.0 5.2 15.3 4.8 14.9C4.3 14.6 3.6 14.5 3.3 14.2C2.9 13.9 2.8 13.5 2.7 13.1C2.6 12.7 2.5 12.3 2.7 11.9C2.9 11.5 3.6 11.1 4.1 10.9C4.6 10.7 5.6 11.1 5.7 10.9C5.9 10.7 5.2 10.3 5.0 9.9C4.8 9.5 4.4 9.0 4.5 8.6C4.6 8.2 5.0 7.6 5.4 7.4C5.8 7.2 6.4 7.6 6.8 7.5C7.2 7.4 7.4 7.2 7.6 6.8C7.7 6.5 7.3 5.9 7.5 5.5C7.7 5.2 8.5 5.3 8.8 5.0C9.0 4.7 8.7 3.8 9.0 3.5C9.3 3.2 10.1 3.5 10.4 3.2C10.6 3.0 10.4 2.3 10.7 2.0C10.9 1.8 11.7 2.1 12.0 1.9C12.3 1.6 12.3 0.9 12.6 0.8C12.9 0.7 13.2 1.2 13.6 1.1C14.0 1.0 14.4 0.2 14.8 0.2C15.2 0.2 15.7 1.1 16.1 1.1Z" fill="#e29418"/><path d="M16.1 2.0C16.5 2.0 16.9 1.0 17.3 1.0C17.7 1.0 18.0 1.9 18.4 2.0C18.7 2.1 19.1 1.5 19.3 1.6C19.5 1.7 19.5 2.4 19.8 2.6C20.1 2.8 20.8 2.5 21.1 2.8C21.3 3.0 21.1 3.6 21.3 3.8C21.6 4.1 22.3 3.9 22.6 4.1C22.8 4.4 22.5 5.2 22.7 5.5C23.0 5.8 23.8 5.7 23.9 5.9C24.1 6.2 23.7 6.8 23.9 7.1C24.0 7.4 24.2 7.6 24.6 7.7C24.9 7.8 25.6 7.4 26.0 7.6C26.4 7.8 26.8 8.3 26.9 8.7C26.9 9.1 26.6 9.6 26.4 9.9C26.1 10.3 25.5 10.7 25.7 10.8C25.8 11.0 26.8 10.7 27.3 10.8C27.8 11.0 28.4 11.4 28.7 11.8C28.9 12.1 28.8 12.5 28.7 12.9C28.6 13.3 28.5 13.7 28.1 13.9C27.8 14.2 27.1 14.3 26.7 14.6C26.3 14.9 26.1 15.6 25.6 15.9C25.2 16.3 24.4 16.2 23.9 16.6C23.3 16.9 22.8 17.6 22.2 17.9C21.6 18.1 20.8 17.9 20.2 18.1C19.5 18.3 18.8 19.0 18.3 19.1C17.7 19.2 17.3 18.9 16.8 18.9C16.3 18.9 15.9 18.9 15.4 18.9C14.9 18.9 14.5 19.2 13.9 19.1C13.4 19.0 12.7 18.3 12.0 18.1C11.4 17.9 10.6 18.1 10.0 17.9C9.4 17.6 8.9 16.9 8.3 16.6C7.8 16.2 7.0 16.3 6.6 15.9C6.1 15.6 5.9 14.9 5.5 14.6C5.1 14.3 4.4 14.2 4.1 13.9C3.7 13.7 3.6 13.3 3.5 12.9C3.4 12.5 3.3 12.1 3.5 11.8C3.8 11.4 4.4 11.0 4.9 10.8C5.4 10.7 6.4 11.0 6.5 10.8C6.7 10.7 6.1 10.3 5.8 9.9C5.6 9.6 5.3 9.1 5.3 8.7C5.4 8.3 5.8 7.8 6.2 7.6C6.6 7.4 7.3 7.8 7.6 7.7C8.0 7.6 8.2 7.4 8.3 7.1C8.5 6.8 8.1 6.2 8.3 5.9C8.4 5.7 9.2 5.8 9.5 5.5C9.7 5.2 9.4 4.4 9.6 4.1C9.9 3.9 10.6 4.1 10.9 3.8C11.1 3.6 10.9 3.0 11.1 2.8C11.4 2.5 12.1 2.8 12.4 2.6C12.7 2.4 12.7 1.7 12.9 1.6C13.1 1.5 13.5 2.1 13.8 2.0C14.2 1.9 14.5 1.0 14.9 1.0C15.3 1.0 15.7 2.0 16.1 2.0Z" fill="#f6b620"/><path d="M5.4 8.6C5.2 12.4 10 16.6 16.1 16.6C22.2 16.6 27 12.4 26.8 8.6C24.8 5 7.4 5 5.4 8.6Z" fill="#ffd928" opacity="0.55"/><ellipse cx="16.1" cy="8.3" rx="9.0" ry="7.3" fill="url(#h19)"/><path d="M5.6 10.9C7 14 11 16.4 16.1 16.5C21.2 16.4 25.2 14 26.6 10.9M6.7 7.5C6.1 9.6 6.6 11.6 8 13.3M25.5 7.5C26.1 9.6 25.6 11.6 24.2 13.3" fill="none" stroke="#e29418" stroke-width="0.7" stroke-linecap="round" opacity="0.6"/><path d="M12.6 6.8C12.1 9 12.3 11.6 13 13.6M16.1 6C15.9 8.5 15.9 11.6 16.2 14.2M19.6 6.8C20.1 9 19.9 11.6 19.2 13.6" fill="none" stroke="#f4b01e" stroke-width="0.9" stroke-linecap="round" opacity="0.5"/></g></svg>
<svg class="fl" style="left:203px;top:336px;" width="33" height="33" viewBox="0 0 33 33"><defs><radialGradient id="h20" cx="16.1" cy="8" r="9.2" gradientUnits="userSpaceOnUse"><stop offset="0" stop-color="#ffea50"/><stop offset="0.6" stop-color="#ffd928"/><stop offset="1" stop-color="#f6b620"/></radialGradient><radialGradient id="l20" cx="0.5" cy="0.45" r="0.6"><stop offset="0" stop-color="#3caa46"/><stop offset="0.6" stop-color="#1d8c38"/><stop offset="1" stop-color="#0c6c2e"/></radialGradient></defs><g transform="translate(0.5 0)"><g transform="translate(-0.1 0)"><path d="M15.9 18.5C15.8 23 15.6 27 15.5 30.4" fill="none" stroke="#1f8c3c" stroke-width="2.1" stroke-linecap="round"/><path d="M14.7 22.6C14.3 21.5 13.1 20.8 12.2 20.3C11.3 19.9 10.5 19.9 9.5 19.9C8.5 19.9 7.4 20.0 6.4 20.4C5.5 20.8 4.1 21.7 3.8 22.4C3.5 23.1 4.3 24.0 4.7 24.6C5.1 25.2 5.9 25.6 6.4 26.1C6.9 26.6 7.1 27.4 7.6 27.8C8.1 28.2 8.8 28.4 9.6 28.5C10.4 28.6 11.4 28.4 12.2 28.2C13.0 28.0 14.1 28.1 14.5 27.2C14.9 26.3 15.1 23.8 14.7 22.6Z" fill="url(#l20)" stroke="#0f7a34" stroke-width="0.5"/><path d="M16.6 25.2C17.0 24.2 17.9 23.5 18.8 23.0C19.7 22.5 20.9 22.3 22.0 22.2C23.1 22.1 24.5 22.2 25.5 22.6C26.5 23.0 27.8 23.9 28.0 24.6C28.2 25.3 27.4 26.2 27.0 26.8C26.6 27.4 26.0 27.8 25.5 28.3C25.0 28.8 24.7 29.5 24.0 29.9C23.3 30.3 22.4 30.6 21.5 30.6C20.6 30.7 19.5 30.4 18.6 30.2C17.8 30.0 16.7 30.0 16.4 29.2C16.1 28.4 16.2 26.2 16.6 25.2Z" fill="url(#l20)" stroke="#0f7a34" stroke-width="0.5"/></g><path d="M16.1 1.1C16.5 1.1 17.0 0.2 17.4 0.2C17.8 0.2 18.2 1.0 18.6 1.1C19.0 1.2 19.3 0.7 19.6 0.8C19.9 0.9 19.9 1.6 20.2 1.9C20.5 2.1 21.3 1.8 21.6 2.0C21.8 2.3 21.6 3.0 21.9 3.2C22.1 3.5 22.9 3.2 23.2 3.5C23.5 3.8 23.2 4.7 23.5 5.0C23.7 5.3 24.5 5.2 24.7 5.5C24.9 5.9 24.5 6.5 24.7 6.8C24.8 7.2 25.0 7.4 25.4 7.5C25.8 7.6 26.4 7.2 26.8 7.4C27.2 7.6 27.6 8.2 27.7 8.6C27.8 9.0 27.4 9.5 27.2 9.9C27.0 10.3 26.4 10.7 26.5 10.9C26.6 11.1 27.6 10.7 28.1 10.9C28.6 11.1 29.3 11.5 29.5 11.9C29.7 12.3 29.6 12.7 29.5 13.1C29.4 13.5 29.3 13.9 29.0 14.2C28.6 14.5 27.9 14.6 27.5 14.9C27.0 15.3 26.8 16.0 26.4 16.4C25.9 16.8 25.1 16.7 24.5 17.1C23.9 17.5 23.4 18.2 22.7 18.6C22.0 18.9 21.3 18.7 20.6 18.9C19.8 19.1 19.1 19.8 18.5 19.9C17.8 20.1 17.4 19.8 16.9 19.8C16.4 19.7 15.8 19.7 15.3 19.8C14.8 19.8 14.4 20.1 13.8 19.9C13.1 19.8 12.4 19.1 11.7 18.9C10.9 18.7 10.2 18.9 9.5 18.6C8.8 18.2 8.3 17.5 7.7 17.1C7.1 16.7 6.3 16.8 5.9 16.4C5.4 16.0 5.2 15.3 4.8 14.9C4.3 14.6 3.6 14.5 3.3 14.2C2.9 13.9 2.8 13.5 2.7 13.1C2.6 12.7 2.5 12.3 2.7 11.9C2.9 11.5 3.6 11.1 4.1 10.9C4.6 10.7 5.6 11.1 5.7 10.9C5.9 10.7 5.2 10.3 5.0 9.9C4.8 9.5 4.4 9.0 4.5 8.6C4.6 8.2 5.0 7.6 5.4 7.4C5.8 7.2 6.4 7.6 6.8 7.5C7.2 7.4 7.4 7.2 7.6 6.8C7.7 6.5 7.3 5.9 7.5 5.5C7.7 5.2 8.5 5.3 8.8 5.0C9.0 4.7 8.7 3.8 9.0 3.5C9.3 3.2 10.1 3.5 10.4 3.2C10.6 3.0 10.4 2.3 10.7 2.0C10.9 1.8 11.7 2.1 12.0 1.9C12.3 1.6 12.3 0.9 12.6 0.8C12.9 0.7 13.2 1.2 13.6 1.1C14.0 1.0 14.4 0.2 14.8 0.2C15.2 0.2 15.7 1.1 16.1 1.1Z" fill="#e29418"/><path d="M16.1 2.0C16.5 2.0 16.9 1.0 17.3 1.0C17.7 1.0 18.0 1.9 18.4 2.0C18.7 2.1 19.1 1.5 19.3 1.6C19.5 1.7 19.5 2.4 19.8 2.6C20.1 2.8 20.8 2.5 21.1 2.8C21.3 3.0 21.1 3.6 21.3 3.8C21.6 4.1 22.3 3.9 22.6 4.1C22.8 4.4 22.5 5.2 22.7 5.5C23.0 5.8 23.8 5.7 23.9 5.9C24.1 6.2 23.7 6.8 23.9 7.1C24.0 7.4 24.2 7.6 24.6 7.7C24.9 7.8 25.6 7.4 26.0 7.6C26.4 7.8 26.8 8.3 26.9 8.7C26.9 9.1 26.6 9.6 26.4 9.9C26.1 10.3 25.5 10.7 25.7 10.8C25.8 11.0 26.8 10.7 27.3 10.8C27.8 11.0 28.4 11.4 28.7 11.8C28.9 12.1 28.8 12.5 28.7 12.9C28.6 13.3 28.5 13.7 28.1 13.9C27.8 14.2 27.1 14.3 26.7 14.6C26.3 14.9 26.1 15.6 25.6 15.9C25.2 16.3 24.4 16.2 23.9 16.6C23.3 16.9 22.8 17.6 22.2 17.9C21.6 18.1 20.8 17.9 20.2 18.1C19.5 18.3 18.8 19.0 18.3 19.1C17.7 19.2 17.3 18.9 16.8 18.9C16.3 18.9 15.9 18.9 15.4 18.9C14.9 18.9 14.5 19.2 13.9 19.1C13.4 19.0 12.7 18.3 12.0 18.1C11.4 17.9 10.6 18.1 10.0 17.9C9.4 17.6 8.9 16.9 8.3 16.6C7.8 16.2 7.0 16.3 6.6 15.9C6.1 15.6 5.9 14.9 5.5 14.6C5.1 14.3 4.4 14.2 4.1 13.9C3.7 13.7 3.6 13.3 3.5 12.9C3.4 12.5 3.3 12.1 3.5 11.8C3.8 11.4 4.4 11.0 4.9 10.8C5.4 10.7 6.4 11.0 6.5 10.8C6.7 10.7 6.1 10.3 5.8 9.9C5.6 9.6 5.3 9.1 5.3 8.7C5.4 8.3 5.8 7.8 6.2 7.6C6.6 7.4 7.3 7.8 7.6 7.7C8.0 7.6 8.2 7.4 8.3 7.1C8.5 6.8 8.1 6.2 8.3 5.9C8.4 5.7 9.2 5.8 9.5 5.5C9.7 5.2 9.4 4.4 9.6 4.1C9.9 3.9 10.6 4.1 10.9 3.8C11.1 3.6 10.9 3.0 11.1 2.8C11.4 2.5 12.1 2.8 12.4 2.6C12.7 2.4 12.7 1.7 12.9 1.6C13.1 1.5 13.5 2.1 13.8 2.0C14.2 1.9 14.5 1.0 14.9 1.0C15.3 1.0 15.7 2.0 16.1 2.0Z" fill="#f6b620"/><path d="M5.4 8.6C5.2 12.4 10 16.6 16.1 16.6C22.2 16.6 27 12.4 26.8 8.6C24.8 5 7.4 5 5.4 8.6Z" fill="#ffd928" opacity="0.55"/><ellipse cx="16.1" cy="8.3" rx="9.0" ry="7.3" fill="url(#h20)"/><path d="M5.6 10.9C7 14 11 16.4 16.1 16.5C21.2 16.4 25.2 14 26.6 10.9M6.7 7.5C6.1 9.6 6.6 11.6 8 13.3M25.5 7.5C26.1 9.6 25.6 11.6 24.2 13.3" fill="none" stroke="#e29418" stroke-width="0.7" stroke-linecap="round" opacity="0.6"/><path d="M12.6 6.8C12.1 9 12.3 11.6 13 13.6M16.1 6C15.9 8.5 15.9 11.6 16.2 14.2M19.6 6.8C20.1 9 19.9 11.6 19.2 13.6" fill="none" stroke="#f4b01e" stroke-width="0.9" stroke-linecap="round" opacity="0.5"/></g></svg>
<svg class="fl" style="left:319px;top:336px;" width="33" height="33" viewBox="0 0 33 33"><defs><radialGradient id="h21" cx="16.1" cy="8" r="9.2" gradientUnits="userSpaceOnUse"><stop offset="0" stop-color="#b25cf8"/><stop offset="0.6" stop-color="#983aea"/><stop offset="1" stop-color="#7c20cc"/></radialGradient><radialGradient id="l21" cx="0.5" cy="0.45" r="0.6"><stop offset="0" stop-color="#3caa46"/><stop offset="0.6" stop-color="#1d8c38"/><stop offset="1" stop-color="#0c6c2e"/></radialGradient></defs><g transform="translate(0.1 0)"><g transform="translate(-0.1 0)"><path d="M15.9 18.5C15.8 23 15.6 27 15.5 30.4" fill="none" stroke="#1f8c3c" stroke-width="2.1" stroke-linecap="round"/><path d="M14.7 22.6C14.3 21.5 13.1 20.8 12.2 20.3C11.3 19.9 10.5 19.9 9.5 19.9C8.5 19.9 7.4 20.0 6.4 20.4C5.5 20.8 4.1 21.7 3.8 22.4C3.5 23.1 4.3 24.0 4.7 24.6C5.1 25.2 5.9 25.6 6.4 26.1C6.9 26.6 7.1 27.4 7.6 27.8C8.1 28.2 8.8 28.4 9.6 28.5C10.4 28.6 11.4 28.4 12.2 28.2C13.0 28.0 14.1 28.1 14.5 27.2C14.9 26.3 15.1 23.8 14.7 22.6Z" fill="url(#l21)" stroke="#0f7a34" stroke-width="0.5"/><path d="M16.6 25.2C17.0 24.2 17.9 23.5 18.8 23.0C19.7 22.5 20.9 22.3 22.0 22.2C23.1 22.1 24.5 22.2 25.5 22.6C26.5 23.0 27.8 23.9 28.0 24.6C28.2 25.3 27.4 26.2 27.0 26.8C26.6 27.4 26.0 27.8 25.5 28.3C25.0 28.8 24.7 29.5 24.0 29.9C23.3 30.3 22.4 30.6 21.5 30.6C20.6 30.7 19.5 30.4 18.6 30.2C17.8 30.0 16.7 30.0 16.4 29.2C16.1 28.4 16.2 26.2 16.6 25.2Z" fill="url(#l21)" stroke="#0f7a34" stroke-width="0.5"/></g><path d="M16.1 1.1C16.5 1.1 17.0 0.2 17.4 0.2C17.8 0.2 18.2 1.0 18.6 1.1C19.0 1.2 19.3 0.7 19.6 0.8C19.9 0.9 19.9 1.6 20.2 1.9C20.5 2.1 21.3 1.8 21.6 2.0C21.8 2.3 21.6 3.0 21.9 3.2C22.1 3.5 22.9 3.2 23.2 3.5C23.5 3.8 23.2 4.7 23.5 5.0C23.7 5.3 24.5 5.2 24.7 5.5C24.9 5.9 24.5 6.5 24.7 6.8C24.8 7.2 25.0 7.4 25.4 7.5C25.8 7.6 26.4 7.2 26.8 7.4C27.2 7.6 27.6 8.2 27.7 8.6C27.8 9.0 27.4 9.5 27.2 9.9C27.0 10.3 26.4 10.7 26.5 10.9C26.6 11.1 27.6 10.7 28.1 10.9C28.6 11.1 29.3 11.5 29.5 11.9C29.7 12.3 29.6 12.7 29.5 13.1C29.4 13.5 29.3 13.9 29.0 14.2C28.6 14.5 27.9 14.6 27.5 14.9C27.0 15.3 26.8 16.0 26.4 16.4C25.9 16.8 25.1 16.7 24.5 17.1C23.9 17.5 23.4 18.2 22.7 18.6C22.0 18.9 21.3 18.7 20.6 18.9C19.8 19.1 19.1 19.8 18.5 19.9C17.8 20.1 17.4 19.8 16.9 19.8C16.4 19.7 15.8 19.7 15.3 19.8C14.8 19.8 14.4 20.1 13.8 19.9C13.1 19.8 12.4 19.1 11.7 18.9C10.9 18.7 10.2 18.9 9.5 18.6C8.8 18.2 8.3 17.5 7.7 17.1C7.1 16.7 6.3 16.8 5.9 16.4C5.4 16.0 5.2 15.3 4.8 14.9C4.3 14.6 3.6 14.5 3.3 14.2C2.9 13.9 2.8 13.5 2.7 13.1C2.6 12.7 2.5 12.3 2.7 11.9C2.9 11.5 3.6 11.1 4.1 10.9C4.6 10.7 5.6 11.1 5.7 10.9C5.9 10.7 5.2 10.3 5.0 9.9C4.8 9.5 4.4 9.0 4.5 8.6C4.6 8.2 5.0 7.6 5.4 7.4C5.8 7.2 6.4 7.6 6.8 7.5C7.2 7.4 7.4 7.2 7.6 6.8C7.7 6.5 7.3 5.9 7.5 5.5C7.7 5.2 8.5 5.3 8.8 5.0C9.0 4.7 8.7 3.8 9.0 3.5C9.3 3.2 10.1 3.5 10.4 3.2C10.6 3.0 10.4 2.3 10.7 2.0C10.9 1.8 11.7 2.1 12.0 1.9C12.3 1.6 12.3 0.9 12.6 0.8C12.9 0.7 13.2 1.2 13.6 1.1C14.0 1.0 14.4 0.2 14.8 0.2C15.2 0.2 15.7 1.1 16.1 1.1Z" fill="#6410aa"/><path d="M16.1 2.0C16.5 2.0 16.9 1.0 17.3 1.0C17.7 1.0 18.0 1.9 18.4 2.0C18.7 2.1 19.1 1.5 19.3 1.6C19.5 1.7 19.5 2.4 19.8 2.6C20.1 2.8 20.8 2.5 21.1 2.8C21.3 3.0 21.1 3.6 21.3 3.8C21.6 4.1 22.3 3.9 22.6 4.1C22.8 4.4 22.5 5.2 22.7 5.5C23.0 5.8 23.8 5.7 23.9 5.9C24.1 6.2 23.7 6.8 23.9 7.1C24.0 7.4 24.2 7.6 24.6 7.7C24.9 7.8 25.6 7.4 26.0 7.6C26.4 7.8 26.8 8.3 26.9 8.7C26.9 9.1 26.6 9.6 26.4 9.9C26.1 10.3 25.5 10.7 25.7 10.8C25.8 11.0 26.8 10.7 27.3 10.8C27.8 11.0 28.4 11.4 28.7 11.8C28.9 12.1 28.8 12.5 28.7 12.9C28.6 13.3 28.5 13.7 28.1 13.9C27.8 14.2 27.1 14.3 26.7 14.6C26.3 14.9 26.1 15.6 25.6 15.9C25.2 16.3 24.4 16.2 23.9 16.6C23.3 16.9 22.8 17.6 22.2 17.9C21.6 18.1 20.8 17.9 20.2 18.1C19.5 18.3 18.8 19.0 18.3 19.1C17.7 19.2 17.3 18.9 16.8 18.9C16.3 18.9 15.9 18.9 15.4 18.9C14.9 18.9 14.5 19.2 13.9 19.1C13.4 19.0 12.7 18.3 12.0 18.1C11.4 17.9 10.6 18.1 10.0 17.9C9.4 17.6 8.9 16.9 8.3 16.6C7.8 16.2 7.0 16.3 6.6 15.9C6.1 15.6 5.9 14.9 5.5 14.6C5.1 14.3 4.4 14.2 4.1 13.9C3.7 13.7 3.6 13.3 3.5 12.9C3.4 12.5 3.3 12.1 3.5 11.8C3.8 11.4 4.4 11.0 4.9 10.8C5.4 10.7 6.4 11.0 6.5 10.8C6.7 10.7 6.1 10.3 5.8 9.9C5.6 9.6 5.3 9.1 5.3 8.7C5.4 8.3 5.8 7.8 6.2 7.6C6.6 7.4 7.3 7.8 7.6 7.7C8.0 7.6 8.2 7.4 8.3 7.1C8.5 6.8 8.1 6.2 8.3 5.9C8.4 5.7 9.2 5.8 9.5 5.5C9.7 5.2 9.4 4.4 9.6 4.1C9.9 3.9 10.6 4.1 10.9 3.8C11.1 3.6 10.9 3.0 11.1 2.8C11.4 2.5 12.1 2.8 12.4 2.6C12.7 2.4 12.7 1.7 12.9 1.6C13.1 1.5 13.5 2.1 13.8 2.0C14.2 1.9 14.5 1.0 14.9 1.0C15.3 1.0 15.7 2.0 16.1 2.0Z" fill="#7c20cc"/><path d="M5.4 8.6C5.2 12.4 10 16.6 16.1 16.6C22.2 16.6 27 12.4 26.8 8.6C24.8 5 7.4 5 5.4 8.6Z" fill="#983aea" opacity="0.55"/><ellipse cx="16.1" cy="8.3" rx="9.0" ry="7.3" fill="url(#h21)"/><path d="M5.6 10.9C7 14 11 16.4 16.1 16.5C21.2 16.4 25.2 14 26.6 10.9M6.7 7.5C6.1 9.6 6.6 11.6 8 13.3M25.5 7.5C26.1 9.6 25.6 11.6 24.2 13.3" fill="none" stroke="#6410aa" stroke-width="0.7" stroke-linecap="round" opacity="0.6"/><path d="M12.6 6.8C12.1 9 12.3 11.6 13 13.6M16.1 6C15.9 8.5 15.9 11.6 16.2 14.2M19.6 6.8C20.1 9 19.9 11.6 19.2 13.6" fill="none" stroke="#7a20c8" stroke-width="0.9" stroke-linecap="round" opacity="0.5"/></g></svg>
<svg class="fl" style="left:136px;top:376px;" width="33" height="33" viewBox="0 0 33 33"><defs><radialGradient id="h22" cx="16.1" cy="8" r="9.2" gradientUnits="userSpaceOnUse"><stop offset="0" stop-color="#b25cf8"/><stop offset="0.6" stop-color="#983aea"/><stop offset="1" stop-color="#7c20cc"/></radialGradient><radialGradient id="l22" cx="0.5" cy="0.45" r="0.6"><stop offset="0" stop-color="#3caa46"/><stop offset="0.6" stop-color="#1d8c38"/><stop offset="1" stop-color="#0c6c2e"/></radialGradient></defs><g transform="translate(0.2 0)"><g transform="translate(-0.1 0)"><path d="M15.9 18.5C15.8 23 15.6 27 15.5 30.4" fill="none" stroke="#1f8c3c" stroke-width="2.1" stroke-linecap="round"/><path d="M14.7 22.6C14.3 21.5 13.1 20.8 12.2 20.3C11.3 19.9 10.5 19.9 9.5 19.9C8.5 19.9 7.4 20.0 6.4 20.4C5.5 20.8 4.1 21.7 3.8 22.4C3.5 23.1 4.3 24.0 4.7 24.6C5.1 25.2 5.9 25.6 6.4 26.1C6.9 26.6 7.1 27.4 7.6 27.8C8.1 28.2 8.8 28.4 9.6 28.5C10.4 28.6 11.4 28.4 12.2 28.2C13.0 28.0 14.1 28.1 14.5 27.2C14.9 26.3 15.1 23.8 14.7 22.6Z" fill="url(#l22)" stroke="#0f7a34" stroke-width="0.5"/><path d="M16.6 25.2C17.0 24.2 17.9 23.5 18.8 23.0C19.7 22.5 20.9 22.3 22.0 22.2C23.1 22.1 24.5 22.2 25.5 22.6C26.5 23.0 27.8 23.9 28.0 24.6C28.2 25.3 27.4 26.2 27.0 26.8C26.6 27.4 26.0 27.8 25.5 28.3C25.0 28.8 24.7 29.5 24.0 29.9C23.3 30.3 22.4 30.6 21.5 30.6C20.6 30.7 19.5 30.4 18.6 30.2C17.8 30.0 16.7 30.0 16.4 29.2C16.1 28.4 16.2 26.2 16.6 25.2Z" fill="url(#l22)" stroke="#0f7a34" stroke-width="0.5"/></g><path d="M16.1 1.1C16.5 1.1 17.0 0.2 17.4 0.2C17.8 0.2 18.2 1.0 18.6 1.1C19.0 1.2 19.3 0.7 19.6 0.8C19.9 0.9 19.9 1.6 20.2 1.9C20.5 2.1 21.3 1.8 21.6 2.0C21.8 2.3 21.6 3.0 21.9 3.2C22.1 3.5 22.9 3.2 23.2 3.5C23.5 3.8 23.2 4.7 23.5 5.0C23.7 5.3 24.5 5.2 24.7 5.5C24.9 5.9 24.5 6.5 24.7 6.8C24.8 7.2 25.0 7.4 25.4 7.5C25.8 7.6 26.4 7.2 26.8 7.4C27.2 7.6 27.6 8.2 27.7 8.6C27.8 9.0 27.4 9.5 27.2 9.9C27.0 10.3 26.4 10.7 26.5 10.9C26.6 11.1 27.6 10.7 28.1 10.9C28.6 11.1 29.3 11.5 29.5 11.9C29.7 12.3 29.6 12.7 29.5 13.1C29.4 13.5 29.3 13.9 29.0 14.2C28.6 14.5 27.9 14.6 27.5 14.9C27.0 15.3 26.8 16.0 26.4 16.4C25.9 16.8 25.1 16.7 24.5 17.1C23.9 17.5 23.4 18.2 22.7 18.6C22.0 18.9 21.3 18.7 20.6 18.9C19.8 19.1 19.1 19.8 18.5 19.9C17.8 20.1 17.4 19.8 16.9 19.8C16.4 19.7 15.8 19.7 15.3 19.8C14.8 19.8 14.4 20.1 13.8 19.9C13.1 19.8 12.4 19.1 11.7 18.9C10.9 18.7 10.2 18.9 9.5 18.6C8.8 18.2 8.3 17.5 7.7 17.1C7.1 16.7 6.3 16.8 5.9 16.4C5.4 16.0 5.2 15.3 4.8 14.9C4.3 14.6 3.6 14.5 3.3 14.2C2.9 13.9 2.8 13.5 2.7 13.1C2.6 12.7 2.5 12.3 2.7 11.9C2.9 11.5 3.6 11.1 4.1 10.9C4.6 10.7 5.6 11.1 5.7 10.9C5.9 10.7 5.2 10.3 5.0 9.9C4.8 9.5 4.4 9.0 4.5 8.6C4.6 8.2 5.0 7.6 5.4 7.4C5.8 7.2 6.4 7.6 6.8 7.5C7.2 7.4 7.4 7.2 7.6 6.8C7.7 6.5 7.3 5.9 7.5 5.5C7.7 5.2 8.5 5.3 8.8 5.0C9.0 4.7 8.7 3.8 9.0 3.5C9.3 3.2 10.1 3.5 10.4 3.2C10.6 3.0 10.4 2.3 10.7 2.0C10.9 1.8 11.7 2.1 12.0 1.9C12.3 1.6 12.3 0.9 12.6 0.8C12.9 0.7 13.2 1.2 13.6 1.1C14.0 1.0 14.4 0.2 14.8 0.2C15.2 0.2 15.7 1.1 16.1 1.1Z" fill="#6410aa"/><path d="M16.1 2.0C16.5 2.0 16.9 1.0 17.3 1.0C17.7 1.0 18.0 1.9 18.4 2.0C18.7 2.1 19.1 1.5 19.3 1.6C19.5 1.7 19.5 2.4 19.8 2.6C20.1 2.8 20.8 2.5 21.1 2.8C21.3 3.0 21.1 3.6 21.3 3.8C21.6 4.1 22.3 3.9 22.6 4.1C22.8 4.4 22.5 5.2 22.7 5.5C23.0 5.8 23.8 5.7 23.9 5.9C24.1 6.2 23.7 6.8 23.9 7.1C24.0 7.4 24.2 7.6 24.6 7.7C24.9 7.8 25.6 7.4 26.0 7.6C26.4 7.8 26.8 8.3 26.9 8.7C26.9 9.1 26.6 9.6 26.4 9.9C26.1 10.3 25.5 10.7 25.7 10.8C25.8 11.0 26.8 10.7 27.3 10.8C27.8 11.0 28.4 11.4 28.7 11.8C28.9 12.1 28.8 12.5 28.7 12.9C28.6 13.3 28.5 13.7 28.1 13.9C27.8 14.2 27.1 14.3 26.7 14.6C26.3 14.9 26.1 15.6 25.6 15.9C25.2 16.3 24.4 16.2 23.9 16.6C23.3 16.9 22.8 17.6 22.2 17.9C21.6 18.1 20.8 17.9 20.2 18.1C19.5 18.3 18.8 19.0 18.3 19.1C17.7 19.2 17.3 18.9 16.8 18.9C16.3 18.9 15.9 18.9 15.4 18.9C14.9 18.9 14.5 19.2 13.9 19.1C13.4 19.0 12.7 18.3 12.0 18.1C11.4 17.9 10.6 18.1 10.0 17.9C9.4 17.6 8.9 16.9 8.3 16.6C7.8 16.2 7.0 16.3 6.6 15.9C6.1 15.6 5.9 14.9 5.5 14.6C5.1 14.3 4.4 14.2 4.1 13.9C3.7 13.7 3.6 13.3 3.5 12.9C3.4 12.5 3.3 12.1 3.5 11.8C3.8 11.4 4.4 11.0 4.9 10.8C5.4 10.7 6.4 11.0 6.5 10.8C6.7 10.7 6.1 10.3 5.8 9.9C5.6 9.6 5.3 9.1 5.3 8.7C5.4 8.3 5.8 7.8 6.2 7.6C6.6 7.4 7.3 7.8 7.6 7.7C8.0 7.6 8.2 7.4 8.3 7.1C8.5 6.8 8.1 6.2 8.3 5.9C8.4 5.7 9.2 5.8 9.5 5.5C9.7 5.2 9.4 4.4 9.6 4.1C9.9 3.9 10.6 4.1 10.9 3.8C11.1 3.6 10.9 3.0 11.1 2.8C11.4 2.5 12.1 2.8 12.4 2.6C12.7 2.4 12.7 1.7 12.9 1.6C13.1 1.5 13.5 2.1 13.8 2.0C14.2 1.9 14.5 1.0 14.9 1.0C15.3 1.0 15.7 2.0 16.1 2.0Z" fill="#7c20cc"/><path d="M5.4 8.6C5.2 12.4 10 16.6 16.1 16.6C22.2 16.6 27 12.4 26.8 8.6C24.8 5 7.4 5 5.4 8.6Z" fill="#983aea" opacity="0.55"/><ellipse cx="16.1" cy="8.3" rx="9.0" ry="7.3" fill="url(#h22)"/><path d="M5.6 10.9C7 14 11 16.4 16.1 16.5C21.2 16.4 25.2 14 26.6 10.9M6.7 7.5C6.1 9.6 6.6 11.6 8 13.3M25.5 7.5C26.1 9.6 25.6 11.6 24.2 13.3" fill="none" stroke="#6410aa" stroke-width="0.7" stroke-linecap="round" opacity="0.6"/><path d="M12.6 6.8C12.1 9 12.3 11.6 13 13.6M16.1 6C15.9 8.5 15.9 11.6 16.2 14.2M19.6 6.8C20.1 9 19.9 11.6 19.2 13.6" fill="none" stroke="#7a20c8" stroke-width="0.9" stroke-linecap="round" opacity="0.5"/></g></svg>
<svg class="fl" style="left:203px;top:376px;" width="33" height="33" viewBox="0 0 33 33"><defs><radialGradient id="h23" cx="16.1" cy="8" r="9.2" gradientUnits="userSpaceOnUse"><stop offset="0" stop-color="#b25cf8"/><stop offset="0.6" stop-color="#983aea"/><stop offset="1" stop-color="#7c20cc"/></radialGradient><radialGradient id="l23" cx="0.5" cy="0.45" r="0.6"><stop offset="0" stop-color="#3caa46"/><stop offset="0.6" stop-color="#1d8c38"/><stop offset="1" stop-color="#0c6c2e"/></radialGradient></defs><g transform="translate(0.5 0)"><g transform="translate(-0.1 0)"><path d="M15.9 18.5C15.8 23 15.6 27 15.5 30.4" fill="none" stroke="#1f8c3c" stroke-width="2.1" stroke-linecap="round"/><path d="M14.7 22.6C14.3 21.5 13.1 20.8 12.2 20.3C11.3 19.9 10.5 19.9 9.5 19.9C8.5 19.9 7.4 20.0 6.4 20.4C5.5 20.8 4.1 21.7 3.8 22.4C3.5 23.1 4.3 24.0 4.7 24.6C5.1 25.2 5.9 25.6 6.4 26.1C6.9 26.6 7.1 27.4 7.6 27.8C8.1 28.2 8.8 28.4 9.6 28.5C10.4 28.6 11.4 28.4 12.2 28.2C13.0 28.0 14.1 28.1 14.5 27.2C14.9 26.3 15.1 23.8 14.7 22.6Z" fill="url(#l23)" stroke="#0f7a34" stroke-width="0.5"/><path d="M16.6 25.2C17.0 24.2 17.9 23.5 18.8 23.0C19.7 22.5 20.9 22.3 22.0 22.2C23.1 22.1 24.5 22.2 25.5 22.6C26.5 23.0 27.8 23.9 28.0 24.6C28.2 25.3 27.4 26.2 27.0 26.8C26.6 27.4 26.0 27.8 25.5 28.3C25.0 28.8 24.7 29.5 24.0 29.9C23.3 30.3 22.4 30.6 21.5 30.6C20.6 30.7 19.5 30.4 18.6 30.2C17.8 30.0 16.7 30.0 16.4 29.2C16.1 28.4 16.2 26.2 16.6 25.2Z" fill="url(#l23)" stroke="#0f7a34" stroke-width="0.5"/></g><path d="M16.1 1.1C16.5 1.1 17.0 0.2 17.4 0.2C17.8 0.2 18.2 1.0 18.6 1.1C19.0 1.2 19.3 0.7 19.6 0.8C19.9 0.9 19.9 1.6 20.2 1.9C20.5 2.1 21.3 1.8 21.6 2.0C21.8 2.3 21.6 3.0 21.9 3.2C22.1 3.5 22.9 3.2 23.2 3.5C23.5 3.8 23.2 4.7 23.5 5.0C23.7 5.3 24.5 5.2 24.7 5.5C24.9 5.9 24.5 6.5 24.7 6.8C24.8 7.2 25.0 7.4 25.4 7.5C25.8 7.6 26.4 7.2 26.8 7.4C27.2 7.6 27.6 8.2 27.7 8.6C27.8 9.0 27.4 9.5 27.2 9.9C27.0 10.3 26.4 10.7 26.5 10.9C26.6 11.1 27.6 10.7 28.1 10.9C28.6 11.1 29.3 11.5 29.5 11.9C29.7 12.3 29.6 12.7 29.5 13.1C29.4 13.5 29.3 13.9 29.0 14.2C28.6 14.5 27.9 14.6 27.5 14.9C27.0 15.3 26.8 16.0 26.4 16.4C25.9 16.8 25.1 16.7 24.5 17.1C23.9 17.5 23.4 18.2 22.7 18.6C22.0 18.9 21.3 18.7 20.6 18.9C19.8 19.1 19.1 19.8 18.5 19.9C17.8 20.1 17.4 19.8 16.9 19.8C16.4 19.7 15.8 19.7 15.3 19.8C14.8 19.8 14.4 20.1 13.8 19.9C13.1 19.8 12.4 19.1 11.7 18.9C10.9 18.7 10.2 18.9 9.5 18.6C8.8 18.2 8.3 17.5 7.7 17.1C7.1 16.7 6.3 16.8 5.9 16.4C5.4 16.0 5.2 15.3 4.8 14.9C4.3 14.6 3.6 14.5 3.3 14.2C2.9 13.9 2.8 13.5 2.7 13.1C2.6 12.7 2.5 12.3 2.7 11.9C2.9 11.5 3.6 11.1 4.1 10.9C4.6 10.7 5.6 11.1 5.7 10.9C5.9 10.7 5.2 10.3 5.0 9.9C4.8 9.5 4.4 9.0 4.5 8.6C4.6 8.2 5.0 7.6 5.4 7.4C5.8 7.2 6.4 7.6 6.8 7.5C7.2 7.4 7.4 7.2 7.6 6.8C7.7 6.5 7.3 5.9 7.5 5.5C7.7 5.2 8.5 5.3 8.8 5.0C9.0 4.7 8.7 3.8 9.0 3.5C9.3 3.2 10.1 3.5 10.4 3.2C10.6 3.0 10.4 2.3 10.7 2.0C10.9 1.8 11.7 2.1 12.0 1.9C12.3 1.6 12.3 0.9 12.6 0.8C12.9 0.7 13.2 1.2 13.6 1.1C14.0 1.0 14.4 0.2 14.8 0.2C15.2 0.2 15.7 1.1 16.1 1.1Z" fill="#6410aa"/><path d="M16.1 2.0C16.5 2.0 16.9 1.0 17.3 1.0C17.7 1.0 18.0 1.9 18.4 2.0C18.7 2.1 19.1 1.5 19.3 1.6C19.5 1.7 19.5 2.4 19.8 2.6C20.1 2.8 20.8 2.5 21.1 2.8C21.3 3.0 21.1 3.6 21.3 3.8C21.6 4.1 22.3 3.9 22.6 4.1C22.8 4.4 22.5 5.2 22.7 5.5C23.0 5.8 23.8 5.7 23.9 5.9C24.1 6.2 23.7 6.8 23.9 7.1C24.0 7.4 24.2 7.6 24.6 7.7C24.9 7.8 25.6 7.4 26.0 7.6C26.4 7.8 26.8 8.3 26.9 8.7C26.9 9.1 26.6 9.6 26.4 9.9C26.1 10.3 25.5 10.7 25.7 10.8C25.8 11.0 26.8 10.7 27.3 10.8C27.8 11.0 28.4 11.4 28.7 11.8C28.9 12.1 28.8 12.5 28.7 12.9C28.6 13.3 28.5 13.7 28.1 13.9C27.8 14.2 27.1 14.3 26.7 14.6C26.3 14.9 26.1 15.6 25.6 15.9C25.2 16.3 24.4 16.2 23.9 16.6C23.3 16.9 22.8 17.6 22.2 17.9C21.6 18.1 20.8 17.9 20.2 18.1C19.5 18.3 18.8 19.0 18.3 19.1C17.7 19.2 17.3 18.9 16.8 18.9C16.3 18.9 15.9 18.9 15.4 18.9C14.9 18.9 14.5 19.2 13.9 19.1C13.4 19.0 12.7 18.3 12.0 18.1C11.4 17.9 10.6 18.1 10.0 17.9C9.4 17.6 8.9 16.9 8.3 16.6C7.8 16.2 7.0 16.3 6.6 15.9C6.1 15.6 5.9 14.9 5.5 14.6C5.1 14.3 4.4 14.2 4.1 13.9C3.7 13.7 3.6 13.3 3.5 12.9C3.4 12.5 3.3 12.1 3.5 11.8C3.8 11.4 4.4 11.0 4.9 10.8C5.4 10.7 6.4 11.0 6.5 10.8C6.7 10.7 6.1 10.3 5.8 9.9C5.6 9.6 5.3 9.1 5.3 8.7C5.4 8.3 5.8 7.8 6.2 7.6C6.6 7.4 7.3 7.8 7.6 7.7C8.0 7.6 8.2 7.4 8.3 7.1C8.5 6.8 8.1 6.2 8.3 5.9C8.4 5.7 9.2 5.8 9.5 5.5C9.7 5.2 9.4 4.4 9.6 4.1C9.9 3.9 10.6 4.1 10.9 3.8C11.1 3.6 10.9 3.0 11.1 2.8C11.4 2.5 12.1 2.8 12.4 2.6C12.7 2.4 12.7 1.7 12.9 1.6C13.1 1.5 13.5 2.1 13.8 2.0C14.2 1.9 14.5 1.0 14.9 1.0C15.3 1.0 15.7 2.0 16.1 2.0Z" fill="#7c20cc"/><path d="M5.4 8.6C5.2 12.4 10 16.6 16.1 16.6C22.2 16.6 27 12.4 26.8 8.6C24.8 5 7.4 5 5.4 8.6Z" fill="#983aea" opacity="0.55"/><ellipse cx="16.1" cy="8.3" rx="9.0" ry="7.3" fill="url(#h23)"/><path d="M5.6 10.9C7 14 11 16.4 16.1 16.5C21.2 16.4 25.2 14 26.6 10.9M6.7 7.5C6.1 9.6 6.6 11.6 8 13.3M25.5 7.5C26.1 9.6 25.6 11.6 24.2 13.3" fill="none" stroke="#6410aa" stroke-width="0.7" stroke-linecap="round" opacity="0.6"/><path d="M12.6 6.8C12.1 9 12.3 11.6 13 13.6M16.1 6C15.9 8.5 15.9 11.6 16.2 14.2M19.6 6.8C20.1 9 19.9 11.6 19.2 13.6" fill="none" stroke="#7a20c8" stroke-width="0.9" stroke-linecap="round" opacity="0.5"/></g></svg>
<svg class="fl" style="left:316px;top:376px;" width="33" height="33" viewBox="0 0 33 33"><defs><radialGradient id="h24" cx="16.1" cy="8" r="9.2" gradientUnits="userSpaceOnUse"><stop offset="0" stop-color="#dcf04a"/><stop offset="0.6" stop-color="#cae42e"/><stop offset="1" stop-color="#b4d01c"/></radialGradient><radialGradient id="l24" cx="0.5" cy="0.45" r="0.6"><stop offset="0" stop-color="#3caa46"/><stop offset="0.6" stop-color="#1d8c38"/><stop offset="1" stop-color="#0c6c2e"/></radialGradient></defs><g transform="translate(0.6 0)"><g transform="translate(-0.1 0)"><path d="M15.9 18.5C15.8 23 15.6 27 15.5 30.4" fill="none" stroke="#1f8c3c" stroke-width="2.1" stroke-linecap="round"/><path d="M14.7 22.6C14.3 21.5 13.1 20.8 12.2 20.3C11.3 19.9 10.5 19.9 9.5 19.9C8.5 19.9 7.4 20.0 6.4 20.4C5.5 20.8 4.1 21.7 3.8 22.4C3.5 23.1 4.3 24.0 4.7 24.6C5.1 25.2 5.9 25.6 6.4 26.1C6.9 26.6 7.1 27.4 7.6 27.8C8.1 28.2 8.8 28.4 9.6 28.5C10.4 28.6 11.4 28.4 12.2 28.2C13.0 28.0 14.1 28.1 14.5 27.2C14.9 26.3 15.1 23.8 14.7 22.6Z" fill="url(#l24)" stroke="#0f7a34" stroke-width="0.5"/><path d="M16.6 25.2C17.0 24.2 17.9 23.5 18.8 23.0C19.7 22.5 20.9 22.3 22.0 22.2C23.1 22.1 24.5 22.2 25.5 22.6C26.5 23.0 27.8 23.9 28.0 24.6C28.2 25.3 27.4 26.2 27.0 26.8C26.6 27.4 26.0 27.8 25.5 28.3C25.0 28.8 24.7 29.5 24.0 29.9C23.3 30.3 22.4 30.6 21.5 30.6C20.6 30.7 19.5 30.4 18.6 30.2C17.8 30.0 16.7 30.0 16.4 29.2C16.1 28.4 16.2 26.2 16.6 25.2Z" fill="url(#l24)" stroke="#0f7a34" stroke-width="0.5"/></g><path d="M16.1 1.1C16.5 1.1 17.0 0.2 17.4 0.2C17.8 0.2 18.2 1.0 18.6 1.1C19.0 1.2 19.3 0.7 19.6 0.8C19.9 0.9 19.9 1.6 20.2 1.9C20.5 2.1 21.3 1.8 21.6 2.0C21.8 2.3 21.6 3.0 21.9 3.2C22.1 3.5 22.9 3.2 23.2 3.5C23.5 3.8 23.2 4.7 23.5 5.0C23.7 5.3 24.5 5.2 24.7 5.5C24.9 5.9 24.5 6.5 24.7 6.8C24.8 7.2 25.0 7.4 25.4 7.5C25.8 7.6 26.4 7.2 26.8 7.4C27.2 7.6 27.6 8.2 27.7 8.6C27.8 9.0 27.4 9.5 27.2 9.9C27.0 10.3 26.4 10.7 26.5 10.9C26.6 11.1 27.6 10.7 28.1 10.9C28.6 11.1 29.3 11.5 29.5 11.9C29.7 12.3 29.6 12.7 29.5 13.1C29.4 13.5 29.3 13.9 29.0 14.2C28.6 14.5 27.9 14.6 27.5 14.9C27.0 15.3 26.8 16.0 26.4 16.4C25.9 16.8 25.1 16.7 24.5 17.1C23.9 17.5 23.4 18.2 22.7 18.6C22.0 18.9 21.3 18.7 20.6 18.9C19.8 19.1 19.1 19.8 18.5 19.9C17.8 20.1 17.4 19.8 16.9 19.8C16.4 19.7 15.8 19.7 15.3 19.8C14.8 19.8 14.4 20.1 13.8 19.9C13.1 19.8 12.4 19.1 11.7 18.9C10.9 18.7 10.2 18.9 9.5 18.6C8.8 18.2 8.3 17.5 7.7 17.1C7.1 16.7 6.3 16.8 5.9 16.4C5.4 16.0 5.2 15.3 4.8 14.9C4.3 14.6 3.6 14.5 3.3 14.2C2.9 13.9 2.8 13.5 2.7 13.1C2.6 12.7 2.5 12.3 2.7 11.9C2.9 11.5 3.6 11.1 4.1 10.9C4.6 10.7 5.6 11.1 5.7 10.9C5.9 10.7 5.2 10.3 5.0 9.9C4.8 9.5 4.4 9.0 4.5 8.6C4.6 8.2 5.0 7.6 5.4 7.4C5.8 7.2 6.4 7.6 6.8 7.5C7.2 7.4 7.4 7.2 7.6 6.8C7.7 6.5 7.3 5.9 7.5 5.5C7.7 5.2 8.5 5.3 8.8 5.0C9.0 4.7 8.7 3.8 9.0 3.5C9.3 3.2 10.1 3.5 10.4 3.2C10.6 3.0 10.4 2.3 10.7 2.0C10.9 1.8 11.7 2.1 12.0 1.9C12.3 1.6 12.3 0.9 12.6 0.8C12.9 0.7 13.2 1.2 13.6 1.1C14.0 1.0 14.4 0.2 14.8 0.2C15.2 0.2 15.7 1.1 16.1 1.1Z" fill="#93ae0e"/><path d="M16.1 2.0C16.5 2.0 16.9 1.0 17.3 1.0C17.7 1.0 18.0 1.9 18.4 2.0C18.7 2.1 19.1 1.5 19.3 1.6C19.5 1.7 19.5 2.4 19.8 2.6C20.1 2.8 20.8 2.5 21.1 2.8C21.3 3.0 21.1 3.6 21.3 3.8C21.6 4.1 22.3 3.9 22.6 4.1C22.8 4.4 22.5 5.2 22.7 5.5C23.0 5.8 23.8 5.7 23.9 5.9C24.1 6.2 23.7 6.8 23.9 7.1C24.0 7.4 24.2 7.6 24.6 7.7C24.9 7.8 25.6 7.4 26.0 7.6C26.4 7.8 26.8 8.3 26.9 8.7C26.9 9.1 26.6 9.6 26.4 9.9C26.1 10.3 25.5 10.7 25.7 10.8C25.8 11.0 26.8 10.7 27.3 10.8C27.8 11.0 28.4 11.4 28.7 11.8C28.9 12.1 28.8 12.5 28.7 12.9C28.6 13.3 28.5 13.7 28.1 13.9C27.8 14.2 27.1 14.3 26.7 14.6C26.3 14.9 26.1 15.6 25.6 15.9C25.2 16.3 24.4 16.2 23.9 16.6C23.3 16.9 22.8 17.6 22.2 17.9C21.6 18.1 20.8 17.9 20.2 18.1C19.5 18.3 18.8 19.0 18.3 19.1C17.7 19.2 17.3 18.9 16.8 18.9C16.3 18.9 15.9 18.9 15.4 18.9C14.9 18.9 14.5 19.2 13.9 19.1C13.4 19.0 12.7 18.3 12.0 18.1C11.4 17.9 10.6 18.1 10.0 17.9C9.4 17.6 8.9 16.9 8.3 16.6C7.8 16.2 7.0 16.3 6.6 15.9C6.1 15.6 5.9 14.9 5.5 14.6C5.1 14.3 4.4 14.2 4.1 13.9C3.7 13.7 3.6 13.3 3.5 12.9C3.4 12.5 3.3 12.1 3.5 11.8C3.8 11.4 4.4 11.0 4.9 10.8C5.4 10.7 6.4 11.0 6.5 10.8C6.7 10.7 6.1 10.3 5.8 9.9C5.6 9.6 5.3 9.1 5.3 8.7C5.4 8.3 5.8 7.8 6.2 7.6C6.6 7.4 7.3 7.8 7.6 7.7C8.0 7.6 8.2 7.4 8.3 7.1C8.5 6.8 8.1 6.2 8.3 5.9C8.4 5.7 9.2 5.8 9.5 5.5C9.7 5.2 9.4 4.4 9.6 4.1C9.9 3.9 10.6 4.1 10.9 3.8C11.1 3.6 10.9 3.0 11.1 2.8C11.4 2.5 12.1 2.8 12.4 2.6C12.7 2.4 12.7 1.7 12.9 1.6C13.1 1.5 13.5 2.1 13.8 2.0C14.2 1.9 14.5 1.0 14.9 1.0C15.3 1.0 15.7 2.0 16.1 2.0Z" fill="#b4d01c"/><path d="M5.4 8.6C5.2 12.4 10 16.6 16.1 16.6C22.2 16.6 27 12.4 26.8 8.6C24.8 5 7.4 5 5.4 8.6Z" fill="#cae42e" opacity="0.55"/><ellipse cx="16.1" cy="8.3" rx="9.0" ry="7.3" fill="url(#h24)"/><path d="M5.6 10.9C7 14 11 16.4 16.1 16.5C21.2 16.4 25.2 14 26.6 10.9M6.7 7.5C6.1 9.6 6.6 11.6 8 13.3M25.5 7.5C26.1 9.6 25.6 11.6 24.2 13.3" fill="none" stroke="#93ae0e" stroke-width="0.7" stroke-linecap="round" opacity="0.6"/><path d="M12.6 6.8C12.1 9 12.3 11.6 13 13.6M16.1 6C15.9 8.5 15.9 11.6 16.2 14.2M19.6 6.8C20.1 9 19.9 11.6 19.2 13.6" fill="none" stroke="#a6c416" stroke-width="0.9" stroke-linecap="round" opacity="0.5"/></g></svg>
<svg class="fl" style="left:136px;top:449px;" width="33" height="33" viewBox="0 0 33 33"><defs><radialGradient id="h25" cx="16.1" cy="8" r="9.2" gradientUnits="userSpaceOnUse"><stop offset="0" stop-color="#ffea50"/><stop offset="0.6" stop-color="#ffd928"/><stop offset="1" stop-color="#f6b620"/></radialGradient><radialGradient id="l25" cx="0.5" cy="0.45" r="0.6"><stop offset="0" stop-color="#3caa46"/><stop offset="0.6" stop-color="#1d8c38"/><stop offset="1" stop-color="#0c6c2e"/></radialGradient></defs><g transform="translate(0.2 0)"><g transform="translate(-0.1 0)"><path d="M15.9 18.5C15.8 23 15.6 27 15.5 30.4" fill="none" stroke="#1f8c3c" stroke-width="2.1" stroke-linecap="round"/><path d="M14.7 22.6C14.3 21.5 13.1 20.8 12.2 20.3C11.3 19.9 10.5 19.9 9.5 19.9C8.5 19.9 7.4 20.0 6.4 20.4C5.5 20.8 4.1 21.7 3.8 22.4C3.5 23.1 4.3 24.0 4.7 24.6C5.1 25.2 5.9 25.6 6.4 26.1C6.9 26.6 7.1 27.4 7.6 27.8C8.1 28.2 8.8 28.4 9.6 28.5C10.4 28.6 11.4 28.4 12.2 28.2C13.0 28.0 14.1 28.1 14.5 27.2C14.9 26.3 15.1 23.8 14.7 22.6Z" fill="url(#l25)" stroke="#0f7a34" stroke-width="0.5"/><path d="M16.6 25.2C17.0 24.2 17.9 23.5 18.8 23.0C19.7 22.5 20.9 22.3 22.0 22.2C23.1 22.1 24.5 22.2 25.5 22.6C26.5 23.0 27.8 23.9 28.0 24.6C28.2 25.3 27.4 26.2 27.0 26.8C26.6 27.4 26.0 27.8 25.5 28.3C25.0 28.8 24.7 29.5 24.0 29.9C23.3 30.3 22.4 30.6 21.5 30.6C20.6 30.7 19.5 30.4 18.6 30.2C17.8 30.0 16.7 30.0 16.4 29.2C16.1 28.4 16.2 26.2 16.6 25.2Z" fill="url(#l25)" stroke="#0f7a34" stroke-width="0.5"/></g><path d="M16.1 1.1C16.5 1.1 17.0 0.2 17.4 0.2C17.8 0.2 18.2 1.0 18.6 1.1C19.0 1.2 19.3 0.7 19.6 0.8C19.9 0.9 19.9 1.6 20.2 1.9C20.5 2.1 21.3 1.8 21.6 2.0C21.8 2.3 21.6 3.0 21.9 3.2C22.1 3.5 22.9 3.2 23.2 3.5C23.5 3.8 23.2 4.7 23.5 5.0C23.7 5.3 24.5 5.2 24.7 5.5C24.9 5.9 24.5 6.5 24.7 6.8C24.8 7.2 25.0 7.4 25.4 7.5C25.8 7.6 26.4 7.2 26.8 7.4C27.2 7.6 27.6 8.2 27.7 8.6C27.8 9.0 27.4 9.5 27.2 9.9C27.0 10.3 26.4 10.7 26.5 10.9C26.6 11.1 27.6 10.7 28.1 10.9C28.6 11.1 29.3 11.5 29.5 11.9C29.7 12.3 29.6 12.7 29.5 13.1C29.4 13.5 29.3 13.9 29.0 14.2C28.6 14.5 27.9 14.6 27.5 14.9C27.0 15.3 26.8 16.0 26.4 16.4C25.9 16.8 25.1 16.7 24.5 17.1C23.9 17.5 23.4 18.2 22.7 18.6C22.0 18.9 21.3 18.7 20.6 18.9C19.8 19.1 19.1 19.8 18.5 19.9C17.8 20.1 17.4 19.8 16.9 19.8C16.4 19.7 15.8 19.7 15.3 19.8C14.8 19.8 14.4 20.1 13.8 19.9C13.1 19.8 12.4 19.1 11.7 18.9C10.9 18.7 10.2 18.9 9.5 18.6C8.8 18.2 8.3 17.5 7.7 17.1C7.1 16.7 6.3 16.8 5.9 16.4C5.4 16.0 5.2 15.3 4.8 14.9C4.3 14.6 3.6 14.5 3.3 14.2C2.9 13.9 2.8 13.5 2.7 13.1C2.6 12.7 2.5 12.3 2.7 11.9C2.9 11.5 3.6 11.1 4.1 10.9C4.6 10.7 5.6 11.1 5.7 10.9C5.9 10.7 5.2 10.3 5.0 9.9C4.8 9.5 4.4 9.0 4.5 8.6C4.6 8.2 5.0 7.6 5.4 7.4C5.8 7.2 6.4 7.6 6.8 7.5C7.2 7.4 7.4 7.2 7.6 6.8C7.7 6.5 7.3 5.9 7.5 5.5C7.7 5.2 8.5 5.3 8.8 5.0C9.0 4.7 8.7 3.8 9.0 3.5C9.3 3.2 10.1 3.5 10.4 3.2C10.6 3.0 10.4 2.3 10.7 2.0C10.9 1.8 11.7 2.1 12.0 1.9C12.3 1.6 12.3 0.9 12.6 0.8C12.9 0.7 13.2 1.2 13.6 1.1C14.0 1.0 14.4 0.2 14.8 0.2C15.2 0.2 15.7 1.1 16.1 1.1Z" fill="#e29418"/><path d="M16.1 2.0C16.5 2.0 16.9 1.0 17.3 1.0C17.7 1.0 18.0 1.9 18.4 2.0C18.7 2.1 19.1 1.5 19.3 1.6C19.5 1.7 19.5 2.4 19.8 2.6C20.1 2.8 20.8 2.5 21.1 2.8C21.3 3.0 21.1 3.6 21.3 3.8C21.6 4.1 22.3 3.9 22.6 4.1C22.8 4.4 22.5 5.2 22.7 5.5C23.0 5.8 23.8 5.7 23.9 5.9C24.1 6.2 23.7 6.8 23.9 7.1C24.0 7.4 24.2 7.6 24.6 7.7C24.9 7.8 25.6 7.4 26.0 7.6C26.4 7.8 26.8 8.3 26.9 8.7C26.9 9.1 26.6 9.6 26.4 9.9C26.1 10.3 25.5 10.7 25.7 10.8C25.8 11.0 26.8 10.7 27.3 10.8C27.8 11.0 28.4 11.4 28.7 11.8C28.9 12.1 28.8 12.5 28.7 12.9C28.6 13.3 28.5 13.7 28.1 13.9C27.8 14.2 27.1 14.3 26.7 14.6C26.3 14.9 26.1 15.6 25.6 15.9C25.2 16.3 24.4 16.2 23.9 16.6C23.3 16.9 22.8 17.6 22.2 17.9C21.6 18.1 20.8 17.9 20.2 18.1C19.5 18.3 18.8 19.0 18.3 19.1C17.7 19.2 17.3 18.9 16.8 18.9C16.3 18.9 15.9 18.9 15.4 18.9C14.9 18.9 14.5 19.2 13.9 19.1C13.4 19.0 12.7 18.3 12.0 18.1C11.4 17.9 10.6 18.1 10.0 17.9C9.4 17.6 8.9 16.9 8.3 16.6C7.8 16.2 7.0 16.3 6.6 15.9C6.1 15.6 5.9 14.9 5.5 14.6C5.1 14.3 4.4 14.2 4.1 13.9C3.7 13.7 3.6 13.3 3.5 12.9C3.4 12.5 3.3 12.1 3.5 11.8C3.8 11.4 4.4 11.0 4.9 10.8C5.4 10.7 6.4 11.0 6.5 10.8C6.7 10.7 6.1 10.3 5.8 9.9C5.6 9.6 5.3 9.1 5.3 8.7C5.4 8.3 5.8 7.8 6.2 7.6C6.6 7.4 7.3 7.8 7.6 7.7C8.0 7.6 8.2 7.4 8.3 7.1C8.5 6.8 8.1 6.2 8.3 5.9C8.4 5.7 9.2 5.8 9.5 5.5C9.7 5.2 9.4 4.4 9.6 4.1C9.9 3.9 10.6 4.1 10.9 3.8C11.1 3.6 10.9 3.0 11.1 2.8C11.4 2.5 12.1 2.8 12.4 2.6C12.7 2.4 12.7 1.7 12.9 1.6C13.1 1.5 13.5 2.1 13.8 2.0C14.2 1.9 14.5 1.0 14.9 1.0C15.3 1.0 15.7 2.0 16.1 2.0Z" fill="#f6b620"/><path d="M5.4 8.6C5.2 12.4 10 16.6 16.1 16.6C22.2 16.6 27 12.4 26.8 8.6C24.8 5 7.4 5 5.4 8.6Z" fill="#ffd928" opacity="0.55"/><ellipse cx="16.1" cy="8.3" rx="9.0" ry="7.3" fill="url(#h25)"/><path d="M5.6 10.9C7 14 11 16.4 16.1 16.5C21.2 16.4 25.2 14 26.6 10.9M6.7 7.5C6.1 9.6 6.6 11.6 8 13.3M25.5 7.5C26.1 9.6 25.6 11.6 24.2 13.3" fill="none" stroke="#e29418" stroke-width="0.7" stroke-linecap="round" opacity="0.6"/><path d="M12.6 6.8C12.1 9 12.3 11.6 13 13.6M16.1 6C15.9 8.5 15.9 11.6 16.2 14.2M19.6 6.8C20.1 9 19.9 11.6 19.2 13.6" fill="none" stroke="#f4b01e" stroke-width="0.9" stroke-linecap="round" opacity="0.5"/></g></svg>
<svg class="fl" style="left:196px;top:449px;" width="33" height="33" viewBox="0 0 33 33"><defs><radialGradient id="h26" cx="16.1" cy="8" r="9.2" gradientUnits="userSpaceOnUse"><stop offset="0" stop-color="#ee4448"/><stop offset="0.6" stop-color="#e42c3a"/><stop offset="1" stop-color="#d01c30"/></radialGradient><radialGradient id="l26" cx="0.5" cy="0.45" r="0.6"><stop offset="0" stop-color="#3caa46"/><stop offset="0.6" stop-color="#1d8c38"/><stop offset="1" stop-color="#0c6c2e"/></radialGradient></defs><g transform="translate(0.1 0)"><g transform="translate(-0.1 0)"><path d="M15.9 18.5C15.8 23 15.6 27 15.5 30.4" fill="none" stroke="#1f8c3c" stroke-width="2.1" stroke-linecap="round"/><path d="M14.7 22.6C14.3 21.5 13.1 20.8 12.2 20.3C11.3 19.9 10.5 19.9 9.5 19.9C8.5 19.9 7.4 20.0 6.4 20.4C5.5 20.8 4.1 21.7 3.8 22.4C3.5 23.1 4.3 24.0 4.7 24.6C5.1 25.2 5.9 25.6 6.4 26.1C6.9 26.6 7.1 27.4 7.6 27.8C8.1 28.2 8.8 28.4 9.6 28.5C10.4 28.6 11.4 28.4 12.2 28.2C13.0 28.0 14.1 28.1 14.5 27.2C14.9 26.3 15.1 23.8 14.7 22.6Z" fill="url(#l26)" stroke="#0f7a34" stroke-width="0.5"/><path d="M16.6 25.2C17.0 24.2 17.9 23.5 18.8 23.0C19.7 22.5 20.9 22.3 22.0 22.2C23.1 22.1 24.5 22.2 25.5 22.6C26.5 23.0 27.8 23.9 28.0 24.6C28.2 25.3 27.4 26.2 27.0 26.8C26.6 27.4 26.0 27.8 25.5 28.3C25.0 28.8 24.7 29.5 24.0 29.9C23.3 30.3 22.4 30.6 21.5 30.6C20.6 30.7 19.5 30.4 18.6 30.2C17.8 30.0 16.7 30.0 16.4 29.2C16.1 28.4 16.2 26.2 16.6 25.2Z" fill="url(#l26)" stroke="#0f7a34" stroke-width="0.5"/></g><path d="M16.1 1.1C16.5 1.1 17.0 0.2 17.4 0.2C17.8 0.2 18.2 1.0 18.6 1.1C19.0 1.2 19.3 0.7 19.6 0.8C19.9 0.9 19.9 1.6 20.2 1.9C20.5 2.1 21.3 1.8 21.6 2.0C21.8 2.3 21.6 3.0 21.9 3.2C22.1 3.5 22.9 3.2 23.2 3.5C23.5 3.8 23.2 4.7 23.5 5.0C23.7 5.3 24.5 5.2 24.7 5.5C24.9 5.9 24.5 6.5 24.7 6.8C24.8 7.2 25.0 7.4 25.4 7.5C25.8 7.6 26.4 7.2 26.8 7.4C27.2 7.6 27.6 8.2 27.7 8.6C27.8 9.0 27.4 9.5 27.2 9.9C27.0 10.3 26.4 10.7 26.5 10.9C26.6 11.1 27.6 10.7 28.1 10.9C28.6 11.1 29.3 11.5 29.5 11.9C29.7 12.3 29.6 12.7 29.5 13.1C29.4 13.5 29.3 13.9 29.0 14.2C28.6 14.5 27.9 14.6 27.5 14.9C27.0 15.3 26.8 16.0 26.4 16.4C25.9 16.8 25.1 16.7 24.5 17.1C23.9 17.5 23.4 18.2 22.7 18.6C22.0 18.9 21.3 18.7 20.6 18.9C19.8 19.1 19.1 19.8 18.5 19.9C17.8 20.1 17.4 19.8 16.9 19.8C16.4 19.7 15.8 19.7 15.3 19.8C14.8 19.8 14.4 20.1 13.8 19.9C13.1 19.8 12.4 19.1 11.7 18.9C10.9 18.7 10.2 18.9 9.5 18.6C8.8 18.2 8.3 17.5 7.7 17.1C7.1 16.7 6.3 16.8 5.9 16.4C5.4 16.0 5.2 15.3 4.8 14.9C4.3 14.6 3.6 14.5 3.3 14.2C2.9 13.9 2.8 13.5 2.7 13.1C2.6 12.7 2.5 12.3 2.7 11.9C2.9 11.5 3.6 11.1 4.1 10.9C4.6 10.7 5.6 11.1 5.7 10.9C5.9 10.7 5.2 10.3 5.0 9.9C4.8 9.5 4.4 9.0 4.5 8.6C4.6 8.2 5.0 7.6 5.4 7.4C5.8 7.2 6.4 7.6 6.8 7.5C7.2 7.4 7.4 7.2 7.6 6.8C7.7 6.5 7.3 5.9 7.5 5.5C7.7 5.2 8.5 5.3 8.8 5.0C9.0 4.7 8.7 3.8 9.0 3.5C9.3 3.2 10.1 3.5 10.4 3.2C10.6 3.0 10.4 2.3 10.7 2.0C10.9 1.8 11.7 2.1 12.0 1.9C12.3 1.6 12.3 0.9 12.6 0.8C12.9 0.7 13.2 1.2 13.6 1.1C14.0 1.0 14.4 0.2 14.8 0.2C15.2 0.2 15.7 1.1 16.1 1.1Z" fill="#b80f26"/><path d="M16.1 2.0C16.5 2.0 16.9 1.0 17.3 1.0C17.7 1.0 18.0 1.9 18.4 2.0C18.7 2.1 19.1 1.5 19.3 1.6C19.5 1.7 19.5 2.4 19.8 2.6C20.1 2.8 20.8 2.5 21.1 2.8C21.3 3.0 21.1 3.6 21.3 3.8C21.6 4.1 22.3 3.9 22.6 4.1C22.8 4.4 22.5 5.2 22.7 5.5C23.0 5.8 23.8 5.7 23.9 5.9C24.1 6.2 23.7 6.8 23.9 7.1C24.0 7.4 24.2 7.6 24.6 7.7C24.9 7.8 25.6 7.4 26.0 7.6C26.4 7.8 26.8 8.3 26.9 8.7C26.9 9.1 26.6 9.6 26.4 9.9C26.1 10.3 25.5 10.7 25.7 10.8C25.8 11.0 26.8 10.7 27.3 10.8C27.8 11.0 28.4 11.4 28.7 11.8C28.9 12.1 28.8 12.5 28.7 12.9C28.6 13.3 28.5 13.7 28.1 13.9C27.8 14.2 27.1 14.3 26.7 14.6C26.3 14.9 26.1 15.6 25.6 15.9C25.2 16.3 24.4 16.2 23.9 16.6C23.3 16.9 22.8 17.6 22.2 17.9C21.6 18.1 20.8 17.9 20.2 18.1C19.5 18.3 18.8 19.0 18.3 19.1C17.7 19.2 17.3 18.9 16.8 18.9C16.3 18.9 15.9 18.9 15.4 18.9C14.9 18.9 14.5 19.2 13.9 19.1C13.4 19.0 12.7 18.3 12.0 18.1C11.4 17.9 10.6 18.1 10.0 17.9C9.4 17.6 8.9 16.9 8.3 16.6C7.8 16.2 7.0 16.3 6.6 15.9C6.1 15.6 5.9 14.9 5.5 14.6C5.1 14.3 4.4 14.2 4.1 13.9C3.7 13.7 3.6 13.3 3.5 12.9C3.4 12.5 3.3 12.1 3.5 11.8C3.8 11.4 4.4 11.0 4.9 10.8C5.4 10.7 6.4 11.0 6.5 10.8C6.7 10.7 6.1 10.3 5.8 9.9C5.6 9.6 5.3 9.1 5.3 8.7C5.4 8.3 5.8 7.8 6.2 7.6C6.6 7.4 7.3 7.8 7.6 7.7C8.0 7.6 8.2 7.4 8.3 7.1C8.5 6.8 8.1 6.2 8.3 5.9C8.4 5.7 9.2 5.8 9.5 5.5C9.7 5.2 9.4 4.4 9.6 4.1C9.9 3.9 10.6 4.1 10.9 3.8C11.1 3.6 10.9 3.0 11.1 2.8C11.4 2.5 12.1 2.8 12.4 2.6C12.7 2.4 12.7 1.7 12.9 1.6C13.1 1.5 13.5 2.1 13.8 2.0C14.2 1.9 14.5 1.0 14.9 1.0C15.3 1.0 15.7 2.0 16.1 2.0Z" fill="#d01c30"/><path d="M5.4 8.6C5.2 12.4 10 16.6 16.1 16.6C22.2 16.6 27 12.4 26.8 8.6C24.8 5 7.4 5 5.4 8.6Z" fill="#e42c3a" opacity="0.55"/><ellipse cx="16.1" cy="8.3" rx="9.0" ry="7.3" fill="url(#h26)"/><path d="M5.6 10.9C7 14 11 16.4 16.1 16.5C21.2 16.4 25.2 14 26.6 10.9M6.7 7.5C6.1 9.6 6.6 11.6 8 13.3M25.5 7.5C26.1 9.6 25.6 11.6 24.2 13.3" fill="none" stroke="#b80f26" stroke-width="0.7" stroke-linecap="round" opacity="0.6"/><path d="M12.6 6.8C12.1 9 12.3 11.6 13 13.6M16.1 6C15.9 8.5 15.9 11.6 16.2 14.2M19.6 6.8C20.1 9 19.9 11.6 19.2 13.6" fill="none" stroke="#c6162c" stroke-width="0.9" stroke-linecap="round" opacity="0.5"/></g></svg>
<svg class="fl" style="left:306px;top:449px;" width="33" height="33" viewBox="0 0 33 33"><defs><radialGradient id="h27" cx="16.1" cy="8" r="9.2" gradientUnits="userSpaceOnUse"><stop offset="0" stop-color="#ffea50"/><stop offset="0.6" stop-color="#ffd928"/><stop offset="1" stop-color="#f6b620"/></radialGradient><radialGradient id="l27" cx="0.5" cy="0.45" r="0.6"><stop offset="0" stop-color="#3caa46"/><stop offset="0.6" stop-color="#1d8c38"/><stop offset="1" stop-color="#0c6c2e"/></radialGradient></defs><g transform="translate(0.4 0)"><g transform="translate(-0.1 0)"><path d="M15.9 18.5C15.8 23 15.6 27 15.5 30.4" fill="none" stroke="#1f8c3c" stroke-width="2.1" stroke-linecap="round"/><path d="M14.7 22.6C14.3 21.5 13.1 20.8 12.2 20.3C11.3 19.9 10.5 19.9 9.5 19.9C8.5 19.9 7.4 20.0 6.4 20.4C5.5 20.8 4.1 21.7 3.8 22.4C3.5 23.1 4.3 24.0 4.7 24.6C5.1 25.2 5.9 25.6 6.4 26.1C6.9 26.6 7.1 27.4 7.6 27.8C8.1 28.2 8.8 28.4 9.6 28.5C10.4 28.6 11.4 28.4 12.2 28.2C13.0 28.0 14.1 28.1 14.5 27.2C14.9 26.3 15.1 23.8 14.7 22.6Z" fill="url(#l27)" stroke="#0f7a34" stroke-width="0.5"/><path d="M16.6 25.2C17.0 24.2 17.9 23.5 18.8 23.0C19.7 22.5 20.9 22.3 22.0 22.2C23.1 22.1 24.5 22.2 25.5 22.6C26.5 23.0 27.8 23.9 28.0 24.6C28.2 25.3 27.4 26.2 27.0 26.8C26.6 27.4 26.0 27.8 25.5 28.3C25.0 28.8 24.7 29.5 24.0 29.9C23.3 30.3 22.4 30.6 21.5 30.6C20.6 30.7 19.5 30.4 18.6 30.2C17.8 30.0 16.7 30.0 16.4 29.2C16.1 28.4 16.2 26.2 16.6 25.2Z" fill="url(#l27)" stroke="#0f7a34" stroke-width="0.5"/></g><path d="M16.1 1.1C16.5 1.1 17.0 0.2 17.4 0.2C17.8 0.2 18.2 1.0 18.6 1.1C19.0 1.2 19.3 0.7 19.6 0.8C19.9 0.9 19.9 1.6 20.2 1.9C20.5 2.1 21.3 1.8 21.6 2.0C21.8 2.3 21.6 3.0 21.9 3.2C22.1 3.5 22.9 3.2 23.2 3.5C23.5 3.8 23.2 4.7 23.5 5.0C23.7 5.3 24.5 5.2 24.7 5.5C24.9 5.9 24.5 6.5 24.7 6.8C24.8 7.2 25.0 7.4 25.4 7.5C25.8 7.6 26.4 7.2 26.8 7.4C27.2 7.6 27.6 8.2 27.7 8.6C27.8 9.0 27.4 9.5 27.2 9.9C27.0 10.3 26.4 10.7 26.5 10.9C26.6 11.1 27.6 10.7 28.1 10.9C28.6 11.1 29.3 11.5 29.5 11.9C29.7 12.3 29.6 12.7 29.5 13.1C29.4 13.5 29.3 13.9 29.0 14.2C28.6 14.5 27.9 14.6 27.5 14.9C27.0 15.3 26.8 16.0 26.4 16.4C25.9 16.8 25.1 16.7 24.5 17.1C23.9 17.5 23.4 18.2 22.7 18.6C22.0 18.9 21.3 18.7 20.6 18.9C19.8 19.1 19.1 19.8 18.5 19.9C17.8 20.1 17.4 19.8 16.9 19.8C16.4 19.7 15.8 19.7 15.3 19.8C14.8 19.8 14.4 20.1 13.8 19.9C13.1 19.8 12.4 19.1 11.7 18.9C10.9 18.7 10.2 18.9 9.5 18.6C8.8 18.2 8.3 17.5 7.7 17.1C7.1 16.7 6.3 16.8 5.9 16.4C5.4 16.0 5.2 15.3 4.8 14.9C4.3 14.6 3.6 14.5 3.3 14.2C2.9 13.9 2.8 13.5 2.7 13.1C2.6 12.7 2.5 12.3 2.7 11.9C2.9 11.5 3.6 11.1 4.1 10.9C4.6 10.7 5.6 11.1 5.7 10.9C5.9 10.7 5.2 10.3 5.0 9.9C4.8 9.5 4.4 9.0 4.5 8.6C4.6 8.2 5.0 7.6 5.4 7.4C5.8 7.2 6.4 7.6 6.8 7.5C7.2 7.4 7.4 7.2 7.6 6.8C7.7 6.5 7.3 5.9 7.5 5.5C7.7 5.2 8.5 5.3 8.8 5.0C9.0 4.7 8.7 3.8 9.0 3.5C9.3 3.2 10.1 3.5 10.4 3.2C10.6 3.0 10.4 2.3 10.7 2.0C10.9 1.8 11.7 2.1 12.0 1.9C12.3 1.6 12.3 0.9 12.6 0.8C12.9 0.7 13.2 1.2 13.6 1.1C14.0 1.0 14.4 0.2 14.8 0.2C15.2 0.2 15.7 1.1 16.1 1.1Z" fill="#e29418"/><path d="M16.1 2.0C16.5 2.0 16.9 1.0 17.3 1.0C17.7 1.0 18.0 1.9 18.4 2.0C18.7 2.1 19.1 1.5 19.3 1.6C19.5 1.7 19.5 2.4 19.8 2.6C20.1 2.8 20.8 2.5 21.1 2.8C21.3 3.0 21.1 3.6 21.3 3.8C21.6 4.1 22.3 3.9 22.6 4.1C22.8 4.4 22.5 5.2 22.7 5.5C23.0 5.8 23.8 5.7 23.9 5.9C24.1 6.2 23.7 6.8 23.9 7.1C24.0 7.4 24.2 7.6 24.6 7.7C24.9 7.8 25.6 7.4 26.0 7.6C26.4 7.8 26.8 8.3 26.9 8.7C26.9 9.1 26.6 9.6 26.4 9.9C26.1 10.3 25.5 10.7 25.7 10.8C25.8 11.0 26.8 10.7 27.3 10.8C27.8 11.0 28.4 11.4 28.7 11.8C28.9 12.1 28.8 12.5 28.7 12.9C28.6 13.3 28.5 13.7 28.1 13.9C27.8 14.2 27.1 14.3 26.7 14.6C26.3 14.9 26.1 15.6 25.6 15.9C25.2 16.3 24.4 16.2 23.9 16.6C23.3 16.9 22.8 17.6 22.2 17.9C21.6 18.1 20.8 17.9 20.2 18.1C19.5 18.3 18.8 19.0 18.3 19.1C17.7 19.2 17.3 18.9 16.8 18.9C16.3 18.9 15.9 18.9 15.4 18.9C14.9 18.9 14.5 19.2 13.9 19.1C13.4 19.0 12.7 18.3 12.0 18.1C11.4 17.9 10.6 18.1 10.0 17.9C9.4 17.6 8.9 16.9 8.3 16.6C7.8 16.2 7.0 16.3 6.6 15.9C6.1 15.6 5.9 14.9 5.5 14.6C5.1 14.3 4.4 14.2 4.1 13.9C3.7 13.7 3.6 13.3 3.5 12.9C3.4 12.5 3.3 12.1 3.5 11.8C3.8 11.4 4.4 11.0 4.9 10.8C5.4 10.7 6.4 11.0 6.5 10.8C6.7 10.7 6.1 10.3 5.8 9.9C5.6 9.6 5.3 9.1 5.3 8.7C5.4 8.3 5.8 7.8 6.2 7.6C6.6 7.4 7.3 7.8 7.6 7.7C8.0 7.6 8.2 7.4 8.3 7.1C8.5 6.8 8.1 6.2 8.3 5.9C8.4 5.7 9.2 5.8 9.5 5.5C9.7 5.2 9.4 4.4 9.6 4.1C9.9 3.9 10.6 4.1 10.9 3.8C11.1 3.6 10.9 3.0 11.1 2.8C11.4 2.5 12.1 2.8 12.4 2.6C12.7 2.4 12.7 1.7 12.9 1.6C13.1 1.5 13.5 2.1 13.8 2.0C14.2 1.9 14.5 1.0 14.9 1.0C15.3 1.0 15.7 2.0 16.1 2.0Z" fill="#f6b620"/><path d="M5.4 8.6C5.2 12.4 10 16.6 16.1 16.6C22.2 16.6 27 12.4 26.8 8.6C24.8 5 7.4 5 5.4 8.6Z" fill="#ffd928" opacity="0.55"/><ellipse cx="16.1" cy="8.3" rx="9.0" ry="7.3" fill="url(#h27)"/><path d="M5.6 10.9C7 14 11 16.4 16.1 16.5C21.2 16.4 25.2 14 26.6 10.9M6.7 7.5C6.1 9.6 6.6 11.6 8 13.3M25.5 7.5C26.1 9.6 25.6 11.6 24.2 13.3" fill="none" stroke="#e29418" stroke-width="0.7" stroke-linecap="round" opacity="0.6"/><path d="M12.6 6.8C12.1 9 12.3 11.6 13 13.6M16.1 6C15.9 8.5 15.9 11.6 16.2 14.2M19.6 6.8C20.1 9 19.9 11.6 19.2 13.6" fill="none" stroke="#f4b01e" stroke-width="0.9" stroke-linecap="round" opacity="0.5"/></g></svg>
<svg class="fl" style="left:136px;top:489px;" width="33" height="33" viewBox="0 0 33 33"><defs><radialGradient id="h28" cx="16.1" cy="8" r="9.2" gradientUnits="userSpaceOnUse"><stop offset="0" stop-color="#ffea50"/><stop offset="0.6" stop-color="#ffd928"/><stop offset="1" stop-color="#f6b620"/></radialGradient><radialGradient id="l28" cx="0.5" cy="0.45" r="0.6"><stop offset="0" stop-color="#3caa46"/><stop offset="0.6" stop-color="#1d8c38"/><stop offset="1" stop-color="#0c6c2e"/></radialGradient></defs><g transform="translate(0.2 0)"><g transform="translate(-0.1 0)"><path d="M15.9 18.5C15.8 23 15.6 27 15.5 30.4" fill="none" stroke="#1f8c3c" stroke-width="2.1" stroke-linecap="round"/><path d="M14.7 22.6C14.3 21.5 13.1 20.8 12.2 20.3C11.3 19.9 10.5 19.9 9.5 19.9C8.5 19.9 7.4 20.0 6.4 20.4C5.5 20.8 4.1 21.7 3.8 22.4C3.5 23.1 4.3 24.0 4.7 24.6C5.1 25.2 5.9 25.6 6.4 26.1C6.9 26.6 7.1 27.4 7.6 27.8C8.1 28.2 8.8 28.4 9.6 28.5C10.4 28.6 11.4 28.4 12.2 28.2C13.0 28.0 14.1 28.1 14.5 27.2C14.9 26.3 15.1 23.8 14.7 22.6Z" fill="url(#l28)" stroke="#0f7a34" stroke-width="0.5"/><path d="M16.6 25.2C17.0 24.2 17.9 23.5 18.8 23.0C19.7 22.5 20.9 22.3 22.0 22.2C23.1 22.1 24.5 22.2 25.5 22.6C26.5 23.0 27.8 23.9 28.0 24.6C28.2 25.3 27.4 26.2 27.0 26.8C26.6 27.4 26.0 27.8 25.5 28.3C25.0 28.8 24.7 29.5 24.0 29.9C23.3 30.3 22.4 30.6 21.5 30.6C20.6 30.7 19.5 30.4 18.6 30.2C17.8 30.0 16.7 30.0 16.4 29.2C16.1 28.4 16.2 26.2 16.6 25.2Z" fill="url(#l28)" stroke="#0f7a34" stroke-width="0.5"/></g><path d="M16.1 1.1C16.5 1.1 17.0 0.2 17.4 0.2C17.8 0.2 18.2 1.0 18.6 1.1C19.0 1.2 19.3 0.7 19.6 0.8C19.9 0.9 19.9 1.6 20.2 1.9C20.5 2.1 21.3 1.8 21.6 2.0C21.8 2.3 21.6 3.0 21.9 3.2C22.1 3.5 22.9 3.2 23.2 3.5C23.5 3.8 23.2 4.7 23.5 5.0C23.7 5.3 24.5 5.2 24.7 5.5C24.9 5.9 24.5 6.5 24.7 6.8C24.8 7.2 25.0 7.4 25.4 7.5C25.8 7.6 26.4 7.2 26.8 7.4C27.2 7.6 27.6 8.2 27.7 8.6C27.8 9.0 27.4 9.5 27.2 9.9C27.0 10.3 26.4 10.7 26.5 10.9C26.6 11.1 27.6 10.7 28.1 10.9C28.6 11.1 29.3 11.5 29.5 11.9C29.7 12.3 29.6 12.7 29.5 13.1C29.4 13.5 29.3 13.9 29.0 14.2C28.6 14.5 27.9 14.6 27.5 14.9C27.0 15.3 26.8 16.0 26.4 16.4C25.9 16.8 25.1 16.7 24.5 17.1C23.9 17.5 23.4 18.2 22.7 18.6C22.0 18.9 21.3 18.7 20.6 18.9C19.8 19.1 19.1 19.8 18.5 19.9C17.8 20.1 17.4 19.8 16.9 19.8C16.4 19.7 15.8 19.7 15.3 19.8C14.8 19.8 14.4 20.1 13.8 19.9C13.1 19.8 12.4 19.1 11.7 18.9C10.9 18.7 10.2 18.9 9.5 18.6C8.8 18.2 8.3 17.5 7.7 17.1C7.1 16.7 6.3 16.8 5.9 16.4C5.4 16.0 5.2 15.3 4.8 14.9C4.3 14.6 3.6 14.5 3.3 14.2C2.9 13.9 2.8 13.5 2.7 13.1C2.6 12.7 2.5 12.3 2.7 11.9C2.9 11.5 3.6 11.1 4.1 10.9C4.6 10.7 5.6 11.1 5.7 10.9C5.9 10.7 5.2 10.3 5.0 9.9C4.8 9.5 4.4 9.0 4.5 8.6C4.6 8.2 5.0 7.6 5.4 7.4C5.8 7.2 6.4 7.6 6.8 7.5C7.2 7.4 7.4 7.2 7.6 6.8C7.7 6.5 7.3 5.9 7.5 5.5C7.7 5.2 8.5 5.3 8.8 5.0C9.0 4.7 8.7 3.8 9.0 3.5C9.3 3.2 10.1 3.5 10.4 3.2C10.6 3.0 10.4 2.3 10.7 2.0C10.9 1.8 11.7 2.1 12.0 1.9C12.3 1.6 12.3 0.9 12.6 0.8C12.9 0.7 13.2 1.2 13.6 1.1C14.0 1.0 14.4 0.2 14.8 0.2C15.2 0.2 15.7 1.1 16.1 1.1Z" fill="#e29418"/><path d="M16.1 2.0C16.5 2.0 16.9 1.0 17.3 1.0C17.7 1.0 18.0 1.9 18.4 2.0C18.7 2.1 19.1 1.5 19.3 1.6C19.5 1.7 19.5 2.4 19.8 2.6C20.1 2.8 20.8 2.5 21.1 2.8C21.3 3.0 21.1 3.6 21.3 3.8C21.6 4.1 22.3 3.9 22.6 4.1C22.8 4.4 22.5 5.2 22.7 5.5C23.0 5.8 23.8 5.7 23.9 5.9C24.1 6.2 23.7 6.8 23.9 7.1C24.0 7.4 24.2 7.6 24.6 7.7C24.9 7.8 25.6 7.4 26.0 7.6C26.4 7.8 26.8 8.3 26.9 8.7C26.9 9.1 26.6 9.6 26.4 9.9C26.1 10.3 25.5 10.7 25.7 10.8C25.8 11.0 26.8 10.7 27.3 10.8C27.8 11.0 28.4 11.4 28.7 11.8C28.9 12.1 28.8 12.5 28.7 12.9C28.6 13.3 28.5 13.7 28.1 13.9C27.8 14.2 27.1 14.3 26.7 14.6C26.3 14.9 26.1 15.6 25.6 15.9C25.2 16.3 24.4 16.2 23.9 16.6C23.3 16.9 22.8 17.6 22.2 17.9C21.6 18.1 20.8 17.9 20.2 18.1C19.5 18.3 18.8 19.0 18.3 19.1C17.7 19.2 17.3 18.9 16.8 18.9C16.3 18.9 15.9 18.9 15.4 18.9C14.9 18.9 14.5 19.2 13.9 19.1C13.4 19.0 12.7 18.3 12.0 18.1C11.4 17.9 10.6 18.1 10.0 17.9C9.4 17.6 8.9 16.9 8.3 16.6C7.8 16.2 7.0 16.3 6.6 15.9C6.1 15.6 5.9 14.9 5.5 14.6C5.1 14.3 4.4 14.2 4.1 13.9C3.7 13.7 3.6 13.3 3.5 12.9C3.4 12.5 3.3 12.1 3.5 11.8C3.8 11.4 4.4 11.0 4.9 10.8C5.4 10.7 6.4 11.0 6.5 10.8C6.7 10.7 6.1 10.3 5.8 9.9C5.6 9.6 5.3 9.1 5.3 8.7C5.4 8.3 5.8 7.8 6.2 7.6C6.6 7.4 7.3 7.8 7.6 7.7C8.0 7.6 8.2 7.4 8.3 7.1C8.5 6.8 8.1 6.2 8.3 5.9C8.4 5.7 9.2 5.8 9.5 5.5C9.7 5.2 9.4 4.4 9.6 4.1C9.9 3.9 10.6 4.1 10.9 3.8C11.1 3.6 10.9 3.0 11.1 2.8C11.4 2.5 12.1 2.8 12.4 2.6C12.7 2.4 12.7 1.7 12.9 1.6C13.1 1.5 13.5 2.1 13.8 2.0C14.2 1.9 14.5 1.0 14.9 1.0C15.3 1.0 15.7 2.0 16.1 2.0Z" fill="#f6b620"/><path d="M5.4 8.6C5.2 12.4 10 16.6 16.1 16.6C22.2 16.6 27 12.4 26.8 8.6C24.8 5 7.4 5 5.4 8.6Z" fill="#ffd928" opacity="0.55"/><ellipse cx="16.1" cy="8.3" rx="9.0" ry="7.3" fill="url(#h28)"/><path d="M5.6 10.9C7 14 11 16.4 16.1 16.5C21.2 16.4 25.2 14 26.6 10.9M6.7 7.5C6.1 9.6 6.6 11.6 8 13.3M25.5 7.5C26.1 9.6 25.6 11.6 24.2 13.3" fill="none" stroke="#e29418" stroke-width="0.7" stroke-linecap="round" opacity="0.6"/><path d="M12.6 6.8C12.1 9 12.3 11.6 13 13.6M16.1 6C15.9 8.5 15.9 11.6 16.2 14.2M19.6 6.8C20.1 9 19.9 11.6 19.2 13.6" fill="none" stroke="#f4b01e" stroke-width="0.9" stroke-linecap="round" opacity="0.5"/></g></svg>
<svg class="fl" style="left:203px;top:489px;" width="33" height="33" viewBox="0 0 33 33"><defs><radialGradient id="h29" cx="16.1" cy="8" r="9.2" gradientUnits="userSpaceOnUse"><stop offset="0" stop-color="#ffea50"/><stop offset="0.6" stop-color="#ffd928"/><stop offset="1" stop-color="#f6b620"/></radialGradient><radialGradient id="l29" cx="0.5" cy="0.45" r="0.6"><stop offset="0" stop-color="#3caa46"/><stop offset="0.6" stop-color="#1d8c38"/><stop offset="1" stop-color="#0c6c2e"/></radialGradient></defs><g transform="translate(0.5 0)"><g transform="translate(-0.1 0)"><path d="M15.9 18.5C15.8 23 15.6 27 15.5 30.4" fill="none" stroke="#1f8c3c" stroke-width="2.1" stroke-linecap="round"/><path d="M14.7 22.6C14.3 21.5 13.1 20.8 12.2 20.3C11.3 19.9 10.5 19.9 9.5 19.9C8.5 19.9 7.4 20.0 6.4 20.4C5.5 20.8 4.1 21.7 3.8 22.4C3.5 23.1 4.3 24.0 4.7 24.6C5.1 25.2 5.9 25.6 6.4 26.1C6.9 26.6 7.1 27.4 7.6 27.8C8.1 28.2 8.8 28.4 9.6 28.5C10.4 28.6 11.4 28.4 12.2 28.2C13.0 28.0 14.1 28.1 14.5 27.2C14.9 26.3 15.1 23.8 14.7 22.6Z" fill="url(#l29)" stroke="#0f7a34" stroke-width="0.5"/><path d="M16.6 25.2C17.0 24.2 17.9 23.5 18.8 23.0C19.7 22.5 20.9 22.3 22.0 22.2C23.1 22.1 24.5 22.2 25.5 22.6C26.5 23.0 27.8 23.9 28.0 24.6C28.2 25.3 27.4 26.2 27.0 26.8C26.6 27.4 26.0 27.8 25.5 28.3C25.0 28.8 24.7 29.5 24.0 29.9C23.3 30.3 22.4 30.6 21.5 30.6C20.6 30.7 19.5 30.4 18.6 30.2C17.8 30.0 16.7 30.0 16.4 29.2C16.1 28.4 16.2 26.2 16.6 25.2Z" fill="url(#l29)" stroke="#0f7a34" stroke-width="0.5"/></g><path d="M16.1 1.1C16.5 1.1 17.0 0.2 17.4 0.2C17.8 0.2 18.2 1.0 18.6 1.1C19.0 1.2 19.3 0.7 19.6 0.8C19.9 0.9 19.9 1.6 20.2 1.9C20.5 2.1 21.3 1.8 21.6 2.0C21.8 2.3 21.6 3.0 21.9 3.2C22.1 3.5 22.9 3.2 23.2 3.5C23.5 3.8 23.2 4.7 23.5 5.0C23.7 5.3 24.5 5.2 24.7 5.5C24.9 5.9 24.5 6.5 24.7 6.8C24.8 7.2 25.0 7.4 25.4 7.5C25.8 7.6 26.4 7.2 26.8 7.4C27.2 7.6 27.6 8.2 27.7 8.6C27.8 9.0 27.4 9.5 27.2 9.9C27.0 10.3 26.4 10.7 26.5 10.9C26.6 11.1 27.6 10.7 28.1 10.9C28.6 11.1 29.3 11.5 29.5 11.9C29.7 12.3 29.6 12.7 29.5 13.1C29.4 13.5 29.3 13.9 29.0 14.2C28.6 14.5 27.9 14.6 27.5 14.9C27.0 15.3 26.8 16.0 26.4 16.4C25.9 16.8 25.1 16.7 24.5 17.1C23.9 17.5 23.4 18.2 22.7 18.6C22.0 18.9 21.3 18.7 20.6 18.9C19.8 19.1 19.1 19.8 18.5 19.9C17.8 20.1 17.4 19.8 16.9 19.8C16.4 19.7 15.8 19.7 15.3 19.8C14.8 19.8 14.4 20.1 13.8 19.9C13.1 19.8 12.4 19.1 11.7 18.9C10.9 18.7 10.2 18.9 9.5 18.6C8.8 18.2 8.3 17.5 7.7 17.1C7.1 16.7 6.3 16.8 5.9 16.4C5.4 16.0 5.2 15.3 4.8 14.9C4.3 14.6 3.6 14.5 3.3 14.2C2.9 13.9 2.8 13.5 2.7 13.1C2.6 12.7 2.5 12.3 2.7 11.9C2.9 11.5 3.6 11.1 4.1 10.9C4.6 10.7 5.6 11.1 5.7 10.9C5.9 10.7 5.2 10.3 5.0 9.9C4.8 9.5 4.4 9.0 4.5 8.6C4.6 8.2 5.0 7.6 5.4 7.4C5.8 7.2 6.4 7.6 6.8 7.5C7.2 7.4 7.4 7.2 7.6 6.8C7.7 6.5 7.3 5.9 7.5 5.5C7.7 5.2 8.5 5.3 8.8 5.0C9.0 4.7 8.7 3.8 9.0 3.5C9.3 3.2 10.1 3.5 10.4 3.2C10.6 3.0 10.4 2.3 10.7 2.0C10.9 1.8 11.7 2.1 12.0 1.9C12.3 1.6 12.3 0.9 12.6 0.8C12.9 0.7 13.2 1.2 13.6 1.1C14.0 1.0 14.4 0.2 14.8 0.2C15.2 0.2 15.7 1.1 16.1 1.1Z" fill="#e29418"/><path d="M16.1 2.0C16.5 2.0 16.9 1.0 17.3 1.0C17.7 1.0 18.0 1.9 18.4 2.0C18.7 2.1 19.1 1.5 19.3 1.6C19.5 1.7 19.5 2.4 19.8 2.6C20.1 2.8 20.8 2.5 21.1 2.8C21.3 3.0 21.1 3.6 21.3 3.8C21.6 4.1 22.3 3.9 22.6 4.1C22.8 4.4 22.5 5.2 22.7 5.5C23.0 5.8 23.8 5.7 23.9 5.9C24.1 6.2 23.7 6.8 23.9 7.1C24.0 7.4 24.2 7.6 24.6 7.7C24.9 7.8 25.6 7.4 26.0 7.6C26.4 7.8 26.8 8.3 26.9 8.7C26.9 9.1 26.6 9.6 26.4 9.9C26.1 10.3 25.5 10.7 25.7 10.8C25.8 11.0 26.8 10.7 27.3 10.8C27.8 11.0 28.4 11.4 28.7 11.8C28.9 12.1 28.8 12.5 28.7 12.9C28.6 13.3 28.5 13.7 28.1 13.9C27.8 14.2 27.1 14.3 26.7 14.6C26.3 14.9 26.1 15.6 25.6 15.9C25.2 16.3 24.4 16.2 23.9 16.6C23.3 16.9 22.8 17.6 22.2 17.9C21.6 18.1 20.8 17.9 20.2 18.1C19.5 18.3 18.8 19.0 18.3 19.1C17.7 19.2 17.3 18.9 16.8 18.9C16.3 18.9 15.9 18.9 15.4 18.9C14.9 18.9 14.5 19.2 13.9 19.1C13.4 19.0 12.7 18.3 12.0 18.1C11.4 17.9 10.6 18.1 10.0 17.9C9.4 17.6 8.9 16.9 8.3 16.6C7.8 16.2 7.0 16.3 6.6 15.9C6.1 15.6 5.9 14.9 5.5 14.6C5.1 14.3 4.4 14.2 4.1 13.9C3.7 13.7 3.6 13.3 3.5 12.9C3.4 12.5 3.3 12.1 3.5 11.8C3.8 11.4 4.4 11.0 4.9 10.8C5.4 10.7 6.4 11.0 6.5 10.8C6.7 10.7 6.1 10.3 5.8 9.9C5.6 9.6 5.3 9.1 5.3 8.7C5.4 8.3 5.8 7.8 6.2 7.6C6.6 7.4 7.3 7.8 7.6 7.7C8.0 7.6 8.2 7.4 8.3 7.1C8.5 6.8 8.1 6.2 8.3 5.9C8.4 5.7 9.2 5.8 9.5 5.5C9.7 5.2 9.4 4.4 9.6 4.1C9.9 3.9 10.6 4.1 10.9 3.8C11.1 3.6 10.9 3.0 11.1 2.8C11.4 2.5 12.1 2.8 12.4 2.6C12.7 2.4 12.7 1.7 12.9 1.6C13.1 1.5 13.5 2.1 13.8 2.0C14.2 1.9 14.5 1.0 14.9 1.0C15.3 1.0 15.7 2.0 16.1 2.0Z" fill="#f6b620"/><path d="M5.4 8.6C5.2 12.4 10 16.6 16.1 16.6C22.2 16.6 27 12.4 26.8 8.6C24.8 5 7.4 5 5.4 8.6Z" fill="#ffd928" opacity="0.55"/><ellipse cx="16.1" cy="8.3" rx="9.0" ry="7.3" fill="url(#h29)"/><path d="M5.6 10.9C7 14 11 16.4 16.1 16.5C21.2 16.4 25.2 14 26.6 10.9M6.7 7.5C6.1 9.6 6.6 11.6 8 13.3M25.5 7.5C26.1 9.6 25.6 11.6 24.2 13.3" fill="none" stroke="#e29418" stroke-width="0.7" stroke-linecap="round" opacity="0.6"/><path d="M12.6 6.8C12.1 9 12.3 11.6 13 13.6M16.1 6C15.9 8.5 15.9 11.6 16.2 14.2M19.6 6.8C20.1 9 19.9 11.6 19.2 13.6" fill="none" stroke="#f4b01e" stroke-width="0.9" stroke-linecap="round" opacity="0.5"/></g></svg>
<svg class="fl" style="left:316px;top:489px;" width="33" height="33" viewBox="0 0 33 33"><defs><radialGradient id="h30" cx="16.1" cy="8" r="9.2" gradientUnits="userSpaceOnUse"><stop offset="0" stop-color="#dcf04a"/><stop offset="0.6" stop-color="#cae42e"/><stop offset="1" stop-color="#b4d01c"/></radialGradient><radialGradient id="l30" cx="0.5" cy="0.45" r="0.6"><stop offset="0" stop-color="#3caa46"/><stop offset="0.6" stop-color="#1d8c38"/><stop offset="1" stop-color="#0c6c2e"/></radialGradient></defs><g transform="translate(0.6 0)"><g transform="translate(-0.1 0)"><path d="M15.9 18.5C15.8 23 15.6 27 15.5 30.4" fill="none" stroke="#1f8c3c" stroke-width="2.1" stroke-linecap="round"/><path d="M14.7 22.6C14.3 21.5 13.1 20.8 12.2 20.3C11.3 19.9 10.5 19.9 9.5 19.9C8.5 19.9 7.4 20.0 6.4 20.4C5.5 20.8 4.1 21.7 3.8 22.4C3.5 23.1 4.3 24.0 4.7 24.6C5.1 25.2 5.9 25.6 6.4 26.1C6.9 26.6 7.1 27.4 7.6 27.8C8.1 28.2 8.8 28.4 9.6 28.5C10.4 28.6 11.4 28.4 12.2 28.2C13.0 28.0 14.1 28.1 14.5 27.2C14.9 26.3 15.1 23.8 14.7 22.6Z" fill="url(#l30)" stroke="#0f7a34" stroke-width="0.5"/><path d="M16.6 25.2C17.0 24.2 17.9 23.5 18.8 23.0C19.7 22.5 20.9 22.3 22.0 22.2C23.1 22.1 24.5 22.2 25.5 22.6C26.5 23.0 27.8 23.9 28.0 24.6C28.2 25.3 27.4 26.2 27.0 26.8C26.6 27.4 26.0 27.8 25.5 28.3C25.0 28.8 24.7 29.5 24.0 29.9C23.3 30.3 22.4 30.6 21.5 30.6C20.6 30.7 19.5 30.4 18.6 30.2C17.8 30.0 16.7 30.0 16.4 29.2C16.1 28.4 16.2 26.2 16.6 25.2Z" fill="url(#l30)" stroke="#0f7a34" stroke-width="0.5"/></g><path d="M16.1 1.1C16.5 1.1 17.0 0.2 17.4 0.2C17.8 0.2 18.2 1.0 18.6 1.1C19.0 1.2 19.3 0.7 19.6 0.8C19.9 0.9 19.9 1.6 20.2 1.9C20.5 2.1 21.3 1.8 21.6 2.0C21.8 2.3 21.6 3.0 21.9 3.2C22.1 3.5 22.9 3.2 23.2 3.5C23.5 3.8 23.2 4.7 23.5 5.0C23.7 5.3 24.5 5.2 24.7 5.5C24.9 5.9 24.5 6.5 24.7 6.8C24.8 7.2 25.0 7.4 25.4 7.5C25.8 7.6 26.4 7.2 26.8 7.4C27.2 7.6 27.6 8.2 27.7 8.6C27.8 9.0 27.4 9.5 27.2 9.9C27.0 10.3 26.4 10.7 26.5 10.9C26.6 11.1 27.6 10.7 28.1 10.9C28.6 11.1 29.3 11.5 29.5 11.9C29.7 12.3 29.6 12.7 29.5 13.1C29.4 13.5 29.3 13.9 29.0 14.2C28.6 14.5 27.9 14.6 27.5 14.9C27.0 15.3 26.8 16.0 26.4 16.4C25.9 16.8 25.1 16.7 24.5 17.1C23.9 17.5 23.4 18.2 22.7 18.6C22.0 18.9 21.3 18.7 20.6 18.9C19.8 19.1 19.1 19.8 18.5 19.9C17.8 20.1 17.4 19.8 16.9 19.8C16.4 19.7 15.8 19.7 15.3 19.8C14.8 19.8 14.4 20.1 13.8 19.9C13.1 19.8 12.4 19.1 11.7 18.9C10.9 18.7 10.2 18.9 9.5 18.6C8.8 18.2 8.3 17.5 7.7 17.1C7.1 16.7 6.3 16.8 5.9 16.4C5.4 16.0 5.2 15.3 4.8 14.9C4.3 14.6 3.6 14.5 3.3 14.2C2.9 13.9 2.8 13.5 2.7 13.1C2.6 12.7 2.5 12.3 2.7 11.9C2.9 11.5 3.6 11.1 4.1 10.9C4.6 10.7 5.6 11.1 5.7 10.9C5.9 10.7 5.2 10.3 5.0 9.9C4.8 9.5 4.4 9.0 4.5 8.6C4.6 8.2 5.0 7.6 5.4 7.4C5.8 7.2 6.4 7.6 6.8 7.5C7.2 7.4 7.4 7.2 7.6 6.8C7.7 6.5 7.3 5.9 7.5 5.5C7.7 5.2 8.5 5.3 8.8 5.0C9.0 4.7 8.7 3.8 9.0 3.5C9.3 3.2 10.1 3.5 10.4 3.2C10.6 3.0 10.4 2.3 10.7 2.0C10.9 1.8 11.7 2.1 12.0 1.9C12.3 1.6 12.3 0.9 12.6 0.8C12.9 0.7 13.2 1.2 13.6 1.1C14.0 1.0 14.4 0.2 14.8 0.2C15.2 0.2 15.7 1.1 16.1 1.1Z" fill="#93ae0e"/><path d="M16.1 2.0C16.5 2.0 16.9 1.0 17.3 1.0C17.7 1.0 18.0 1.9 18.4 2.0C18.7 2.1 19.1 1.5 19.3 1.6C19.5 1.7 19.5 2.4 19.8 2.6C20.1 2.8 20.8 2.5 21.1 2.8C21.3 3.0 21.1 3.6 21.3 3.8C21.6 4.1 22.3 3.9 22.6 4.1C22.8 4.4 22.5 5.2 22.7 5.5C23.0 5.8 23.8 5.7 23.9 5.9C24.1 6.2 23.7 6.8 23.9 7.1C24.0 7.4 24.2 7.6 24.6 7.7C24.9 7.8 25.6 7.4 26.0 7.6C26.4 7.8 26.8 8.3 26.9 8.7C26.9 9.1 26.6 9.6 26.4 9.9C26.1 10.3 25.5 10.7 25.7 10.8C25.8 11.0 26.8 10.7 27.3 10.8C27.8 11.0 28.4 11.4 28.7 11.8C28.9 12.1 28.8 12.5 28.7 12.9C28.6 13.3 28.5 13.7 28.1 13.9C27.8 14.2 27.1 14.3 26.7 14.6C26.3 14.9 26.1 15.6 25.6 15.9C25.2 16.3 24.4 16.2 23.9 16.6C23.3 16.9 22.8 17.6 22.2 17.9C21.6 18.1 20.8 17.9 20.2 18.1C19.5 18.3 18.8 19.0 18.3 19.1C17.7 19.2 17.3 18.9 16.8 18.9C16.3 18.9 15.9 18.9 15.4 18.9C14.9 18.9 14.5 19.2 13.9 19.1C13.4 19.0 12.7 18.3 12.0 18.1C11.4 17.9 10.6 18.1 10.0 17.9C9.4 17.6 8.9 16.9 8.3 16.6C7.8 16.2 7.0 16.3 6.6 15.9C6.1 15.6 5.9 14.9 5.5 14.6C5.1 14.3 4.4 14.2 4.1 13.9C3.7 13.7 3.6 13.3 3.5 12.9C3.4 12.5 3.3 12.1 3.5 11.8C3.8 11.4 4.4 11.0 4.9 10.8C5.4 10.7 6.4 11.0 6.5 10.8C6.7 10.7 6.1 10.3 5.8 9.9C5.6 9.6 5.3 9.1 5.3 8.7C5.4 8.3 5.8 7.8 6.2 7.6C6.6 7.4 7.3 7.8 7.6 7.7C8.0 7.6 8.2 7.4 8.3 7.1C8.5 6.8 8.1 6.2 8.3 5.9C8.4 5.7 9.2 5.8 9.5 5.5C9.7 5.2 9.4 4.4 9.6 4.1C9.9 3.9 10.6 4.1 10.9 3.8C11.1 3.6 10.9 3.0 11.1 2.8C11.4 2.5 12.1 2.8 12.4 2.6C12.7 2.4 12.7 1.7 12.9 1.6C13.1 1.5 13.5 2.1 13.8 2.0C14.2 1.9 14.5 1.0 14.9 1.0C15.3 1.0 15.7 2.0 16.1 2.0Z" fill="#b4d01c"/><path d="M5.4 8.6C5.2 12.4 10 16.6 16.1 16.6C22.2 16.6 27 12.4 26.8 8.6C24.8 5 7.4 5 5.4 8.6Z" fill="#cae42e" opacity="0.55"/><ellipse cx="16.1" cy="8.3" rx="9.0" ry="7.3" fill="url(#h30)"/><path d="M5.6 10.9C7 14 11 16.4 16.1 16.5C21.2 16.4 25.2 14 26.6 10.9M6.7 7.5C6.1 9.6 6.6 11.6 8 13.3M25.5 7.5C26.1 9.6 25.6 11.6 24.2 13.3" fill="none" stroke="#93ae0e" stroke-width="0.7" stroke-linecap="round" opacity="0.6"/><path d="M12.6 6.8C12.1 9 12.3 11.6 13 13.6M16.1 6C15.9 8.5 15.9 11.6 16.2 14.2M19.6 6.8C20.1 9 19.9 11.6 19.2 13.6" fill="none" stroke="#a6c416" stroke-width="0.9" stroke-linecap="round" opacity="0.5"/></g></svg>
<div class="tip"></div>
<div class="t h" id="t0" style="left:24.34px;top:18px;letter-spacing:-0.165px">Couleur</div>
<div class="t h" id="t1" style="left:16.41px;top:43px;letter-spacing:0.169px">souhaitée</div>
<div class="t h" id="t2" style="left:253.76px;top:31px;letter-spacing:-0.060px">Croisement(s)</div>
<div class="t h" id="t3" style="left:564.40px;top:31px;letter-spacing:-0.643px">Taux</div>
<div class="t h" id="t4" style="left:600.33px;top:31px;letter-spacing:-0.420px">de</div>
<div class="t h" id="t5" style="left:619.76px;top:31px;letter-spacing:0.125px">réussite</div>
<div class="t h" id="t6" style="left:681.98px;top:31px;letter-spacing:0.094px">(NH)</div>
<div class="t" id="t7" style="left:297.04px;top:83px;letter-spacing:0.937px">et</div>
<div class="t" id="t8" style="left:620.58px;top:84px;font-size:14px;letter-spacing:-0.192px">100%</div>
<div class="t" id="t9" style="left:297.04px;top:132px;letter-spacing:0.937px">et</div>
<div class="t" id="t10" style="left:625.08px;top:133px;font-size:14px;letter-spacing:-0.872px">25%</div>
<div class="t" id="t11" style="left:118.88px;top:187px;letter-spacing:-1.778px">1.</div>
<div class="t" id="t12" style="left:175.48px;top:187px;letter-spacing:0.709px">et</div>
<div class="t" id="t13" style="left:236.00px;top:187px;letter-spacing:-0.008px">donnent</div>
<div class="t" id="t14" style="left:294.10px;top:187px;font-size:14px">2</div>
<div class="t" id="t15" style="left:342.84px;top:187px;font-size:14px">*</div>
<div class="t" id="t16" style="left:116.90px;top:227px;letter-spacing:0.329px">2.</div>
<div class="t" id="t17" style="left:173.00px;top:227px;font-size:14px">*</div>
<div class="t" id="t18" style="left:181.91px;top:227px;letter-spacing:0.224px">et</div>
<div class="t" id="t19" style="left:239.20px;top:227px;font-size:14px">*</div>
<div class="t" id="t20" style="left:248.14px;top:227px;letter-spacing:0.045px">donnent</div>
<div class="t" id="t21" style="left:305.57px;top:227px;font-size:14px">1</div>
<div class="t" id="t22" style="left:118.88px;top:300px;letter-spacing:-1.778px">1.</div>
<div class="t" id="t23" style="left:175.48px;top:300px;letter-spacing:0.709px">et</div>
<div class="t" id="t24" style="left:236.00px;top:300px;letter-spacing:-0.008px">donnent</div>
<div class="t" id="t25" style="left:294.10px;top:300px;font-size:14px">2</div>
<div class="t" id="t26" style="left:342.84px;top:300px;font-size:14px">*</div>
<div class="t" id="t27" style="left:116.90px;top:340px;letter-spacing:0.329px">2.</div>
<div class="t" id="t28" style="left:173.00px;top:340px;font-size:14px">*</div>
<div class="t" id="t29" style="left:181.91px;top:340px;letter-spacing:0.224px">et</div>
<div class="t" id="t30" style="left:239.20px;top:340px;font-size:14px">*</div>
<div class="t" id="t31" style="left:248.14px;top:340px;letter-spacing:0.045px">donnent</div>
<div class="t" id="t32" style="left:306.60px;top:340px;font-size:14px">2</div>
<div class="t" id="t33" style="left:355.34px;top:340px;font-size:14px">*</div>
<div class="t" id="t34" style="left:117.16px;top:380px;letter-spacing:-0.122px">3.</div>
<div class="t" id="t35" style="left:173.00px;top:380px;font-size:14px">*</div>
<div class="t" id="t36" style="left:181.91px;top:380px;letter-spacing:0.224px">et</div>
<div class="t" id="t37" style="left:239.20px;top:380px;font-size:14px">*</div>
<div class="t" id="t38" style="left:248.14px;top:380px;letter-spacing:0.045px">donnent</div>
<div class="t" id="t39" style="left:305.57px;top:380px;font-size:14px">1</div>
<div class="t" id="t40" style="left:118.88px;top:453px;letter-spacing:-1.778px">1.</div>
<div class="t" id="t41" style="left:175.48px;top:453px;letter-spacing:0.709px">et</div>
<div class="t" id="t42" style="left:236.00px;top:453px;letter-spacing:-0.008px">donnent</div>
<div class="t" id="t43" style="left:294.10px;top:453px;font-size:14px">2</div>
<div class="t" id="t44" style="left:342.84px;top:453px;font-size:14px">*</div>
<div class="t" id="t45" style="left:116.90px;top:493px;letter-spacing:0.329px">2.</div>
<div class="t" id="t46" style="left:173.00px;top:493px;font-size:14px">*</div>
<div class="t" id="t47" style="left:181.91px;top:493px;letter-spacing:0.224px">et</div>
<div class="t" id="t48" style="left:239.20px;top:493px;font-size:14px">*</div>
<div class="t" id="t49" style="left:248.14px;top:493px;letter-spacing:0.045px">donnent</div>
<div class="t" id="t50" style="left:305.57px;top:493px;font-size:14px">1</div>
<div class="t" id="t51" style="left:544.58px;top:196px;letter-spacing:-0.341px">Étape</div>
<div class="t" id="t52" style="left:584.50px;top:196px;font-size:14px">1</div>
<div class="t" id="t53" style="left:595.34px;top:196px">:</div>
<div class="t" id="t54" style="left:601.55px;top:196px;font-size:14px;letter-spacing:-0.191px">100%</div>
<div class="t" id="t55" style="left:544.58px;top:220px;letter-spacing:-0.341px">Étape</div>
<div class="t" id="t56" style="left:586.20px;top:220px;font-size:14px">2</div>
<div class="t" id="t57" style="left:597.53px;top:220px">:</div>
<div class="t" id="t58" style="left:604.01px;top:220px;font-size:14px;letter-spacing:-0.211px">25%</div>
<div class="t" id="t59" style="left:544.58px;top:317px;letter-spacing:-0.341px">Étape</div>
<div class="t" id="t60" style="left:584.50px;top:317px;font-size:14px">1</div>
<div class="t" id="t61" style="left:595.34px;top:317px">:</div>
<div class="t" id="t62" style="left:601.55px;top:317px;font-size:14px;letter-spacing:-0.191px">100%</div>
<div class="t" id="t63" style="left:544.58px;top:341px;letter-spacing:-0.341px">Étape</div>
<div class="t" id="t64" style="left:586.20px;top:341px;font-size:14px">2</div>
<div class="t" id="t65" style="left:597.53px;top:341px">:</div>
<div class="t" id="t66" style="left:604.01px;top:341px;font-size:14px;letter-spacing:-0.211px">25%</div>
<div class="t" id="t67" style="left:544.58px;top:366px;letter-spacing:-0.341px">Étape</div>
<div class="t" id="t68" style="left:586.20px;top:366px;font-size:14px">3</div>
<div class="t" id="t69" style="left:597.53px;top:366px">:</div>
<div class="t" id="t70" style="left:604.01px;top:366px;font-size:14px;letter-spacing:-0.211px">25%</div>
<div class="t" id="t71" style="left:544.58px;top:462px;letter-spacing:-0.341px">Étape</div>
<div class="t" id="t72" style="left:584.50px;top:462px;font-size:14px">1</div>
<div class="t" id="t73" style="left:595.34px;top:462px">:</div>
<div class="t" id="t74" style="left:601.55px;top:462px;font-size:14px;letter-spacing:-0.191px">100%</div>
<div class="t" id="t75" style="left:544.58px;top:486px;letter-spacing:-0.341px">Étape</div>
<div class="t" id="t76" style="left:586.20px;top:486px;font-size:14px">2</div>
<div class="t" id="t77" style="left:597.53px;top:486px">:</div>
<div class="t" id="t78" style="left:603.71px;top:486px;font-size:14px;letter-spacing:-0.098px">6,25%</div>
<div class="t tt" id="t79" style="left:326.93px;top:171px;font-size:12px;letter-spacing:-0.142px">Chrysanthème(s)</div>
<div class="t tt" id="t80" style="left:420.36px;top:171px;font-size:12px;letter-spacing:-0.119px">blanc(s)</div>
<div class="bl"></div>
</body></html>
